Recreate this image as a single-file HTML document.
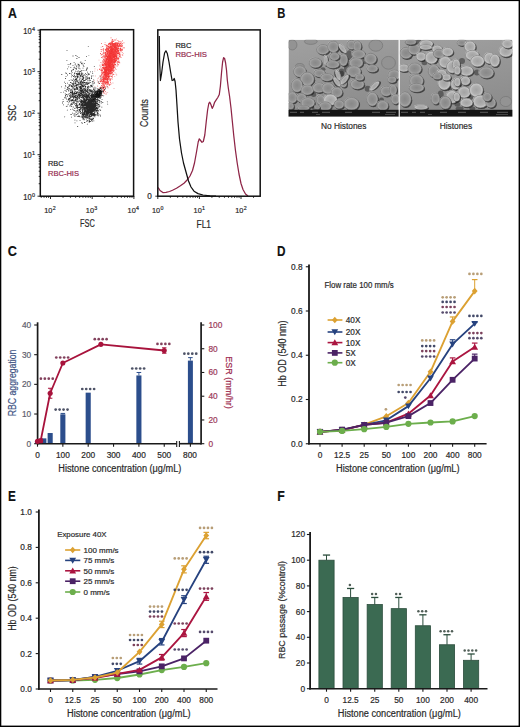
<!DOCTYPE html>
<html><head><meta charset="utf-8"><style>
html,body{margin:0;padding:0;background:#fff;}
svg{display:block;}
svg text{font-family:"Liberation Sans", sans-serif;}
</style></head><body>
<svg width="520" height="727" viewBox="0 0 520 727">
<rect x="0" y="0" width="520" height="727" fill="#fff"/>
<text x="7.9" y="17.7" font-size="14" fill="#111" stroke="#111" stroke-width="0.15" font-weight="bold" textLength="8.9" lengthAdjust="spacingAndGlyphs">A</text>
<text x="277.3" y="17.9" font-size="14" fill="#111" stroke="#111" stroke-width="0.15" font-weight="bold" textLength="8.1" lengthAdjust="spacingAndGlyphs">B</text>
<text x="7.8" y="256.3" font-size="14" fill="#111" stroke="#111" stroke-width="0.15" font-weight="bold" textLength="9.2" lengthAdjust="spacingAndGlyphs">C</text>
<text x="277.1" y="256.3" font-size="14" fill="#111" stroke="#111" stroke-width="0.15" font-weight="bold" textLength="8.5" lengthAdjust="spacingAndGlyphs">D</text>
<text x="8.1" y="501.3" font-size="14" fill="#111" stroke="#111" stroke-width="0.15" font-weight="bold" textLength="7.8" lengthAdjust="spacingAndGlyphs">E</text>
<text x="277.3" y="501.3" font-size="14" fill="#111" stroke="#111" stroke-width="0.15" font-weight="bold" textLength="7.5" lengthAdjust="spacingAndGlyphs">F</text>
<path d="M109.6 63.4h.8v.8h-.8zM107.9 69.8h.8v.8h-.8zM111.4 50.5h.8v.8h-.8zM109.8 62.9h.8v.8h-.8zM108.0 63.9h.8v.8h-.8zM110.1 59.4h.8v.8h-.8zM108.0 60.4h.8v.8h-.8zM108.1 60.7h.8v.8h-.8zM111.8 59.9h.8v.8h-.8zM104.3 76.5h.8v.8h-.8zM107.9 46.7h.8v.8h-.8zM107.2 60.8h.8v.8h-.8zM107.9 64.7h.8v.8h-.8zM111.1 50.3h.8v.8h-.8zM104.5 69.3h.8v.8h-.8zM102.9 61.5h.8v.8h-.8zM120.5 41.1h.8v.8h-.8zM106.9 69.8h.8v.8h-.8zM115.0 61.2h.8v.8h-.8zM111.0 57.9h.8v.8h-.8zM105.2 70.0h.8v.8h-.8zM98.2 77.7h.8v.8h-.8zM110.2 66.5h.8v.8h-.8zM107.9 61.0h.8v.8h-.8zM106.8 53.1h.8v.8h-.8zM98.2 77.5h.8v.8h-.8zM107.3 92.0h.8v.8h-.8zM107.0 53.8h.8v.8h-.8zM97.3 81.6h.8v.8h-.8zM113.6 88.1h.8v.8h-.8zM106.0 77.5h.8v.8h-.8zM115.9 55.6h.8v.8h-.8zM119.1 54.4h.8v.8h-.8zM94.0 81.7h.8v.8h-.8zM112.6 82.8h.8v.8h-.8zM114.0 61.6h.8v.8h-.8zM105.1 69.7h.8v.8h-.8zM111.5 53.2h.8v.8h-.8zM103.4 57.7h.8v.8h-.8zM116.8 52.9h.8v.8h-.8zM102.7 92.9h.8v.8h-.8zM112.9 63.4h.8v.8h-.8zM104.0 78.0h.8v.8h-.8zM115.4 49.7h.8v.8h-.8zM108.7 69.0h.8v.8h-.8zM105.2 67.3h.8v.8h-.8zM109.8 75.8h.8v.8h-.8zM103.8 70.3h.8v.8h-.8zM106.4 47.8h.8v.8h-.8zM111.6 55.5h.8v.8h-.8zM101.5 95.1h.8v.8h-.8zM105.1 71.2h.8v.8h-.8zM103.7 52.6h.8v.8h-.8zM98.5 93.5h.8v.8h-.8zM111.4 59.6h.8v.8h-.8zM105.3 68.9h.8v.8h-.8zM105.2 53.4h.8v.8h-.8zM108.4 55.5h.8v.8h-.8zM110.2 55.6h.8v.8h-.8zM110.3 74.8h.8v.8h-.8zM109.7 70.4h.8v.8h-.8zM108.7 50.6h.8v.8h-.8zM115.2 46.6h.8v.8h-.8zM114.7 64.0h.8v.8h-.8zM99.7 69.3h.8v.8h-.8zM109.4 54.2h.8v.8h-.8zM107.1 51.9h.8v.8h-.8zM111.7 62.4h.8v.8h-.8zM105.9 70.2h.8v.8h-.8zM97.8 90.8h.8v.8h-.8zM108.8 65.6h.8v.8h-.8zM112.2 49.5h.8v.8h-.8zM103.1 87.9h.8v.8h-.8zM104.7 42.3h.8v.8h-.8zM112.5 71.4h.8v.8h-.8zM100.4 67.8h.8v.8h-.8zM109.9 63.3h.8v.8h-.8zM114.2 58.4h.8v.8h-.8zM102.0 54.1h.8v.8h-.8zM109.7 55.4h.8v.8h-.8zM93.2 88.5h.8v.8h-.8zM100.4 66.6h.8v.8h-.8zM114.1 64.9h.8v.8h-.8zM111.2 68.2h.8v.8h-.8zM103.8 70.6h.8v.8h-.8zM106.3 58.9h.8v.8h-.8zM102.6 71.2h.8v.8h-.8zM113.2 67.3h.8v.8h-.8zM104.9 74.8h.8v.8h-.8zM101.8 85.9h.8v.8h-.8zM100.1 86.5h.8v.8h-.8zM118.7 60.4h.8v.8h-.8zM105.2 73.4h.8v.8h-.8zM114.1 57.4h.8v.8h-.8zM110.3 51.8h.8v.8h-.8zM98.7 91.7h.8v.8h-.8zM100.3 62.1h.8v.8h-.8zM108.2 73.9h.8v.8h-.8zM106.9 76.7h.8v.8h-.8zM115.5 64.7h.8v.8h-.8zM109.3 61.6h.8v.8h-.8zM114.9 43.0h.8v.8h-.8zM104.6 71.5h.8v.8h-.8zM100.6 66.0h.8v.8h-.8zM107.4 56.4h.8v.8h-.8zM115.6 73.6h.8v.8h-.8zM117.0 62.9h.8v.8h-.8zM104.1 74.6h.8v.8h-.8zM109.4 59.4h.8v.8h-.8zM114.0 56.1h.8v.8h-.8zM108.2 62.0h.8v.8h-.8zM103.6 79.9h.8v.8h-.8zM113.5 54.2h.8v.8h-.8zM114.1 47.9h.8v.8h-.8zM107.8 54.3h.8v.8h-.8zM113.3 60.4h.8v.8h-.8zM109.4 43.7h.8v.8h-.8zM106.7 55.8h.8v.8h-.8zM106.6 69.2h.8v.8h-.8zM110.3 57.6h.8v.8h-.8zM94.6 68.5h.8v.8h-.8zM110.3 60.5h.8v.8h-.8zM118.3 56.4h.8v.8h-.8zM114.3 46.9h.8v.8h-.8zM108.6 72.9h.8v.8h-.8zM106.5 48.3h.8v.8h-.8zM107.9 60.2h.8v.8h-.8zM113.2 65.1h.8v.8h-.8zM110.2 48.9h.8v.8h-.8zM107.4 74.9h.8v.8h-.8zM111.9 54.4h.8v.8h-.8zM104.8 70.0h.8v.8h-.8zM110.7 58.1h.8v.8h-.8zM108.6 66.2h.8v.8h-.8zM96.9 80.0h.8v.8h-.8zM114.2 66.1h.8v.8h-.8zM110.3 69.9h.8v.8h-.8zM106.3 80.6h.8v.8h-.8zM107.9 65.5h.8v.8h-.8zM107.5 81.1h.8v.8h-.8zM112.7 52.3h.8v.8h-.8zM111.9 78.9h.8v.8h-.8zM120.2 56.5h.8v.8h-.8zM103.1 67.5h.8v.8h-.8zM106.1 54.5h.8v.8h-.8zM104.3 68.8h.8v.8h-.8zM114.9 56.5h.8v.8h-.8zM94.5 86.2h.8v.8h-.8zM114.6 72.0h.8v.8h-.8zM103.0 57.7h.8v.8h-.8zM97.3 78.4h.8v.8h-.8zM111.3 47.9h.8v.8h-.8zM106.6 75.3h.8v.8h-.8zM94.9 75.6h.8v.8h-.8zM117.9 57.0h.8v.8h-.8zM107.0 57.3h.8v.8h-.8zM102.6 67.3h.8v.8h-.8zM102.8 75.8h.8v.8h-.8zM108.2 74.7h.8v.8h-.8zM111.3 47.9h.8v.8h-.8zM104.9 45.4h.8v.8h-.8zM109.4 64.1h.8v.8h-.8zM112.9 53.9h.8v.8h-.8zM110.3 67.0h.8v.8h-.8zM110.0 44.5h.8v.8h-.8zM113.2 61.3h.8v.8h-.8zM106.7 69.7h.8v.8h-.8zM113.7 55.6h.8v.8h-.8zM108.6 59.6h.8v.8h-.8zM114.7 62.0h.8v.8h-.8zM102.9 55.1h.8v.8h-.8zM108.6 63.1h.8v.8h-.8zM105.1 82.0h.8v.8h-.8zM93.8 79.9h.8v.8h-.8zM115.2 59.7h.8v.8h-.8zM105.0 72.2h.8v.8h-.8zM114.3 54.7h.8v.8h-.8zM101.8 83.1h.8v.8h-.8zM100.7 46.8h.8v.8h-.8zM106.0 70.8h.8v.8h-.8zM101.6 82.8h.8v.8h-.8zM117.3 63.6h.8v.8h-.8zM113.7 46.0h.8v.8h-.8zM103.1 84.1h.8v.8h-.8zM107.9 67.9h.8v.8h-.8zM101.5 79.2h.8v.8h-.8zM107.6 48.3h.8v.8h-.8zM108.0 76.2h.8v.8h-.8zM115.3 58.3h.8v.8h-.8zM101.6 86.2h.8v.8h-.8zM118.5 53.2h.8v.8h-.8zM106.3 64.8h.8v.8h-.8zM107.4 61.6h.8v.8h-.8zM110.3 78.6h.8v.8h-.8zM105.6 73.2h.8v.8h-.8zM102.1 86.3h.8v.8h-.8zM103.3 68.1h.8v.8h-.8zM103.9 83.8h.8v.8h-.8zM109.7 56.5h.8v.8h-.8zM105.8 67.4h.8v.8h-.8zM108.9 65.1h.8v.8h-.8zM118.0 62.3h.8v.8h-.8zM114.2 64.4h.8v.8h-.8zM113.6 55.9h.8v.8h-.8zM106.3 69.4h.8v.8h-.8zM100.8 69.5h.8v.8h-.8zM117.7 57.8h.8v.8h-.8zM112.5 48.7h.8v.8h-.8zM115.2 64.1h.8v.8h-.8zM104.1 58.4h.8v.8h-.8zM113.9 58.3h.8v.8h-.8zM107.2 53.2h.8v.8h-.8zM106.1 84.6h.8v.8h-.8zM103.4 81.6h.8v.8h-.8zM110.5 57.6h.8v.8h-.8zM102.9 81.1h.8v.8h-.8zM107.2 49.2h.8v.8h-.8zM117.2 56.8h.8v.8h-.8zM99.7 64.6h.8v.8h-.8zM105.3 67.0h.8v.8h-.8zM109.8 61.9h.8v.8h-.8zM110.8 60.8h.8v.8h-.8zM103.2 82.9h.8v.8h-.8zM104.3 60.5h.8v.8h-.8zM103.5 85.0h.8v.8h-.8zM110.5 79.2h.8v.8h-.8zM111.7 72.1h.8v.8h-.8zM106.6 85.8h.8v.8h-.8zM110.7 53.3h.8v.8h-.8zM110.1 57.5h.8v.8h-.8zM113.0 59.6h.8v.8h-.8zM106.6 79.1h.8v.8h-.8zM106.6 82.4h.8v.8h-.8zM104.6 74.4h.8v.8h-.8zM108.8 60.2h.8v.8h-.8zM109.9 71.5h.8v.8h-.8zM104.6 67.8h.8v.8h-.8zM108.9 76.2h.8v.8h-.8zM114.3 76.0h.8v.8h-.8zM106.9 58.9h.8v.8h-.8zM98.6 88.1h.8v.8h-.8zM110.1 70.2h.8v.8h-.8zM106.3 59.8h.8v.8h-.8zM109.3 54.4h.8v.8h-.8zM113.0 53.8h.8v.8h-.8zM111.6 73.9h.8v.8h-.8zM110.2 53.1h.8v.8h-.8zM115.4 55.4h.8v.8h-.8zM102.1 62.8h.8v.8h-.8zM98.9 94.1h.8v.8h-.8zM104.5 56.3h.8v.8h-.8zM105.9 64.8h.8v.8h-.8zM98.6 59.7h.8v.8h-.8zM105.8 92.6h.8v.8h-.8zM115.9 68.9h.8v.8h-.8zM110.6 61.4h.8v.8h-.8zM116.0 56.4h.8v.8h-.8zM110.9 49.3h.8v.8h-.8zM109.0 58.1h.8v.8h-.8zM107.9 46.7h.8v.8h-.8zM109.6 59.6h.8v.8h-.8zM99.1 75.4h.8v.8h-.8zM101.4 88.5h.8v.8h-.8zM104.1 66.5h.8v.8h-.8zM98.7 82.8h.8v.8h-.8zM122.9 52.9h.8v.8h-.8zM113.0 57.0h.8v.8h-.8zM105.1 72.4h.8v.8h-.8zM107.3 86.3h.8v.8h-.8zM107.3 63.5h.8v.8h-.8zM115.1 50.6h.8v.8h-.8zM114.0 47.2h.8v.8h-.8zM107.6 55.4h.8v.8h-.8zM114.5 63.9h.8v.8h-.8zM104.3 65.5h.8v.8h-.8zM116.1 38.5h.8v.8h-.8zM107.4 61.6h.8v.8h-.8zM111.7 60.7h.8v.8h-.8zM106.7 54.5h.8v.8h-.8zM97.1 85.4h.8v.8h-.8zM113.9 56.0h.8v.8h-.8zM101.0 93.1h.8v.8h-.8zM110.9 51.2h.8v.8h-.8zM111.7 64.1h.8v.8h-.8zM109.0 67.8h.8v.8h-.8zM114.8 66.5h.8v.8h-.8zM103.9 59.5h.8v.8h-.8zM112.5 82.4h.8v.8h-.8zM109.2 56.1h.8v.8h-.8zM112.0 49.8h.8v.8h-.8zM97.2 69.6h.8v.8h-.8zM111.1 70.6h.8v.8h-.8zM104.6 58.1h.8v.8h-.8zM107.5 82.2h.8v.8h-.8zM111.4 51.7h.8v.8h-.8zM115.3 61.6h.8v.8h-.8zM108.3 73.1h.8v.8h-.8zM112.8 64.7h.8v.8h-.8zM116.2 62.5h.8v.8h-.8zM105.7 57.5h.8v.8h-.8zM109.8 45.7h.8v.8h-.8zM111.1 59.7h.8v.8h-.8zM109.7 69.7h.8v.8h-.8zM121.9 52.1h.8v.8h-.8zM113.1 56.1h.8v.8h-.8zM112.7 63.7h.8v.8h-.8zM103.8 71.8h.8v.8h-.8zM104.9 64.1h.8v.8h-.8zM109.8 57.2h.8v.8h-.8zM102.4 53.5h.8v.8h-.8zM101.2 74.5h.8v.8h-.8zM115.6 73.4h.8v.8h-.8zM106.5 75.1h.8v.8h-.8zM112.2 70.8h.8v.8h-.8zM111.0 69.8h.8v.8h-.8zM109.3 66.3h.8v.8h-.8zM111.9 51.4h.8v.8h-.8zM108.6 78.5h.8v.8h-.8zM116.3 74.6h.8v.8h-.8zM101.7 77.5h.8v.8h-.8zM106.8 77.9h.8v.8h-.8zM106.1 66.4h.8v.8h-.8zM117.8 50.0h.8v.8h-.8zM111.7 76.5h.8v.8h-.8zM109.4 66.9h.8v.8h-.8zM105.7 79.4h.8v.8h-.8zM105.9 71.5h.8v.8h-.8zM111.4 62.6h.8v.8h-.8zM106.1 67.0h.8v.8h-.8zM114.4 47.5h.8v.8h-.8zM109.8 65.1h.8v.8h-.8zM108.2 59.5h.8v.8h-.8zM117.8 55.3h.8v.8h-.8zM107.9 67.8h.8v.8h-.8zM100.6 54.4h.8v.8h-.8zM94.4 70.8h.8v.8h-.8zM103.9 55.4h.8v.8h-.8zM101.4 95.8h.8v.8h-.8zM108.6 70.3h.8v.8h-.8zM115.0 64.0h.8v.8h-.8zM114.0 59.4h.8v.8h-.8zM108.6 56.7h.8v.8h-.8zM115.3 56.4h.8v.8h-.8zM104.4 72.0h.8v.8h-.8zM114.6 67.6h.8v.8h-.8zM109.0 53.3h.8v.8h-.8zM97.3 86.0h.8v.8h-.8zM111.2 83.4h.8v.8h-.8zM116.7 53.2h.8v.8h-.8zM99.3 65.4h.8v.8h-.8z" fill="#e04040" stroke="none" stroke-width="1" opacity="0.55"/>
<path d="M107.5 68.8h0.85v0.85h-0.85zM112.3 57.4h0.85v0.85h-0.85zM110.3 56.4h0.85v0.85h-0.85zM104.0 69.7h0.85v0.85h-0.85zM113.8 59.5h0.85v0.85h-0.85zM113.9 48.0h0.85v0.85h-0.85zM110.1 47.8h0.85v0.85h-0.85zM108.4 56.6h0.85v0.85h-0.85zM111.8 58.1h0.85v0.85h-0.85zM113.1 48.1h0.85v0.85h-0.85zM105.8 68.1h0.85v0.85h-0.85zM103.6 80.3h0.85v0.85h-0.85zM111.6 42.7h0.85v0.85h-0.85zM106.8 71.6h0.85v0.85h-0.85zM109.4 68.9h0.85v0.85h-0.85zM117.5 64.0h0.85v0.85h-0.85zM110.2 57.0h0.85v0.85h-0.85zM101.6 49.3h0.85v0.85h-0.85zM109.7 60.5h0.85v0.85h-0.85zM101.2 54.3h0.85v0.85h-0.85zM105.5 68.1h0.85v0.85h-0.85zM106.3 59.2h0.85v0.85h-0.85zM106.4 60.0h0.85v0.85h-0.85zM109.3 49.7h0.85v0.85h-0.85zM113.6 57.4h0.85v0.85h-0.85zM105.1 69.0h0.85v0.85h-0.85zM105.2 67.8h0.85v0.85h-0.85zM102.3 84.2h0.85v0.85h-0.85zM104.9 75.1h0.85v0.85h-0.85zM108.9 57.3h0.85v0.85h-0.85zM110.9 45.9h0.85v0.85h-0.85zM104.2 61.2h0.85v0.85h-0.85zM118.1 53.4h0.85v0.85h-0.85zM109.7 63.7h0.85v0.85h-0.85zM107.1 45.2h0.85v0.85h-0.85zM115.7 44.4h0.85v0.85h-0.85zM111.6 53.3h0.85v0.85h-0.85zM108.7 43.3h0.85v0.85h-0.85zM110.6 72.3h0.85v0.85h-0.85zM106.9 74.4h0.85v0.85h-0.85zM113.8 39.6h0.85v0.85h-0.85zM108.7 55.6h0.85v0.85h-0.85zM111.9 63.1h0.85v0.85h-0.85zM110.1 46.3h0.85v0.85h-0.85zM118.5 52.8h0.85v0.85h-0.85zM106.9 67.0h0.85v0.85h-0.85zM105.3 65.3h0.85v0.85h-0.85zM111.0 47.8h0.85v0.85h-0.85zM110.9 65.6h0.85v0.85h-0.85zM102.1 69.4h0.85v0.85h-0.85zM101.5 86.9h0.85v0.85h-0.85zM108.3 57.7h0.85v0.85h-0.85zM101.0 80.0h0.85v0.85h-0.85zM109.4 63.2h0.85v0.85h-0.85zM107.2 56.7h0.85v0.85h-0.85zM110.3 46.8h0.85v0.85h-0.85zM104.2 76.7h0.85v0.85h-0.85zM102.1 76.5h0.85v0.85h-0.85zM116.8 44.8h0.85v0.85h-0.85zM111.4 58.3h0.85v0.85h-0.85zM109.8 65.3h0.85v0.85h-0.85zM106.0 81.8h0.85v0.85h-0.85zM111.7 46.9h0.85v0.85h-0.85zM107.9 68.2h0.85v0.85h-0.85zM121.8 49.8h0.85v0.85h-0.85zM103.5 77.7h0.85v0.85h-0.85zM112.4 62.0h0.85v0.85h-0.85zM104.3 69.2h0.85v0.85h-0.85zM115.5 45.3h0.85v0.85h-0.85zM107.9 53.4h0.85v0.85h-0.85zM102.6 65.1h0.85v0.85h-0.85zM114.0 57.5h0.85v0.85h-0.85zM110.1 51.9h0.85v0.85h-0.85zM113.9 47.1h0.85v0.85h-0.85zM108.3 62.9h0.85v0.85h-0.85zM108.1 56.7h0.85v0.85h-0.85zM110.1 48.9h0.85v0.85h-0.85zM104.9 73.5h0.85v0.85h-0.85zM111.3 70.0h0.85v0.85h-0.85zM115.4 46.5h0.85v0.85h-0.85zM115.2 58.2h0.85v0.85h-0.85zM106.8 77.9h0.85v0.85h-0.85zM105.9 67.1h0.85v0.85h-0.85zM119.4 48.4h0.85v0.85h-0.85zM107.4 67.6h0.85v0.85h-0.85zM111.0 45.9h0.85v0.85h-0.85zM113.6 55.6h0.85v0.85h-0.85zM110.4 56.9h0.85v0.85h-0.85zM114.1 44.0h0.85v0.85h-0.85zM105.9 77.4h0.85v0.85h-0.85zM115.9 42.8h0.85v0.85h-0.85zM112.6 51.0h0.85v0.85h-0.85zM104.6 68.5h0.85v0.85h-0.85zM111.0 41.5h0.85v0.85h-0.85zM111.5 53.0h0.85v0.85h-0.85zM106.0 79.3h0.85v0.85h-0.85zM109.1 57.0h0.85v0.85h-0.85zM105.1 49.8h0.85v0.85h-0.85zM106.6 75.4h0.85v0.85h-0.85zM106.8 68.3h0.85v0.85h-0.85zM109.5 66.5h0.85v0.85h-0.85zM110.5 53.9h0.85v0.85h-0.85zM114.7 60.9h0.85v0.85h-0.85zM122.0 40.5h0.85v0.85h-0.85zM117.3 42.7h0.85v0.85h-0.85zM109.9 58.3h0.85v0.85h-0.85zM108.2 56.0h0.85v0.85h-0.85zM107.4 56.2h0.85v0.85h-0.85zM103.3 87.9h0.85v0.85h-0.85zM106.1 70.7h0.85v0.85h-0.85zM113.5 57.3h0.85v0.85h-0.85zM104.6 43.9h0.85v0.85h-0.85zM109.6 64.9h0.85v0.85h-0.85zM111.0 47.3h0.85v0.85h-0.85zM109.1 67.5h0.85v0.85h-0.85zM115.3 42.3h0.85v0.85h-0.85zM113.5 57.8h0.85v0.85h-0.85zM110.0 44.3h0.85v0.85h-0.85zM117.3 54.7h0.85v0.85h-0.85zM113.9 44.4h0.85v0.85h-0.85zM104.7 80.7h0.85v0.85h-0.85zM116.9 53.4h0.85v0.85h-0.85zM102.8 80.6h0.85v0.85h-0.85zM106.4 65.2h0.85v0.85h-0.85zM112.3 49.8h0.85v0.85h-0.85zM116.1 47.8h0.85v0.85h-0.85zM112.1 57.1h0.85v0.85h-0.85zM110.2 68.0h0.85v0.85h-0.85zM112.3 43.8h0.85v0.85h-0.85zM107.2 57.7h0.85v0.85h-0.85zM105.3 64.9h0.85v0.85h-0.85zM110.1 70.1h0.85v0.85h-0.85zM112.6 64.3h0.85v0.85h-0.85zM109.6 45.8h0.85v0.85h-0.85zM108.3 49.9h0.85v0.85h-0.85zM101.9 57.4h0.85v0.85h-0.85zM113.7 52.6h0.85v0.85h-0.85zM112.7 54.9h0.85v0.85h-0.85zM113.2 51.1h0.85v0.85h-0.85zM107.2 80.7h0.85v0.85h-0.85zM102.7 82.6h0.85v0.85h-0.85zM106.7 73.5h0.85v0.85h-0.85zM115.4 57.9h0.85v0.85h-0.85zM114.4 51.7h0.85v0.85h-0.85zM103.1 90.8h0.85v0.85h-0.85zM104.7 57.2h0.85v0.85h-0.85zM106.5 48.9h0.85v0.85h-0.85zM112.5 49.0h0.85v0.85h-0.85zM104.2 66.7h0.85v0.85h-0.85zM115.5 51.5h0.85v0.85h-0.85zM118.3 50.0h0.85v0.85h-0.85zM109.1 64.9h0.85v0.85h-0.85zM119.3 54.3h0.85v0.85h-0.85zM100.7 79.8h0.85v0.85h-0.85zM106.6 70.2h0.85v0.85h-0.85zM105.8 74.2h0.85v0.85h-0.85zM113.8 47.3h0.85v0.85h-0.85zM111.6 48.0h0.85v0.85h-0.85zM114.7 46.5h0.85v0.85h-0.85zM102.9 53.3h0.85v0.85h-0.85zM115.0 48.2h0.85v0.85h-0.85zM110.6 64.7h0.85v0.85h-0.85zM106.8 56.8h0.85v0.85h-0.85zM114.3 43.5h0.85v0.85h-0.85zM105.8 72.4h0.85v0.85h-0.85zM108.3 48.5h0.85v0.85h-0.85zM115.7 54.4h0.85v0.85h-0.85zM110.1 78.9h0.85v0.85h-0.85zM110.3 58.9h0.85v0.85h-0.85zM112.0 63.7h0.85v0.85h-0.85zM114.9 55.4h0.85v0.85h-0.85zM113.9 53.5h0.85v0.85h-0.85zM107.1 79.6h0.85v0.85h-0.85zM103.1 61.9h0.85v0.85h-0.85zM113.4 45.2h0.85v0.85h-0.85zM105.7 74.4h0.85v0.85h-0.85zM108.3 73.1h0.85v0.85h-0.85zM112.4 43.1h0.85v0.85h-0.85zM115.1 55.5h0.85v0.85h-0.85zM109.3 55.7h0.85v0.85h-0.85zM108.1 60.9h0.85v0.85h-0.85zM110.6 45.9h0.85v0.85h-0.85zM105.3 77.8h0.85v0.85h-0.85zM109.4 50.5h0.85v0.85h-0.85zM117.0 48.3h0.85v0.85h-0.85zM111.5 71.6h0.85v0.85h-0.85zM108.7 76.7h0.85v0.85h-0.85zM110.0 65.7h0.85v0.85h-0.85zM109.9 47.5h0.85v0.85h-0.85zM108.0 55.7h0.85v0.85h-0.85zM109.2 53.2h0.85v0.85h-0.85zM103.5 83.5h0.85v0.85h-0.85zM112.2 59.0h0.85v0.85h-0.85zM114.4 51.3h0.85v0.85h-0.85zM103.7 74.7h0.85v0.85h-0.85zM112.1 58.7h0.85v0.85h-0.85zM116.1 59.2h0.85v0.85h-0.85zM110.1 63.0h0.85v0.85h-0.85zM108.7 72.7h0.85v0.85h-0.85zM107.6 71.2h0.85v0.85h-0.85zM103.9 72.3h0.85v0.85h-0.85zM114.8 47.2h0.85v0.85h-0.85zM113.7 55.8h0.85v0.85h-0.85zM117.5 40.0h0.85v0.85h-0.85zM121.8 54.4h0.85v0.85h-0.85zM101.1 74.3h0.85v0.85h-0.85zM105.4 71.0h0.85v0.85h-0.85zM103.3 68.0h0.85v0.85h-0.85zM116.5 50.5h0.85v0.85h-0.85zM105.5 72.8h0.85v0.85h-0.85zM111.7 47.8h0.85v0.85h-0.85zM109.3 63.3h0.85v0.85h-0.85zM105.0 76.9h0.85v0.85h-0.85zM120.6 48.5h0.85v0.85h-0.85zM107.1 61.3h0.85v0.85h-0.85zM113.3 45.7h0.85v0.85h-0.85zM105.8 51.6h0.85v0.85h-0.85zM111.1 62.5h0.85v0.85h-0.85zM109.6 62.3h0.85v0.85h-0.85zM115.1 44.8h0.85v0.85h-0.85zM107.6 56.0h0.85v0.85h-0.85zM106.2 75.6h0.85v0.85h-0.85zM105.0 86.6h0.85v0.85h-0.85zM111.3 54.6h0.85v0.85h-0.85zM105.9 49.6h0.85v0.85h-0.85zM102.7 68.4h0.85v0.85h-0.85zM113.3 40.8h0.85v0.85h-0.85zM111.9 49.4h0.85v0.85h-0.85zM107.7 66.0h0.85v0.85h-0.85zM115.6 51.5h0.85v0.85h-0.85zM106.6 63.6h0.85v0.85h-0.85zM107.5 64.0h0.85v0.85h-0.85zM111.9 44.3h0.85v0.85h-0.85zM106.7 65.3h0.85v0.85h-0.85zM111.0 46.5h0.85v0.85h-0.85zM107.3 67.3h0.85v0.85h-0.85zM109.9 73.2h0.85v0.85h-0.85zM103.1 50.3h0.85v0.85h-0.85zM116.0 59.5h0.85v0.85h-0.85zM116.9 44.3h0.85v0.85h-0.85zM110.8 52.7h0.85v0.85h-0.85zM119.5 53.4h0.85v0.85h-0.85zM109.5 56.1h0.85v0.85h-0.85zM117.4 50.2h0.85v0.85h-0.85zM109.4 47.8h0.85v0.85h-0.85zM118.0 45.5h0.85v0.85h-0.85zM103.1 49.0h0.85v0.85h-0.85zM114.0 56.3h0.85v0.85h-0.85zM111.2 49.7h0.85v0.85h-0.85zM110.7 73.1h0.85v0.85h-0.85zM113.7 44.1h0.85v0.85h-0.85zM110.2 66.8h0.85v0.85h-0.85zM107.6 50.6h0.85v0.85h-0.85zM107.5 74.1h0.85v0.85h-0.85zM109.6 72.7h0.85v0.85h-0.85zM110.9 48.7h0.85v0.85h-0.85zM115.3 50.7h0.85v0.85h-0.85zM107.6 67.1h0.85v0.85h-0.85zM101.3 57.1h0.85v0.85h-0.85zM111.7 56.2h0.85v0.85h-0.85zM110.2 61.3h0.85v0.85h-0.85zM120.6 56.9h0.85v0.85h-0.85zM119.6 45.6h0.85v0.85h-0.85zM106.1 66.4h0.85v0.85h-0.85zM112.2 50.8h0.85v0.85h-0.85zM113.9 50.2h0.85v0.85h-0.85zM107.9 66.9h0.85v0.85h-0.85zM105.5 74.0h0.85v0.85h-0.85zM113.5 52.9h0.85v0.85h-0.85zM112.9 43.3h0.85v0.85h-0.85zM104.9 83.7h0.85v0.85h-0.85zM106.6 45.9h0.85v0.85h-0.85zM106.4 72.0h0.85v0.85h-0.85zM104.5 60.7h0.85v0.85h-0.85zM110.6 59.9h0.85v0.85h-0.85zM112.1 52.5h0.85v0.85h-0.85zM108.3 60.8h0.85v0.85h-0.85zM104.3 86.5h0.85v0.85h-0.85zM109.9 69.0h0.85v0.85h-0.85zM108.7 62.3h0.85v0.85h-0.85zM104.9 91.0h0.85v0.85h-0.85zM113.6 52.6h0.85v0.85h-0.85zM110.3 52.6h0.85v0.85h-0.85zM109.2 47.1h0.85v0.85h-0.85zM110.0 61.7h0.85v0.85h-0.85zM107.9 52.4h0.85v0.85h-0.85zM114.0 49.4h0.85v0.85h-0.85zM116.4 50.6h0.85v0.85h-0.85zM118.0 59.5h0.85v0.85h-0.85zM111.7 60.3h0.85v0.85h-0.85zM107.0 62.9h0.85v0.85h-0.85zM110.6 56.4h0.85v0.85h-0.85zM110.1 52.1h0.85v0.85h-0.85zM109.1 63.3h0.85v0.85h-0.85zM110.6 63.8h0.85v0.85h-0.85zM112.3 63.2h0.85v0.85h-0.85zM110.5 61.3h0.85v0.85h-0.85zM108.3 81.0h0.85v0.85h-0.85zM109.3 56.5h0.85v0.85h-0.85zM114.8 55.6h0.85v0.85h-0.85zM111.8 48.4h0.85v0.85h-0.85zM108.6 74.2h0.85v0.85h-0.85zM111.2 50.0h0.85v0.85h-0.85zM115.5 46.6h0.85v0.85h-0.85zM105.0 73.7h0.85v0.85h-0.85zM120.5 48.4h0.85v0.85h-0.85zM113.2 53.2h0.85v0.85h-0.85zM106.4 46.9h0.85v0.85h-0.85zM106.7 69.9h0.85v0.85h-0.85zM108.8 76.6h0.85v0.85h-0.85zM106.8 76.2h0.85v0.85h-0.85zM108.9 79.6h0.85v0.85h-0.85zM107.5 80.5h0.85v0.85h-0.85zM106.3 51.6h0.85v0.85h-0.85zM116.5 48.4h0.85v0.85h-0.85zM109.3 69.4h0.85v0.85h-0.85zM115.0 43.5h0.85v0.85h-0.85zM103.0 64.2h0.85v0.85h-0.85zM107.3 64.5h0.85v0.85h-0.85zM114.8 57.5h0.85v0.85h-0.85zM107.4 72.0h0.85v0.85h-0.85zM106.1 71.2h0.85v0.85h-0.85zM122.1 45.3h0.85v0.85h-0.85zM113.3 56.3h0.85v0.85h-0.85zM111.6 57.7h0.85v0.85h-0.85zM99.8 79.2h0.85v0.85h-0.85zM115.6 52.3h0.85v0.85h-0.85zM112.2 66.4h0.85v0.85h-0.85zM113.4 61.1h0.85v0.85h-0.85zM120.9 43.9h0.85v0.85h-0.85zM115.1 43.9h0.85v0.85h-0.85zM117.8 48.7h0.85v0.85h-0.85zM110.7 53.3h0.85v0.85h-0.85zM104.6 44.1h0.85v0.85h-0.85zM110.5 51.8h0.85v0.85h-0.85zM108.0 76.0h0.85v0.85h-0.85zM111.8 54.5h0.85v0.85h-0.85zM109.1 63.1h0.85v0.85h-0.85zM109.1 54.7h0.85v0.85h-0.85zM108.3 49.6h0.85v0.85h-0.85zM115.5 52.6h0.85v0.85h-0.85zM108.1 67.1h0.85v0.85h-0.85zM108.2 68.9h0.85v0.85h-0.85zM110.2 61.9h0.85v0.85h-0.85zM108.7 66.0h0.85v0.85h-0.85zM110.0 57.3h0.85v0.85h-0.85zM106.2 75.9h0.85v0.85h-0.85zM104.2 70.6h0.85v0.85h-0.85zM109.2 59.5h0.85v0.85h-0.85zM109.4 68.9h0.85v0.85h-0.85zM113.4 62.2h0.85v0.85h-0.85zM112.5 56.6h0.85v0.85h-0.85zM109.5 52.6h0.85v0.85h-0.85zM123.0 47.4h0.85v0.85h-0.85zM100.9 69.5h0.85v0.85h-0.85zM111.0 66.7h0.85v0.85h-0.85zM119.7 48.3h0.85v0.85h-0.85zM104.9 63.2h0.85v0.85h-0.85zM108.9 63.7h0.85v0.85h-0.85zM107.2 69.3h0.85v0.85h-0.85zM108.7 53.7h0.85v0.85h-0.85zM105.2 64.4h0.85v0.85h-0.85zM113.4 54.1h0.85v0.85h-0.85zM107.7 73.5h0.85v0.85h-0.85zM109.6 51.3h0.85v0.85h-0.85zM110.0 49.2h0.85v0.85h-0.85zM106.0 73.1h0.85v0.85h-0.85zM109.6 64.3h0.85v0.85h-0.85zM106.9 72.4h0.85v0.85h-0.85zM104.7 75.8h0.85v0.85h-0.85zM106.1 45.4h0.85v0.85h-0.85zM112.2 59.9h0.85v0.85h-0.85zM106.3 45.6h0.85v0.85h-0.85zM110.5 63.5h0.85v0.85h-0.85zM117.4 45.3h0.85v0.85h-0.85zM113.6 56.6h0.85v0.85h-0.85zM114.0 50.2h0.85v0.85h-0.85zM112.0 59.9h0.85v0.85h-0.85zM114.6 56.5h0.85v0.85h-0.85zM118.1 48.4h0.85v0.85h-0.85zM107.3 51.5h0.85v0.85h-0.85zM108.0 71.1h0.85v0.85h-0.85zM108.2 68.0h0.85v0.85h-0.85zM108.4 67.6h0.85v0.85h-0.85zM114.3 66.9h0.85v0.85h-0.85zM102.8 78.6h0.85v0.85h-0.85zM106.9 59.5h0.85v0.85h-0.85zM109.6 59.4h0.85v0.85h-0.85zM118.8 45.0h0.85v0.85h-0.85zM108.9 59.5h0.85v0.85h-0.85zM110.5 63.3h0.85v0.85h-0.85zM118.1 61.2h0.85v0.85h-0.85zM117.7 51.4h0.85v0.85h-0.85zM113.5 54.2h0.85v0.85h-0.85zM111.4 50.0h0.85v0.85h-0.85zM111.1 66.6h0.85v0.85h-0.85zM108.0 77.1h0.85v0.85h-0.85zM105.5 78.1h0.85v0.85h-0.85zM111.9 67.7h0.85v0.85h-0.85zM100.5 87.3h0.85v0.85h-0.85zM113.0 62.1h0.85v0.85h-0.85zM110.2 61.8h0.85v0.85h-0.85zM114.0 52.9h0.85v0.85h-0.85zM107.4 68.3h0.85v0.85h-0.85zM110.0 53.2h0.85v0.85h-0.85zM113.5 46.2h0.85v0.85h-0.85zM105.3 65.3h0.85v0.85h-0.85zM109.9 64.4h0.85v0.85h-0.85zM122.7 47.4h0.85v0.85h-0.85zM109.3 55.8h0.85v0.85h-0.85zM104.9 80.7h0.85v0.85h-0.85zM115.9 45.1h0.85v0.85h-0.85zM109.5 52.1h0.85v0.85h-0.85zM103.1 71.5h0.85v0.85h-0.85zM103.5 88.5h0.85v0.85h-0.85zM102.8 92.0h0.85v0.85h-0.85zM120.5 46.3h0.85v0.85h-0.85zM106.0 70.9h0.85v0.85h-0.85zM102.9 72.0h0.85v0.85h-0.85zM109.0 56.8h0.85v0.85h-0.85zM110.0 63.7h0.85v0.85h-0.85zM117.9 49.9h0.85v0.85h-0.85zM110.2 56.4h0.85v0.85h-0.85zM111.2 49.6h0.85v0.85h-0.85zM110.6 69.8h0.85v0.85h-0.85zM105.4 60.9h0.85v0.85h-0.85zM114.3 49.6h0.85v0.85h-0.85zM106.8 79.1h0.85v0.85h-0.85zM105.9 77.8h0.85v0.85h-0.85zM115.3 47.3h0.85v0.85h-0.85zM102.9 81.3h0.85v0.85h-0.85zM108.5 65.0h0.85v0.85h-0.85zM109.6 55.6h0.85v0.85h-0.85zM113.6 69.5h0.85v0.85h-0.85zM111.1 53.3h0.85v0.85h-0.85zM108.0 64.4h0.85v0.85h-0.85zM104.5 62.1h0.85v0.85h-0.85zM112.3 47.8h0.85v0.85h-0.85zM113.0 55.1h0.85v0.85h-0.85zM112.8 51.5h0.85v0.85h-0.85zM103.5 67.8h0.85v0.85h-0.85zM115.8 48.4h0.85v0.85h-0.85zM107.0 65.4h0.85v0.85h-0.85zM102.6 88.0h0.85v0.85h-0.85zM110.0 59.5h0.85v0.85h-0.85zM107.9 72.6h0.85v0.85h-0.85zM114.5 61.4h0.85v0.85h-0.85zM114.3 45.1h0.85v0.85h-0.85zM110.0 59.2h0.85v0.85h-0.85zM116.2 52.6h0.85v0.85h-0.85zM106.4 75.1h0.85v0.85h-0.85zM117.5 42.2h0.85v0.85h-0.85zM109.2 59.9h0.85v0.85h-0.85zM112.2 55.8h0.85v0.85h-0.85zM114.9 55.4h0.85v0.85h-0.85zM117.2 50.9h0.85v0.85h-0.85zM106.6 49.4h0.85v0.85h-0.85zM117.9 64.5h0.85v0.85h-0.85zM107.3 64.1h0.85v0.85h-0.85zM113.0 67.4h0.85v0.85h-0.85zM101.1 85.2h0.85v0.85h-0.85zM116.6 47.0h0.85v0.85h-0.85zM108.8 51.0h0.85v0.85h-0.85zM114.6 56.2h0.85v0.85h-0.85zM112.0 67.8h0.85v0.85h-0.85zM110.7 61.1h0.85v0.85h-0.85zM107.4 69.3h0.85v0.85h-0.85zM105.7 63.7h0.85v0.85h-0.85zM117.1 47.7h0.85v0.85h-0.85zM103.5 75.6h0.85v0.85h-0.85zM115.7 47.0h0.85v0.85h-0.85zM116.4 49.4h0.85v0.85h-0.85zM109.1 42.8h0.85v0.85h-0.85zM103.3 78.8h0.85v0.85h-0.85zM114.3 52.8h0.85v0.85h-0.85zM111.2 59.0h0.85v0.85h-0.85zM111.4 48.3h0.85v0.85h-0.85zM112.0 63.7h0.85v0.85h-0.85zM110.2 69.5h0.85v0.85h-0.85zM114.6 59.8h0.85v0.85h-0.85zM111.0 72.3h0.85v0.85h-0.85zM105.7 60.2h0.85v0.85h-0.85zM102.7 76.8h0.85v0.85h-0.85zM115.4 59.3h0.85v0.85h-0.85zM114.7 50.0h0.85v0.85h-0.85zM112.6 59.7h0.85v0.85h-0.85zM120.8 45.0h0.85v0.85h-0.85zM112.6 45.0h0.85v0.85h-0.85zM112.7 47.5h0.85v0.85h-0.85zM107.7 53.6h0.85v0.85h-0.85zM113.9 49.4h0.85v0.85h-0.85zM109.5 66.9h0.85v0.85h-0.85zM121.9 48.8h0.85v0.85h-0.85zM112.0 65.2h0.85v0.85h-0.85zM103.4 76.5h0.85v0.85h-0.85zM105.4 76.4h0.85v0.85h-0.85zM111.6 49.3h0.85v0.85h-0.85zM110.7 47.1h0.85v0.85h-0.85zM113.1 64.8h0.85v0.85h-0.85zM113.9 52.6h0.85v0.85h-0.85zM104.0 81.9h0.85v0.85h-0.85zM100.1 81.5h0.85v0.85h-0.85zM113.5 66.2h0.85v0.85h-0.85zM105.8 73.7h0.85v0.85h-0.85zM107.9 44.1h0.85v0.85h-0.85zM104.2 68.2h0.85v0.85h-0.85zM109.1 64.1h0.85v0.85h-0.85zM106.4 50.2h0.85v0.85h-0.85zM118.6 61.4h0.85v0.85h-0.85zM111.0 47.4h0.85v0.85h-0.85zM108.5 57.1h0.85v0.85h-0.85zM107.1 45.7h0.85v0.85h-0.85zM110.3 52.8h0.85v0.85h-0.85zM117.1 44.0h0.85v0.85h-0.85zM111.7 59.9h0.85v0.85h-0.85zM105.8 60.3h0.85v0.85h-0.85zM107.5 58.4h0.85v0.85h-0.85zM118.9 45.8h0.85v0.85h-0.85zM104.9 79.2h0.85v0.85h-0.85zM107.4 62.4h0.85v0.85h-0.85zM107.0 67.9h0.85v0.85h-0.85zM113.5 66.6h0.85v0.85h-0.85zM114.3 43.6h0.85v0.85h-0.85zM106.2 69.8h0.85v0.85h-0.85zM113.6 49.3h0.85v0.85h-0.85zM105.0 73.3h0.85v0.85h-0.85zM115.9 56.8h0.85v0.85h-0.85zM114.0 60.7h0.85v0.85h-0.85zM116.4 49.1h0.85v0.85h-0.85zM108.6 57.1h0.85v0.85h-0.85zM110.1 64.6h0.85v0.85h-0.85zM110.7 54.7h0.85v0.85h-0.85zM102.0 60.7h0.85v0.85h-0.85zM106.6 67.0h0.85v0.85h-0.85zM119.3 62.4h0.85v0.85h-0.85zM111.3 52.8h0.85v0.85h-0.85zM115.1 50.0h0.85v0.85h-0.85zM112.8 58.9h0.85v0.85h-0.85zM106.2 69.6h0.85v0.85h-0.85zM102.3 64.0h0.85v0.85h-0.85zM106.4 83.4h0.85v0.85h-0.85zM114.4 63.0h0.85v0.85h-0.85zM113.1 55.3h0.85v0.85h-0.85zM106.5 69.0h0.85v0.85h-0.85zM119.7 54.6h0.85v0.85h-0.85zM114.7 54.4h0.85v0.85h-0.85zM106.9 57.2h0.85v0.85h-0.85zM110.5 55.9h0.85v0.85h-0.85zM110.1 52.8h0.85v0.85h-0.85zM111.1 55.1h0.85v0.85h-0.85zM108.9 67.2h0.85v0.85h-0.85zM101.7 64.3h0.85v0.85h-0.85zM108.7 62.8h0.85v0.85h-0.85zM104.8 72.9h0.85v0.85h-0.85zM111.6 67.9h0.85v0.85h-0.85zM113.8 45.4h0.85v0.85h-0.85zM100.5 75.1h0.85v0.85h-0.85zM108.9 53.1h0.85v0.85h-0.85zM113.2 68.0h0.85v0.85h-0.85zM102.8 66.8h0.85v0.85h-0.85zM109.8 61.8h0.85v0.85h-0.85zM106.4 72.1h0.85v0.85h-0.85zM115.2 51.0h0.85v0.85h-0.85zM117.5 51.6h0.85v0.85h-0.85zM114.5 58.9h0.85v0.85h-0.85zM115.2 50.5h0.85v0.85h-0.85zM109.2 72.1h0.85v0.85h-0.85zM109.4 62.6h0.85v0.85h-0.85zM102.9 51.8h0.85v0.85h-0.85zM108.1 65.2h0.85v0.85h-0.85zM120.1 48.1h0.85v0.85h-0.85zM108.2 73.3h0.85v0.85h-0.85zM111.9 40.9h0.85v0.85h-0.85zM116.8 60.8h0.85v0.85h-0.85zM110.0 53.1h0.85v0.85h-0.85zM106.5 70.1h0.85v0.85h-0.85zM111.0 64.5h0.85v0.85h-0.85zM105.1 64.3h0.85v0.85h-0.85zM120.9 50.5h0.85v0.85h-0.85zM115.6 50.8h0.85v0.85h-0.85zM101.9 70.3h0.85v0.85h-0.85zM108.1 64.7h0.85v0.85h-0.85zM108.7 58.3h0.85v0.85h-0.85zM110.0 68.3h0.85v0.85h-0.85zM115.5 46.6h0.85v0.85h-0.85zM108.4 65.5h0.85v0.85h-0.85zM106.4 70.7h0.85v0.85h-0.85zM106.7 69.4h0.85v0.85h-0.85zM106.8 68.7h0.85v0.85h-0.85zM112.6 54.6h0.85v0.85h-0.85zM108.9 50.3h0.85v0.85h-0.85zM115.6 46.2h0.85v0.85h-0.85zM102.0 69.9h0.85v0.85h-0.85zM107.8 63.2h0.85v0.85h-0.85zM105.3 71.3h0.85v0.85h-0.85zM109.8 62.3h0.85v0.85h-0.85zM117.6 50.2h0.85v0.85h-0.85zM107.0 68.5h0.85v0.85h-0.85zM115.6 53.8h0.85v0.85h-0.85zM110.6 78.0h0.85v0.85h-0.85zM111.9 55.2h0.85v0.85h-0.85zM109.1 54.4h0.85v0.85h-0.85zM109.8 62.8h0.85v0.85h-0.85zM112.8 51.4h0.85v0.85h-0.85zM108.9 59.5h0.85v0.85h-0.85zM111.6 51.0h0.85v0.85h-0.85zM102.9 80.2h0.85v0.85h-0.85zM105.1 66.7h0.85v0.85h-0.85zM102.4 86.7h0.85v0.85h-0.85zM110.0 43.7h0.85v0.85h-0.85zM110.3 51.1h0.85v0.85h-0.85zM109.2 51.0h0.85v0.85h-0.85zM106.6 70.5h0.85v0.85h-0.85zM109.9 62.5h0.85v0.85h-0.85zM116.8 48.8h0.85v0.85h-0.85zM111.1 67.2h0.85v0.85h-0.85zM109.8 51.7h0.85v0.85h-0.85zM104.9 52.8h0.85v0.85h-0.85zM115.8 42.5h0.85v0.85h-0.85zM113.0 44.6h0.85v0.85h-0.85zM109.1 56.1h0.85v0.85h-0.85zM111.8 59.3h0.85v0.85h-0.85zM113.5 56.0h0.85v0.85h-0.85zM109.9 65.0h0.85v0.85h-0.85zM104.3 73.5h0.85v0.85h-0.85zM102.5 71.7h0.85v0.85h-0.85zM116.4 42.8h0.85v0.85h-0.85zM114.1 47.7h0.85v0.85h-0.85zM109.8 61.1h0.85v0.85h-0.85zM105.7 64.0h0.85v0.85h-0.85zM117.0 57.8h0.85v0.85h-0.85zM108.2 78.8h0.85v0.85h-0.85zM113.4 51.8h0.85v0.85h-0.85zM106.6 58.1h0.85v0.85h-0.85zM110.9 46.6h0.85v0.85h-0.85zM107.7 66.4h0.85v0.85h-0.85zM103.0 65.0h0.85v0.85h-0.85zM113.2 51.2h0.85v0.85h-0.85zM106.0 77.5h0.85v0.85h-0.85zM113.4 64.3h0.85v0.85h-0.85zM115.9 58.1h0.85v0.85h-0.85zM113.8 55.5h0.85v0.85h-0.85zM107.1 79.7h0.85v0.85h-0.85zM108.0 67.4h0.85v0.85h-0.85zM110.7 57.5h0.85v0.85h-0.85zM107.5 73.8h0.85v0.85h-0.85zM108.7 84.0h0.85v0.85h-0.85zM107.0 55.7h0.85v0.85h-0.85zM107.6 64.6h0.85v0.85h-0.85zM109.1 61.8h0.85v0.85h-0.85zM105.6 56.0h0.85v0.85h-0.85zM108.3 61.9h0.85v0.85h-0.85zM109.5 43.8h0.85v0.85h-0.85zM102.9 47.9h0.85v0.85h-0.85zM104.7 67.2h0.85v0.85h-0.85zM106.3 61.7h0.85v0.85h-0.85zM116.5 52.1h0.85v0.85h-0.85zM105.1 58.5h0.85v0.85h-0.85zM103.8 82.4h0.85v0.85h-0.85zM111.2 43.2h0.85v0.85h-0.85zM115.5 53.6h0.85v0.85h-0.85zM113.3 61.9h0.85v0.85h-0.85zM105.3 67.8h0.85v0.85h-0.85zM114.9 54.0h0.85v0.85h-0.85zM108.3 71.6h0.85v0.85h-0.85zM104.9 81.5h0.85v0.85h-0.85zM112.2 61.8h0.85v0.85h-0.85zM109.6 62.8h0.85v0.85h-0.85zM106.2 70.8h0.85v0.85h-0.85zM116.1 51.6h0.85v0.85h-0.85zM115.5 55.8h0.85v0.85h-0.85zM113.5 61.5h0.85v0.85h-0.85zM106.1 50.8h0.85v0.85h-0.85zM101.6 85.5h0.85v0.85h-0.85zM106.5 71.8h0.85v0.85h-0.85zM103.9 85.6h0.85v0.85h-0.85zM111.3 54.2h0.85v0.85h-0.85zM111.3 44.4h0.85v0.85h-0.85zM109.0 52.3h0.85v0.85h-0.85zM106.7 54.0h0.85v0.85h-0.85zM114.8 64.0h0.85v0.85h-0.85zM106.4 51.5h0.85v0.85h-0.85zM111.1 54.2h0.85v0.85h-0.85zM116.9 49.1h0.85v0.85h-0.85zM111.6 64.9h0.85v0.85h-0.85zM100.8 75.7h0.85v0.85h-0.85zM105.3 70.6h0.85v0.85h-0.85zM112.5 52.2h0.85v0.85h-0.85zM108.4 77.6h0.85v0.85h-0.85zM114.8 45.5h0.85v0.85h-0.85zM106.1 65.6h0.85v0.85h-0.85zM106.7 76.7h0.85v0.85h-0.85zM110.8 57.5h0.85v0.85h-0.85zM105.1 78.2h0.85v0.85h-0.85zM106.5 63.5h0.85v0.85h-0.85zM113.3 55.3h0.85v0.85h-0.85zM109.0 73.1h0.85v0.85h-0.85zM115.1 56.1h0.85v0.85h-0.85zM119.7 48.7h0.85v0.85h-0.85zM107.4 49.4h0.85v0.85h-0.85zM110.7 67.1h0.85v0.85h-0.85zM103.8 84.9h0.85v0.85h-0.85zM111.2 49.2h0.85v0.85h-0.85zM109.1 64.9h0.85v0.85h-0.85zM109.4 53.9h0.85v0.85h-0.85zM106.0 59.9h0.85v0.85h-0.85zM114.1 62.8h0.85v0.85h-0.85zM109.7 57.3h0.85v0.85h-0.85zM107.9 69.1h0.85v0.85h-0.85zM107.9 48.7h0.85v0.85h-0.85zM112.8 49.8h0.85v0.85h-0.85zM107.9 55.5h0.85v0.85h-0.85zM113.3 47.9h0.85v0.85h-0.85zM106.3 66.8h0.85v0.85h-0.85zM105.3 61.5h0.85v0.85h-0.85zM100.8 50.9h0.85v0.85h-0.85zM109.6 68.7h0.85v0.85h-0.85zM110.3 52.8h0.85v0.85h-0.85zM117.3 49.2h0.85v0.85h-0.85zM111.4 59.1h0.85v0.85h-0.85zM107.9 68.8h0.85v0.85h-0.85zM110.7 57.3h0.85v0.85h-0.85zM119.3 41.4h0.85v0.85h-0.85zM113.7 70.4h0.85v0.85h-0.85zM120.0 43.1h0.85v0.85h-0.85zM110.8 49.0h0.85v0.85h-0.85zM100.2 81.2h0.85v0.85h-0.85zM112.7 53.7h0.85v0.85h-0.85zM119.8 54.4h0.85v0.85h-0.85zM111.0 51.8h0.85v0.85h-0.85zM119.7 50.1h0.85v0.85h-0.85zM106.7 66.6h0.85v0.85h-0.85zM109.9 62.7h0.85v0.85h-0.85zM117.4 42.4h0.85v0.85h-0.85zM108.9 54.6h0.85v0.85h-0.85zM111.4 49.5h0.85v0.85h-0.85zM108.2 69.6h0.85v0.85h-0.85zM105.6 75.2h0.85v0.85h-0.85zM106.5 68.2h0.85v0.85h-0.85zM115.7 52.7h0.85v0.85h-0.85zM108.4 59.0h0.85v0.85h-0.85zM114.3 47.4h0.85v0.85h-0.85zM112.5 66.2h0.85v0.85h-0.85zM110.1 46.9h0.85v0.85h-0.85zM102.3 80.8h0.85v0.85h-0.85zM104.9 69.0h0.85v0.85h-0.85zM115.6 49.1h0.85v0.85h-0.85zM104.5 74.7h0.85v0.85h-0.85zM108.1 76.1h0.85v0.85h-0.85zM116.2 56.3h0.85v0.85h-0.85zM106.9 52.4h0.85v0.85h-0.85zM107.7 61.0h0.85v0.85h-0.85zM113.7 54.2h0.85v0.85h-0.85zM104.5 72.4h0.85v0.85h-0.85zM106.8 62.7h0.85v0.85h-0.85zM102.0 76.7h0.85v0.85h-0.85zM106.6 65.6h0.85v0.85h-0.85zM105.3 78.6h0.85v0.85h-0.85zM113.4 69.6h0.85v0.85h-0.85zM114.2 57.3h0.85v0.85h-0.85zM106.5 72.9h0.85v0.85h-0.85zM111.9 56.4h0.85v0.85h-0.85zM107.2 66.4h0.85v0.85h-0.85zM112.6 41.0h0.85v0.85h-0.85zM119.8 49.2h0.85v0.85h-0.85zM103.9 68.0h0.85v0.85h-0.85zM107.3 77.9h0.85v0.85h-0.85zM111.0 60.8h0.85v0.85h-0.85zM108.2 45.9h0.85v0.85h-0.85zM114.0 60.9h0.85v0.85h-0.85zM103.4 90.2h0.85v0.85h-0.85zM108.1 76.5h0.85v0.85h-0.85zM113.3 52.2h0.85v0.85h-0.85zM109.9 54.6h0.85v0.85h-0.85zM117.2 61.8h0.85v0.85h-0.85zM107.6 64.4h0.85v0.85h-0.85zM106.3 70.6h0.85v0.85h-0.85zM118.0 47.4h0.85v0.85h-0.85zM101.4 72.8h0.85v0.85h-0.85zM103.5 67.0h0.85v0.85h-0.85zM108.8 62.6h0.85v0.85h-0.85zM110.1 49.1h0.85v0.85h-0.85zM112.8 45.2h0.85v0.85h-0.85zM102.4 56.0h0.85v0.85h-0.85zM107.1 72.2h0.85v0.85h-0.85zM100.6 49.0h0.85v0.85h-0.85zM112.5 50.8h0.85v0.85h-0.85zM108.3 73.7h0.85v0.85h-0.85zM111.5 60.9h0.85v0.85h-0.85zM115.0 49.8h0.85v0.85h-0.85zM107.4 73.1h0.85v0.85h-0.85zM103.7 80.2h0.85v0.85h-0.85zM116.0 44.3h0.85v0.85h-0.85zM111.0 48.5h0.85v0.85h-0.85zM110.4 68.1h0.85v0.85h-0.85zM108.6 59.0h0.85v0.85h-0.85zM110.2 59.1h0.85v0.85h-0.85zM108.1 58.5h0.85v0.85h-0.85zM106.1 55.6h0.85v0.85h-0.85zM118.5 43.1h0.85v0.85h-0.85zM114.5 60.9h0.85v0.85h-0.85zM108.1 66.5h0.85v0.85h-0.85zM111.5 54.5h0.85v0.85h-0.85zM113.9 58.1h0.85v0.85h-0.85zM109.0 66.1h0.85v0.85h-0.85zM105.4 53.9h0.85v0.85h-0.85zM115.9 59.2h0.85v0.85h-0.85zM106.8 83.8h0.85v0.85h-0.85zM110.9 49.6h0.85v0.85h-0.85zM111.9 51.7h0.85v0.85h-0.85zM107.8 46.2h0.85v0.85h-0.85zM104.5 70.1h0.85v0.85h-0.85zM113.9 51.9h0.85v0.85h-0.85zM112.8 55.9h0.85v0.85h-0.85zM111.4 63.9h0.85v0.85h-0.85zM110.1 69.0h0.85v0.85h-0.85zM111.0 58.5h0.85v0.85h-0.85zM105.0 73.8h0.85v0.85h-0.85zM114.2 54.2h0.85v0.85h-0.85zM114.4 43.9h0.85v0.85h-0.85zM104.0 92.7h0.85v0.85h-0.85zM108.5 46.5h0.85v0.85h-0.85zM104.7 79.2h0.85v0.85h-0.85zM108.1 55.4h0.85v0.85h-0.85zM110.6 57.3h0.85v0.85h-0.85zM115.1 50.6h0.85v0.85h-0.85zM108.2 58.6h0.85v0.85h-0.85zM110.4 53.2h0.85v0.85h-0.85zM106.9 57.1h0.85v0.85h-0.85zM110.9 58.2h0.85v0.85h-0.85zM110.2 62.0h0.85v0.85h-0.85zM114.2 46.6h0.85v0.85h-0.85zM105.4 78.7h0.85v0.85h-0.85zM104.7 73.7h0.85v0.85h-0.85zM113.7 49.1h0.85v0.85h-0.85zM107.9 57.9h0.85v0.85h-0.85zM104.4 71.9h0.85v0.85h-0.85zM111.8 60.4h0.85v0.85h-0.85zM114.0 59.9h0.85v0.85h-0.85zM114.6 52.2h0.85v0.85h-0.85zM102.6 78.9h0.85v0.85h-0.85zM112.4 48.6h0.85v0.85h-0.85zM115.1 60.3h0.85v0.85h-0.85zM104.2 57.0h0.85v0.85h-0.85zM116.9 59.0h0.85v0.85h-0.85zM103.5 74.0h0.85v0.85h-0.85zM114.3 58.9h0.85v0.85h-0.85zM109.0 52.3h0.85v0.85h-0.85zM108.7 50.1h0.85v0.85h-0.85zM111.9 46.6h0.85v0.85h-0.85zM114.7 54.7h0.85v0.85h-0.85zM105.7 59.0h0.85v0.85h-0.85zM108.4 64.3h0.85v0.85h-0.85zM108.6 47.3h0.85v0.85h-0.85zM115.7 48.7h0.85v0.85h-0.85zM111.3 52.5h0.85v0.85h-0.85zM112.5 45.4h0.85v0.85h-0.85zM110.7 63.7h0.85v0.85h-0.85zM112.1 50.2h0.85v0.85h-0.85zM107.7 57.3h0.85v0.85h-0.85zM105.1 71.0h0.85v0.85h-0.85zM111.0 60.2h0.85v0.85h-0.85zM114.0 61.9h0.85v0.85h-0.85zM115.9 47.0h0.85v0.85h-0.85zM106.4 77.3h0.85v0.85h-0.85zM110.6 62.5h0.85v0.85h-0.85zM110.4 63.7h0.85v0.85h-0.85zM112.4 61.4h0.85v0.85h-0.85zM111.3 62.2h0.85v0.85h-0.85zM107.5 62.5h0.85v0.85h-0.85zM110.8 56.9h0.85v0.85h-0.85zM105.8 75.7h0.85v0.85h-0.85zM109.2 66.0h0.85v0.85h-0.85zM114.5 55.6h0.85v0.85h-0.85zM104.8 76.2h0.85v0.85h-0.85zM113.2 48.1h0.85v0.85h-0.85zM110.9 59.9h0.85v0.85h-0.85zM104.3 60.2h0.85v0.85h-0.85zM101.6 80.7h0.85v0.85h-0.85zM118.5 51.5h0.85v0.85h-0.85zM109.0 67.3h0.85v0.85h-0.85zM107.0 48.0h0.85v0.85h-0.85zM106.1 67.4h0.85v0.85h-0.85zM107.1 73.7h0.85v0.85h-0.85zM114.1 52.1h0.85v0.85h-0.85zM109.2 58.8h0.85v0.85h-0.85zM107.6 70.2h0.85v0.85h-0.85zM112.1 51.6h0.85v0.85h-0.85zM115.8 46.7h0.85v0.85h-0.85zM116.1 49.5h0.85v0.85h-0.85zM109.6 70.2h0.85v0.85h-0.85zM110.7 59.1h0.85v0.85h-0.85zM103.1 66.4h0.85v0.85h-0.85zM102.9 56.5h0.85v0.85h-0.85zM117.7 53.1h0.85v0.85h-0.85zM114.8 43.2h0.85v0.85h-0.85zM111.5 62.8h0.85v0.85h-0.85zM107.7 69.1h0.85v0.85h-0.85zM104.8 70.6h0.85v0.85h-0.85zM106.5 54.2h0.85v0.85h-0.85zM104.9 63.4h0.85v0.85h-0.85zM99.0 68.8h0.85v0.85h-0.85zM101.9 65.2h0.85v0.85h-0.85zM110.4 67.7h0.85v0.85h-0.85zM109.5 76.0h0.85v0.85h-0.85zM106.9 56.2h0.85v0.85h-0.85zM114.2 54.6h0.85v0.85h-0.85zM107.9 62.1h0.85v0.85h-0.85zM104.3 69.0h0.85v0.85h-0.85zM111.4 60.9h0.85v0.85h-0.85zM106.4 60.7h0.85v0.85h-0.85zM115.4 56.2h0.85v0.85h-0.85zM111.7 64.7h0.85v0.85h-0.85zM113.6 44.3h0.85v0.85h-0.85zM114.0 49.1h0.85v0.85h-0.85zM105.6 58.1h0.85v0.85h-0.85zM114.2 52.8h0.85v0.85h-0.85zM105.3 55.1h0.85v0.85h-0.85zM114.7 60.3h0.85v0.85h-0.85zM112.5 48.5h0.85v0.85h-0.85zM113.4 69.6h0.85v0.85h-0.85zM111.8 51.9h0.85v0.85h-0.85zM110.4 64.8h0.85v0.85h-0.85zM114.2 55.1h0.85v0.85h-0.85zM111.6 51.9h0.85v0.85h-0.85zM108.5 74.1h0.85v0.85h-0.85zM115.2 48.4h0.85v0.85h-0.85zM111.3 54.5h0.85v0.85h-0.85zM108.1 57.2h0.85v0.85h-0.85zM109.5 70.0h0.85v0.85h-0.85zM110.1 50.3h0.85v0.85h-0.85zM111.3 66.5h0.85v0.85h-0.85zM109.2 66.5h0.85v0.85h-0.85zM106.8 64.3h0.85v0.85h-0.85zM111.6 52.8h0.85v0.85h-0.85zM109.2 64.7h0.85v0.85h-0.85zM111.4 44.6h0.85v0.85h-0.85zM110.4 71.2h0.85v0.85h-0.85zM107.5 61.9h0.85v0.85h-0.85zM102.0 67.3h0.85v0.85h-0.85zM109.6 51.6h0.85v0.85h-0.85zM108.6 60.5h0.85v0.85h-0.85zM107.1 67.3h0.85v0.85h-0.85zM108.3 67.3h0.85v0.85h-0.85zM120.3 45.3h0.85v0.85h-0.85zM112.5 54.1h0.85v0.85h-0.85zM115.6 50.6h0.85v0.85h-0.85zM112.6 55.8h0.85v0.85h-0.85zM120.9 42.7h0.85v0.85h-0.85zM113.0 44.7h0.85v0.85h-0.85zM106.3 55.2h0.85v0.85h-0.85zM115.0 44.9h0.85v0.85h-0.85zM108.1 70.4h0.85v0.85h-0.85zM108.0 49.5h0.85v0.85h-0.85zM115.1 55.3h0.85v0.85h-0.85zM105.1 87.7h0.85v0.85h-0.85zM107.5 55.0h0.85v0.85h-0.85zM100.1 76.4h0.85v0.85h-0.85zM107.5 60.0h0.85v0.85h-0.85zM107.6 60.7h0.85v0.85h-0.85zM105.8 53.4h0.85v0.85h-0.85zM106.1 67.1h0.85v0.85h-0.85zM106.3 82.4h0.85v0.85h-0.85zM100.0 53.1h0.85v0.85h-0.85zM107.3 83.2h0.85v0.85h-0.85zM111.3 56.2h0.85v0.85h-0.85zM102.3 46.1h0.85v0.85h-0.85zM114.9 48.7h0.85v0.85h-0.85zM108.1 55.2h0.85v0.85h-0.85zM114.8 52.5h0.85v0.85h-0.85zM111.8 43.7h0.85v0.85h-0.85zM114.4 47.1h0.85v0.85h-0.85zM110.1 58.7h0.85v0.85h-0.85zM110.2 70.3h0.85v0.85h-0.85zM111.5 49.7h0.85v0.85h-0.85zM109.4 43.0h0.85v0.85h-0.85zM108.1 82.2h0.85v0.85h-0.85zM109.8 67.5h0.85v0.85h-0.85zM113.1 66.3h0.85v0.85h-0.85zM111.5 69.7h0.85v0.85h-0.85zM106.0 60.2h0.85v0.85h-0.85zM105.0 72.5h0.85v0.85h-0.85zM112.1 50.3h0.85v0.85h-0.85zM118.5 45.7h0.85v0.85h-0.85zM101.3 69.9h0.85v0.85h-0.85zM108.6 63.8h0.85v0.85h-0.85zM115.5 48.7h0.85v0.85h-0.85zM110.7 59.3h0.85v0.85h-0.85zM115.7 53.1h0.85v0.85h-0.85zM124.2 47.5h0.85v0.85h-0.85zM103.9 73.4h0.85v0.85h-0.85zM117.7 48.4h0.85v0.85h-0.85zM112.0 48.8h0.85v0.85h-0.85zM114.9 61.7h0.85v0.85h-0.85zM101.4 68.4h0.85v0.85h-0.85zM102.5 82.5h0.85v0.85h-0.85zM115.4 43.7h0.85v0.85h-0.85zM111.7 67.0h0.85v0.85h-0.85zM111.6 48.3h0.85v0.85h-0.85zM111.0 66.7h0.85v0.85h-0.85zM108.6 69.2h0.85v0.85h-0.85zM103.6 79.4h0.85v0.85h-0.85zM113.5 54.2h0.85v0.85h-0.85zM108.8 57.0h0.85v0.85h-0.85zM115.4 44.0h0.85v0.85h-0.85zM110.8 57.2h0.85v0.85h-0.85zM118.3 41.3h0.85v0.85h-0.85zM112.7 48.3h0.85v0.85h-0.85zM112.8 45.4h0.85v0.85h-0.85zM114.0 49.5h0.85v0.85h-0.85zM106.5 57.0h0.85v0.85h-0.85zM109.2 47.2h0.85v0.85h-0.85zM109.2 56.1h0.85v0.85h-0.85zM112.4 70.0h0.85v0.85h-0.85zM105.0 74.3h0.85v0.85h-0.85zM107.1 68.1h0.85v0.85h-0.85zM104.0 68.5h0.85v0.85h-0.85zM111.3 68.5h0.85v0.85h-0.85zM107.1 62.3h0.85v0.85h-0.85zM110.3 56.2h0.85v0.85h-0.85zM105.1 83.1h0.85v0.85h-0.85zM113.6 44.6h0.85v0.85h-0.85zM115.0 64.4h0.85v0.85h-0.85zM105.3 60.9h0.85v0.85h-0.85zM111.1 48.3h0.85v0.85h-0.85zM115.5 46.6h0.85v0.85h-0.85zM114.8 45.9h0.85v0.85h-0.85zM112.9 45.9h0.85v0.85h-0.85zM112.5 69.1h0.85v0.85h-0.85zM105.6 71.4h0.85v0.85h-0.85zM110.8 58.1h0.85v0.85h-0.85zM109.3 49.7h0.85v0.85h-0.85zM106.6 74.1h0.85v0.85h-0.85zM106.6 72.7h0.85v0.85h-0.85zM105.4 69.4h0.85v0.85h-0.85zM106.5 57.9h0.85v0.85h-0.85zM101.0 71.4h0.85v0.85h-0.85zM116.2 46.6h0.85v0.85h-0.85zM110.6 56.1h0.85v0.85h-0.85zM105.9 81.6h0.85v0.85h-0.85zM113.8 46.5h0.85v0.85h-0.85zM104.4 73.4h0.85v0.85h-0.85zM108.4 54.2h0.85v0.85h-0.85zM114.0 51.9h0.85v0.85h-0.85zM111.3 57.0h0.85v0.85h-0.85zM102.6 78.2h0.85v0.85h-0.85zM110.9 62.3h0.85v0.85h-0.85zM108.2 70.9h0.85v0.85h-0.85zM112.5 46.4h0.85v0.85h-0.85zM109.1 56.5h0.85v0.85h-0.85zM108.1 61.4h0.85v0.85h-0.85zM111.6 62.1h0.85v0.85h-0.85zM111.4 60.8h0.85v0.85h-0.85zM110.8 56.5h0.85v0.85h-0.85zM114.0 53.4h0.85v0.85h-0.85zM108.7 65.9h0.85v0.85h-0.85zM102.9 64.4h0.85v0.85h-0.85zM108.8 58.5h0.85v0.85h-0.85zM110.9 64.1h0.85v0.85h-0.85zM112.3 66.3h0.85v0.85h-0.85zM105.4 66.3h0.85v0.85h-0.85zM104.8 78.9h0.85v0.85h-0.85zM110.5 43.5h0.85v0.85h-0.85zM109.4 64.9h0.85v0.85h-0.85zM109.0 62.0h0.85v0.85h-0.85zM119.4 48.6h0.85v0.85h-0.85zM108.8 67.5h0.85v0.85h-0.85zM109.3 71.3h0.85v0.85h-0.85zM117.0 50.1h0.85v0.85h-0.85zM110.0 73.6h0.85v0.85h-0.85zM110.7 59.5h0.85v0.85h-0.85zM112.1 42.6h0.85v0.85h-0.85zM105.3 75.7h0.85v0.85h-0.85zM112.5 52.6h0.85v0.85h-0.85zM107.1 69.0h0.85v0.85h-0.85zM111.1 76.2h0.85v0.85h-0.85zM113.5 42.9h0.85v0.85h-0.85zM109.2 69.5h0.85v0.85h-0.85zM107.3 78.5h0.85v0.85h-0.85zM108.3 52.4h0.85v0.85h-0.85zM112.0 49.4h0.85v0.85h-0.85zM108.7 76.5h0.85v0.85h-0.85zM109.3 66.1h0.85v0.85h-0.85zM109.5 60.7h0.85v0.85h-0.85zM111.3 64.5h0.85v0.85h-0.85zM107.9 60.2h0.85v0.85h-0.85zM104.5 53.0h0.85v0.85h-0.85zM101.2 90.5h0.85v0.85h-0.85zM107.1 62.1h0.85v0.85h-0.85zM111.7 45.7h0.85v0.85h-0.85zM113.7 54.2h0.85v0.85h-0.85zM117.2 48.2h0.85v0.85h-0.85zM109.7 55.5h0.85v0.85h-0.85zM109.2 71.7h0.85v0.85h-0.85zM114.1 56.3h0.85v0.85h-0.85zM114.8 53.8h0.85v0.85h-0.85zM109.4 56.0h0.85v0.85h-0.85zM118.3 47.7h0.85v0.85h-0.85zM108.2 83.0h0.85v0.85h-0.85zM106.0 75.2h0.85v0.85h-0.85zM111.8 62.7h0.85v0.85h-0.85zM109.1 68.5h0.85v0.85h-0.85zM115.8 46.7h0.85v0.85h-0.85zM106.5 74.8h0.85v0.85h-0.85zM114.7 47.9h0.85v0.85h-0.85zM114.8 59.4h0.85v0.85h-0.85zM112.6 65.6h0.85v0.85h-0.85zM109.2 62.7h0.85v0.85h-0.85zM104.8 48.8h0.85v0.85h-0.85zM113.7 55.4h0.85v0.85h-0.85zM115.4 60.1h0.85v0.85h-0.85zM115.1 50.7h0.85v0.85h-0.85zM115.3 57.8h0.85v0.85h-0.85zM105.2 82.5h0.85v0.85h-0.85zM120.9 45.9h0.85v0.85h-0.85zM107.7 72.0h0.85v0.85h-0.85zM107.6 73.7h0.85v0.85h-0.85zM102.5 60.5h0.85v0.85h-0.85zM109.6 57.7h0.85v0.85h-0.85zM107.4 57.1h0.85v0.85h-0.85zM103.3 84.8h0.85v0.85h-0.85zM112.9 57.7h0.85v0.85h-0.85zM105.6 68.8h0.85v0.85h-0.85zM107.2 82.1h0.85v0.85h-0.85zM114.0 64.3h0.85v0.85h-0.85zM118.5 45.2h0.85v0.85h-0.85zM116.9 45.6h0.85v0.85h-0.85zM113.8 55.2h0.85v0.85h-0.85zM114.4 61.8h0.85v0.85h-0.85zM106.2 61.7h0.85v0.85h-0.85zM108.4 69.1h0.85v0.85h-0.85zM103.7 69.3h0.85v0.85h-0.85zM111.8 40.6h0.85v0.85h-0.85zM111.8 43.6h0.85v0.85h-0.85zM112.5 56.6h0.85v0.85h-0.85zM109.0 52.4h0.85v0.85h-0.85zM112.6 53.4h0.85v0.85h-0.85zM104.1 73.4h0.85v0.85h-0.85zM111.9 42.1h0.85v0.85h-0.85zM105.9 56.0h0.85v0.85h-0.85zM107.9 74.5h0.85v0.85h-0.85zM118.5 62.2h0.85v0.85h-0.85zM112.5 50.1h0.85v0.85h-0.85zM110.8 69.1h0.85v0.85h-0.85zM108.1 65.5h0.85v0.85h-0.85zM107.3 59.0h0.85v0.85h-0.85zM116.4 46.6h0.85v0.85h-0.85zM111.7 73.3h0.85v0.85h-0.85zM109.7 56.9h0.85v0.85h-0.85zM104.7 73.9h0.85v0.85h-0.85zM111.7 50.8h0.85v0.85h-0.85zM107.3 51.3h0.85v0.85h-0.85zM103.6 68.5h0.85v0.85h-0.85zM110.2 67.6h0.85v0.85h-0.85zM107.0 78.5h0.85v0.85h-0.85zM117.1 48.5h0.85v0.85h-0.85zM110.7 44.8h0.85v0.85h-0.85zM106.3 68.8h0.85v0.85h-0.85zM109.7 72.8h0.85v0.85h-0.85zM113.2 48.3h0.85v0.85h-0.85zM104.7 75.3h0.85v0.85h-0.85zM117.1 48.1h0.85v0.85h-0.85zM106.6 74.9h0.85v0.85h-0.85zM110.6 37.5h0.85v0.85h-0.85zM118.3 57.8h0.85v0.85h-0.85zM108.7 71.0h0.85v0.85h-0.85zM112.7 64.2h0.85v0.85h-0.85zM107.4 53.5h0.85v0.85h-0.85zM103.4 76.9h0.85v0.85h-0.85zM113.7 56.5h0.85v0.85h-0.85zM115.6 51.3h0.85v0.85h-0.85zM108.5 59.1h0.85v0.85h-0.85zM112.7 54.0h0.85v0.85h-0.85zM114.2 53.2h0.85v0.85h-0.85zM120.8 45.6h0.85v0.85h-0.85zM108.2 76.0h0.85v0.85h-0.85zM111.1 65.4h0.85v0.85h-0.85zM103.2 59.1h0.85v0.85h-0.85zM104.0 87.2h0.85v0.85h-0.85zM111.0 54.0h0.85v0.85h-0.85zM112.7 56.6h0.85v0.85h-0.85zM109.3 57.7h0.85v0.85h-0.85zM120.5 49.7h0.85v0.85h-0.85zM115.6 53.0h0.85v0.85h-0.85zM107.9 74.9h0.85v0.85h-0.85zM110.6 66.5h0.85v0.85h-0.85zM104.6 78.4h0.85v0.85h-0.85zM110.2 61.4h0.85v0.85h-0.85zM111.3 56.1h0.85v0.85h-0.85zM105.0 65.0h0.85v0.85h-0.85zM110.6 50.0h0.85v0.85h-0.85zM113.3 57.7h0.85v0.85h-0.85zM108.2 66.8h0.85v0.85h-0.85zM116.4 52.5h0.85v0.85h-0.85zM108.4 45.6h0.85v0.85h-0.85zM106.7 67.0h0.85v0.85h-0.85zM104.3 71.2h0.85v0.85h-0.85zM104.5 73.1h0.85v0.85h-0.85zM108.3 61.1h0.85v0.85h-0.85zM110.3 69.9h0.85v0.85h-0.85zM110.1 55.2h0.85v0.85h-0.85zM114.5 55.1h0.85v0.85h-0.85zM118.6 52.3h0.85v0.85h-0.85zM105.3 76.3h0.85v0.85h-0.85zM113.1 52.0h0.85v0.85h-0.85zM106.4 63.4h0.85v0.85h-0.85zM102.9 65.2h0.85v0.85h-0.85zM117.0 43.3h0.85v0.85h-0.85zM104.6 51.8h0.85v0.85h-0.85zM117.9 43.4h0.85v0.85h-0.85zM117.9 51.7h0.85v0.85h-0.85zM110.5 47.7h0.85v0.85h-0.85zM108.0 68.1h0.85v0.85h-0.85zM109.6 55.9h0.85v0.85h-0.85zM108.0 67.1h0.85v0.85h-0.85zM113.9 52.8h0.85v0.85h-0.85zM111.8 55.7h0.85v0.85h-0.85zM112.9 54.5h0.85v0.85h-0.85zM104.7 63.4h0.85v0.85h-0.85zM105.3 70.3h0.85v0.85h-0.85zM104.6 60.6h0.85v0.85h-0.85zM104.6 74.5h0.85v0.85h-0.85zM113.7 43.4h0.85v0.85h-0.85zM117.2 44.5h0.85v0.85h-0.85zM115.1 50.7h0.85v0.85h-0.85zM104.6 55.9h0.85v0.85h-0.85zM111.6 65.2h0.85v0.85h-0.85zM113.3 49.8h0.85v0.85h-0.85zM110.2 56.5h0.85v0.85h-0.85zM105.9 56.0h0.85v0.85h-0.85zM106.6 74.5h0.85v0.85h-0.85zM111.7 66.4h0.85v0.85h-0.85zM108.0 57.6h0.85v0.85h-0.85zM107.6 47.8h0.85v0.85h-0.85zM109.8 43.4h0.85v0.85h-0.85zM112.9 48.7h0.85v0.85h-0.85zM108.5 59.6h0.85v0.85h-0.85zM109.6 65.8h0.85v0.85h-0.85zM105.0 75.8h0.85v0.85h-0.85zM110.6 52.1h0.85v0.85h-0.85zM116.9 48.5h0.85v0.85h-0.85zM104.3 60.1h0.85v0.85h-0.85zM111.9 70.2h0.85v0.85h-0.85zM104.4 63.2h0.85v0.85h-0.85zM113.9 54.8h0.85v0.85h-0.85zM117.5 51.0h0.85v0.85h-0.85zM106.7 81.4h0.85v0.85h-0.85zM106.9 75.4h0.85v0.85h-0.85zM114.0 50.8h0.85v0.85h-0.85zM108.3 59.3h0.85v0.85h-0.85zM110.6 63.2h0.85v0.85h-0.85zM120.8 45.8h0.85v0.85h-0.85zM116.6 48.6h0.85v0.85h-0.85zM115.3 50.1h0.85v0.85h-0.85zM106.8 52.6h0.85v0.85h-0.85zM116.1 60.3h0.85v0.85h-0.85zM107.9 50.4h0.85v0.85h-0.85zM112.2 53.5h0.85v0.85h-0.85zM105.2 76.3h0.85v0.85h-0.85zM116.1 56.2h0.85v0.85h-0.85zM103.8 71.5h0.85v0.85h-0.85zM111.4 75.8h0.85v0.85h-0.85zM111.6 61.9h0.85v0.85h-0.85zM108.2 69.9h0.85v0.85h-0.85zM110.1 47.3h0.85v0.85h-0.85zM108.2 60.0h0.85v0.85h-0.85zM114.0 55.1h0.85v0.85h-0.85zM108.9 51.7h0.85v0.85h-0.85zM106.7 73.7h0.85v0.85h-0.85zM113.9 55.7h0.85v0.85h-0.85zM112.8 51.8h0.85v0.85h-0.85zM106.1 68.4h0.85v0.85h-0.85zM108.4 61.8h0.85v0.85h-0.85zM110.5 63.1h0.85v0.85h-0.85zM113.6 53.7h0.85v0.85h-0.85zM107.7 62.5h0.85v0.85h-0.85zM108.6 45.5h0.85v0.85h-0.85zM115.2 68.4h0.85v0.85h-0.85zM115.7 47.7h0.85v0.85h-0.85zM104.7 73.8h0.85v0.85h-0.85zM113.3 63.0h0.85v0.85h-0.85zM105.3 58.7h0.85v0.85h-0.85zM105.6 71.8h0.85v0.85h-0.85zM106.5 72.4h0.85v0.85h-0.85zM113.2 52.5h0.85v0.85h-0.85zM118.0 50.8h0.85v0.85h-0.85zM108.5 71.6h0.85v0.85h-0.85zM111.9 63.5h0.85v0.85h-0.85zM110.7 50.6h0.85v0.85h-0.85zM108.9 65.7h0.85v0.85h-0.85zM110.6 60.5h0.85v0.85h-0.85zM104.7 72.9h0.85v0.85h-0.85zM108.9 62.3h0.85v0.85h-0.85zM107.5 53.4h0.85v0.85h-0.85zM113.3 47.8h0.85v0.85h-0.85zM109.1 69.7h0.85v0.85h-0.85zM116.4 51.2h0.85v0.85h-0.85zM106.6 64.5h0.85v0.85h-0.85zM112.2 39.0h0.85v0.85h-0.85zM106.7 58.8h0.85v0.85h-0.85zM113.6 58.0h0.85v0.85h-0.85zM101.6 72.3h0.85v0.85h-0.85zM114.2 55.8h0.85v0.85h-0.85zM111.5 61.7h0.85v0.85h-0.85zM101.6 85.1h0.85v0.85h-0.85zM104.5 77.9h0.85v0.85h-0.85zM114.2 52.8h0.85v0.85h-0.85zM111.5 43.0h0.85v0.85h-0.85zM115.0 48.0h0.85v0.85h-0.85zM103.6 78.4h0.85v0.85h-0.85zM105.0 83.4h0.85v0.85h-0.85zM113.2 65.3h0.85v0.85h-0.85zM116.3 46.3h0.85v0.85h-0.85zM112.7 73.8h0.85v0.85h-0.85zM103.9 64.8h0.85v0.85h-0.85zM113.8 59.3h0.85v0.85h-0.85zM104.8 52.2h0.85v0.85h-0.85zM106.3 62.6h0.85v0.85h-0.85zM110.8 54.8h0.85v0.85h-0.85zM112.0 65.5h0.85v0.85h-0.85zM109.7 58.6h0.85v0.85h-0.85zM113.9 60.9h0.85v0.85h-0.85zM111.9 62.7h0.85v0.85h-0.85zM104.2 79.0h0.85v0.85h-0.85zM106.1 59.5h0.85v0.85h-0.85zM109.2 69.3h0.85v0.85h-0.85zM110.1 71.0h0.85v0.85h-0.85zM108.1 74.0h0.85v0.85h-0.85zM108.5 64.1h0.85v0.85h-0.85zM107.4 56.2h0.85v0.85h-0.85zM113.7 52.3h0.85v0.85h-0.85zM109.2 65.1h0.85v0.85h-0.85zM102.8 75.4h0.85v0.85h-0.85zM117.8 45.9h0.85v0.85h-0.85zM111.8 59.3h0.85v0.85h-0.85zM111.7 49.6h0.85v0.85h-0.85zM113.4 47.6h0.85v0.85h-0.85zM109.1 71.7h0.85v0.85h-0.85zM112.2 75.5h0.85v0.85h-0.85zM112.2 48.0h0.85v0.85h-0.85zM111.5 55.6h0.85v0.85h-0.85zM109.5 65.2h0.85v0.85h-0.85zM107.7 52.5h0.85v0.85h-0.85zM105.1 79.4h0.85v0.85h-0.85zM115.9 58.0h0.85v0.85h-0.85zM117.3 49.2h0.85v0.85h-0.85zM109.8 60.3h0.85v0.85h-0.85zM111.7 66.0h0.85v0.85h-0.85zM111.9 53.1h0.85v0.85h-0.85zM111.0 50.9h0.85v0.85h-0.85zM107.2 68.0h0.85v0.85h-0.85zM116.6 56.6h0.85v0.85h-0.85zM104.9 72.3h0.85v0.85h-0.85zM108.8 50.3h0.85v0.85h-0.85zM102.9 91.0h0.85v0.85h-0.85zM105.2 71.3h0.85v0.85h-0.85zM111.6 53.7h0.85v0.85h-0.85zM109.0 58.0h0.85v0.85h-0.85zM108.4 51.5h0.85v0.85h-0.85zM115.0 48.6h0.85v0.85h-0.85zM111.9 47.0h0.85v0.85h-0.85zM111.8 66.2h0.85v0.85h-0.85zM110.6 52.1h0.85v0.85h-0.85zM109.6 51.4h0.85v0.85h-0.85zM102.3 72.7h0.85v0.85h-0.85zM116.4 51.0h0.85v0.85h-0.85zM109.1 66.9h0.85v0.85h-0.85zM105.5 70.4h0.85v0.85h-0.85zM118.3 47.4h0.85v0.85h-0.85zM111.4 46.6h0.85v0.85h-0.85zM108.0 76.7h0.85v0.85h-0.85zM106.8 73.7h0.85v0.85h-0.85zM105.5 82.2h0.85v0.85h-0.85zM108.0 56.0h0.85v0.85h-0.85zM108.4 70.9h0.85v0.85h-0.85zM112.9 57.7h0.85v0.85h-0.85zM110.6 66.5h0.85v0.85h-0.85zM109.8 58.2h0.85v0.85h-0.85zM102.7 78.5h0.85v0.85h-0.85zM109.0 57.6h0.85v0.85h-0.85zM112.5 61.9h0.85v0.85h-0.85zM112.0 64.5h0.85v0.85h-0.85zM101.5 81.1h0.85v0.85h-0.85zM111.2 53.3h0.85v0.85h-0.85zM113.7 50.6h0.85v0.85h-0.85zM113.9 53.7h0.85v0.85h-0.85zM114.7 44.1h0.85v0.85h-0.85zM110.7 71.0h0.85v0.85h-0.85zM99.2 68.7h0.85v0.85h-0.85zM109.6 51.6h0.85v0.85h-0.85zM107.3 58.3h0.85v0.85h-0.85zM117.0 52.6h0.85v0.85h-0.85zM109.8 83.8h0.85v0.85h-0.85zM107.9 46.0h0.85v0.85h-0.85zM99.6 80.8h0.85v0.85h-0.85zM109.9 42.3h0.85v0.85h-0.85zM107.1 62.6h0.85v0.85h-0.85zM106.1 44.8h0.85v0.85h-0.85zM109.0 67.2h0.85v0.85h-0.85zM107.2 78.5h0.85v0.85h-0.85zM104.3 74.3h0.85v0.85h-0.85zM103.5 59.0h0.85v0.85h-0.85zM115.0 45.0h0.85v0.85h-0.85zM110.1 45.7h0.85v0.85h-0.85zM109.6 58.8h0.85v0.85h-0.85zM108.5 60.7h0.85v0.85h-0.85zM110.7 56.2h0.85v0.85h-0.85zM115.1 47.4h0.85v0.85h-0.85zM110.4 54.0h0.85v0.85h-0.85zM119.2 55.8h0.85v0.85h-0.85zM106.1 68.6h0.85v0.85h-0.85zM112.4 48.9h0.85v0.85h-0.85zM105.9 58.4h0.85v0.85h-0.85zM111.8 57.9h0.85v0.85h-0.85zM120.9 49.2h0.85v0.85h-0.85zM102.9 86.5h0.85v0.85h-0.85zM110.9 49.7h0.85v0.85h-0.85zM109.4 64.6h0.85v0.85h-0.85zM109.4 55.0h0.85v0.85h-0.85zM108.0 60.9h0.85v0.85h-0.85zM109.9 67.7h0.85v0.85h-0.85zM112.8 51.4h0.85v0.85h-0.85zM122.3 54.7h0.85v0.85h-0.85zM107.7 84.5h0.85v0.85h-0.85zM107.0 58.4h0.85v0.85h-0.85zM112.2 57.0h0.85v0.85h-0.85zM110.1 43.2h0.85v0.85h-0.85zM107.0 49.5h0.85v0.85h-0.85zM113.5 46.4h0.85v0.85h-0.85zM115.1 54.3h0.85v0.85h-0.85zM112.9 59.3h0.85v0.85h-0.85zM109.7 62.4h0.85v0.85h-0.85zM114.7 44.4h0.85v0.85h-0.85zM107.9 62.7h0.85v0.85h-0.85zM106.1 64.5h0.85v0.85h-0.85zM111.5 59.8h0.85v0.85h-0.85zM112.3 60.8h0.85v0.85h-0.85zM112.4 55.9h0.85v0.85h-0.85zM119.4 43.8h0.85v0.85h-0.85zM108.0 65.7h0.85v0.85h-0.85zM109.5 48.2h0.85v0.85h-0.85zM103.6 77.4h0.85v0.85h-0.85zM108.2 53.8h0.85v0.85h-0.85zM111.9 50.6h0.85v0.85h-0.85zM120.5 41.7h0.85v0.85h-0.85zM103.4 73.8h0.85v0.85h-0.85zM105.4 60.3h0.85v0.85h-0.85zM113.4 58.9h0.85v0.85h-0.85zM109.0 67.0h0.85v0.85h-0.85zM104.3 63.8h0.85v0.85h-0.85zM111.5 55.3h0.85v0.85h-0.85zM108.0 43.6h0.85v0.85h-0.85zM115.7 48.1h0.85v0.85h-0.85zM107.3 56.4h0.85v0.85h-0.85zM104.5 62.7h0.85v0.85h-0.85zM112.5 51.5h0.85v0.85h-0.85zM110.8 53.9h0.85v0.85h-0.85zM105.6 53.3h0.85v0.85h-0.85zM108.0 64.2h0.85v0.85h-0.85zM103.7 79.0h0.85v0.85h-0.85zM108.7 52.1h0.85v0.85h-0.85zM115.7 56.1h0.85v0.85h-0.85zM103.4 78.5h0.85v0.85h-0.85zM108.0 59.3h0.85v0.85h-0.85zM112.7 61.6h0.85v0.85h-0.85zM113.0 70.8h0.85v0.85h-0.85zM111.8 63.9h0.85v0.85h-0.85zM101.4 76.9h0.85v0.85h-0.85zM120.2 47.7h0.85v0.85h-0.85zM110.0 61.8h0.85v0.85h-0.85zM102.4 79.4h0.85v0.85h-0.85zM105.9 58.6h0.85v0.85h-0.85zM114.5 47.3h0.85v0.85h-0.85zM103.0 78.1h0.85v0.85h-0.85zM109.4 56.6h0.85v0.85h-0.85zM104.6 59.4h0.85v0.85h-0.85zM108.8 63.1h0.85v0.85h-0.85zM111.6 52.8h0.85v0.85h-0.85zM114.4 46.9h0.85v0.85h-0.85zM105.2 62.2h0.85v0.85h-0.85zM111.9 77.5h0.85v0.85h-0.85zM112.2 68.6h0.85v0.85h-0.85zM112.7 44.2h0.85v0.85h-0.85zM119.7 49.5h0.85v0.85h-0.85zM117.6 49.0h0.85v0.85h-0.85zM104.2 89.6h0.85v0.85h-0.85zM105.2 52.0h0.85v0.85h-0.85zM114.9 45.5h0.85v0.85h-0.85zM107.0 65.2h0.85v0.85h-0.85zM122.1 43.3h0.85v0.85h-0.85zM108.9 65.4h0.85v0.85h-0.85zM108.6 74.7h0.85v0.85h-0.85zM110.6 68.7h0.85v0.85h-0.85zM115.1 51.1h0.85v0.85h-0.85zM104.6 52.2h0.85v0.85h-0.85zM107.7 52.3h0.85v0.85h-0.85zM105.5 79.5h0.85v0.85h-0.85zM118.3 51.9h0.85v0.85h-0.85zM107.2 67.4h0.85v0.85h-0.85zM108.5 74.1h0.85v0.85h-0.85zM113.1 57.5h0.85v0.85h-0.85zM109.0 53.0h0.85v0.85h-0.85zM104.9 71.3h0.85v0.85h-0.85zM115.1 43.2h0.85v0.85h-0.85zM113.3 67.5h0.85v0.85h-0.85zM109.7 67.0h0.85v0.85h-0.85zM101.5 78.8h0.85v0.85h-0.85zM106.1 81.9h0.85v0.85h-0.85zM106.6 57.0h0.85v0.85h-0.85zM108.3 60.9h0.85v0.85h-0.85zM108.4 64.3h0.85v0.85h-0.85zM108.2 46.4h0.85v0.85h-0.85zM107.8 48.3h0.85v0.85h-0.85zM107.3 66.2h0.85v0.85h-0.85zM112.5 50.1h0.85v0.85h-0.85zM107.4 59.7h0.85v0.85h-0.85zM108.2 62.8h0.85v0.85h-0.85zM108.3 67.7h0.85v0.85h-0.85zM109.9 50.1h0.85v0.85h-0.85zM112.0 72.0h0.85v0.85h-0.85zM117.3 50.6h0.85v0.85h-0.85zM107.3 62.6h0.85v0.85h-0.85zM107.6 73.0h0.85v0.85h-0.85zM113.3 45.5h0.85v0.85h-0.85zM108.9 66.6h0.85v0.85h-0.85zM111.2 62.2h0.85v0.85h-0.85zM109.2 50.8h0.85v0.85h-0.85zM111.9 56.8h0.85v0.85h-0.85zM119.3 43.8h0.85v0.85h-0.85zM104.9 61.2h0.85v0.85h-0.85zM111.9 58.8h0.85v0.85h-0.85zM110.6 61.6h0.85v0.85h-0.85zM110.5 49.4h0.85v0.85h-0.85zM115.0 57.9h0.85v0.85h-0.85zM107.3 58.4h0.85v0.85h-0.85zM110.7 70.4h0.85v0.85h-0.85zM111.5 54.1h0.85v0.85h-0.85zM107.9 63.6h0.85v0.85h-0.85zM105.3 63.5h0.85v0.85h-0.85zM110.9 59.2h0.85v0.85h-0.85zM113.1 48.0h0.85v0.85h-0.85zM114.9 45.0h0.85v0.85h-0.85zM100.5 80.6h0.85v0.85h-0.85zM107.0 57.5h0.85v0.85h-0.85zM108.6 56.6h0.85v0.85h-0.85zM107.8 58.5h0.85v0.85h-0.85zM119.6 44.5h0.85v0.85h-0.85zM105.0 77.8h0.85v0.85h-0.85zM106.3 61.0h0.85v0.85h-0.85zM111.2 62.3h0.85v0.85h-0.85zM111.4 68.9h0.85v0.85h-0.85zM105.9 59.3h0.85v0.85h-0.85zM101.9 87.7h0.85v0.85h-0.85zM115.6 46.6h0.85v0.85h-0.85zM106.2 59.8h0.85v0.85h-0.85zM110.6 61.1h0.85v0.85h-0.85zM111.4 45.9h0.85v0.85h-0.85zM105.1 67.6h0.85v0.85h-0.85zM106.3 76.6h0.85v0.85h-0.85zM104.9 64.0h0.85v0.85h-0.85zM111.9 56.9h0.85v0.85h-0.85zM111.6 54.3h0.85v0.85h-0.85zM105.5 72.8h0.85v0.85h-0.85zM116.4 56.7h0.85v0.85h-0.85zM103.9 63.5h0.85v0.85h-0.85zM110.3 57.6h0.85v0.85h-0.85zM112.3 55.9h0.85v0.85h-0.85zM113.5 58.1h0.85v0.85h-0.85zM114.2 54.6h0.85v0.85h-0.85zM99.7 87.6h0.85v0.85h-0.85zM112.9 60.2h0.85v0.85h-0.85zM109.3 61.2h0.85v0.85h-0.85zM113.4 55.1h0.85v0.85h-0.85zM119.8 55.7h0.85v0.85h-0.85zM110.7 59.9h0.85v0.85h-0.85zM115.6 41.9h0.85v0.85h-0.85zM107.0 50.6h0.85v0.85h-0.85zM111.0 52.1h0.85v0.85h-0.85zM106.3 77.3h0.85v0.85h-0.85zM109.1 57.6h0.85v0.85h-0.85zM109.9 71.7h0.85v0.85h-0.85zM110.4 66.1h0.85v0.85h-0.85zM110.5 58.7h0.85v0.85h-0.85zM109.9 42.8h0.85v0.85h-0.85zM108.5 62.9h0.85v0.85h-0.85zM116.2 55.7h0.85v0.85h-0.85zM107.1 76.4h0.85v0.85h-0.85zM113.4 45.6h0.85v0.85h-0.85zM106.1 63.3h0.85v0.85h-0.85zM107.0 49.5h0.85v0.85h-0.85zM113.0 44.6h0.85v0.85h-0.85zM112.6 51.3h0.85v0.85h-0.85zM115.6 43.4h0.85v0.85h-0.85zM115.3 39.6h0.85v0.85h-0.85zM105.4 61.9h0.85v0.85h-0.85zM112.4 51.9h0.85v0.85h-0.85zM106.8 53.2h0.85v0.85h-0.85zM107.1 62.8h0.85v0.85h-0.85zM109.1 58.7h0.85v0.85h-0.85zM113.6 51.1h0.85v0.85h-0.85zM107.0 68.5h0.85v0.85h-0.85zM111.2 55.6h0.85v0.85h-0.85zM107.7 72.2h0.85v0.85h-0.85zM106.3 74.4h0.85v0.85h-0.85zM102.1 67.3h0.85v0.85h-0.85zM108.6 51.8h0.85v0.85h-0.85zM114.6 51.5h0.85v0.85h-0.85zM113.1 55.8h0.85v0.85h-0.85zM108.6 62.1h0.85v0.85h-0.85zM108.8 71.3h0.85v0.85h-0.85zM107.6 73.5h0.85v0.85h-0.85zM112.2 58.0h0.85v0.85h-0.85zM104.5 83.7h0.85v0.85h-0.85zM115.9 51.5h0.85v0.85h-0.85zM106.3 56.1h0.85v0.85h-0.85zM109.4 70.9h0.85v0.85h-0.85zM102.5 73.5h0.85v0.85h-0.85zM110.6 57.5h0.85v0.85h-0.85zM109.8 64.3h0.85v0.85h-0.85zM108.5 52.6h0.85v0.85h-0.85zM113.6 64.7h0.85v0.85h-0.85zM103.2 72.3h0.85v0.85h-0.85zM105.9 55.1h0.85v0.85h-0.85zM117.7 50.5h0.85v0.85h-0.85zM107.4 73.5h0.85v0.85h-0.85zM111.9 56.5h0.85v0.85h-0.85zM113.3 54.7h0.85v0.85h-0.85zM114.0 44.0h0.85v0.85h-0.85zM111.1 60.0h0.85v0.85h-0.85zM114.9 48.6h0.85v0.85h-0.85zM111.1 42.5h0.85v0.85h-0.85zM111.8 54.3h0.85v0.85h-0.85zM104.6 78.9h0.85v0.85h-0.85zM110.9 64.3h0.85v0.85h-0.85zM114.0 52.7h0.85v0.85h-0.85zM109.5 76.2h0.85v0.85h-0.85zM105.0 76.1h0.85v0.85h-0.85zM119.2 56.4h0.85v0.85h-0.85zM109.1 70.1h0.85v0.85h-0.85zM106.8 80.6h0.85v0.85h-0.85zM116.2 54.9h0.85v0.85h-0.85zM110.2 62.1h0.85v0.85h-0.85zM105.7 72.4h0.85v0.85h-0.85zM105.5 79.2h0.85v0.85h-0.85zM111.0 49.0h0.85v0.85h-0.85zM111.9 59.9h0.85v0.85h-0.85zM106.3 72.0h0.85v0.85h-0.85zM112.4 65.6h0.85v0.85h-0.85zM107.3 72.9h0.85v0.85h-0.85zM113.2 51.8h0.85v0.85h-0.85zM112.0 51.8h0.85v0.85h-0.85zM114.1 55.2h0.85v0.85h-0.85zM115.0 54.8h0.85v0.85h-0.85zM118.9 53.8h0.85v0.85h-0.85zM110.0 56.7h0.85v0.85h-0.85zM110.8 52.9h0.85v0.85h-0.85zM110.9 57.0h0.85v0.85h-0.85zM105.2 49.3h0.85v0.85h-0.85zM107.9 63.4h0.85v0.85h-0.85zM110.1 51.7h0.85v0.85h-0.85zM107.6 87.4h0.85v0.85h-0.85zM109.7 48.5h0.85v0.85h-0.85zM112.2 55.1h0.85v0.85h-0.85zM109.1 73.1h0.85v0.85h-0.85zM101.1 43.2h0.85v0.85h-0.85zM103.8 86.0h0.85v0.85h-0.85zM111.8 48.9h0.85v0.85h-0.85zM107.6 72.8h0.85v0.85h-0.85zM111.5 41.8h0.85v0.85h-0.85zM104.0 78.8h0.85v0.85h-0.85zM121.6 45.9h0.85v0.85h-0.85zM108.1 56.2h0.85v0.85h-0.85zM111.9 58.6h0.85v0.85h-0.85zM107.9 76.4h0.85v0.85h-0.85zM107.2 71.6h0.85v0.85h-0.85zM111.4 53.7h0.85v0.85h-0.85zM108.5 47.0h0.85v0.85h-0.85zM109.9 69.0h0.85v0.85h-0.85zM110.5 61.8h0.85v0.85h-0.85zM104.0 62.9h0.85v0.85h-0.85zM108.3 69.0h0.85v0.85h-0.85zM109.1 64.0h0.85v0.85h-0.85zM110.2 54.3h0.85v0.85h-0.85zM112.8 67.0h0.85v0.85h-0.85zM111.4 46.2h0.85v0.85h-0.85zM103.6 72.2h0.85v0.85h-0.85zM119.4 43.5h0.85v0.85h-0.85zM112.7 66.8h0.85v0.85h-0.85zM106.7 63.5h0.85v0.85h-0.85zM116.2 57.4h0.85v0.85h-0.85zM111.8 61.8h0.85v0.85h-0.85zM103.2 89.5h0.85v0.85h-0.85zM111.6 53.8h0.85v0.85h-0.85zM108.7 74.1h0.85v0.85h-0.85zM115.2 61.1h0.85v0.85h-0.85zM113.3 49.0h0.85v0.85h-0.85zM108.2 62.9h0.85v0.85h-0.85zM111.1 49.9h0.85v0.85h-0.85zM107.9 72.8h0.85v0.85h-0.85zM109.8 57.4h0.85v0.85h-0.85zM111.9 60.2h0.85v0.85h-0.85zM109.6 61.2h0.85v0.85h-0.85zM109.5 61.0h0.85v0.85h-0.85zM111.5 42.8h0.85v0.85h-0.85zM102.5 79.3h0.85v0.85h-0.85zM112.7 52.8h0.85v0.85h-0.85zM108.8 78.3h0.85v0.85h-0.85zM113.3 49.8h0.85v0.85h-0.85zM104.3 81.2h0.85v0.85h-0.85zM116.5 47.1h0.85v0.85h-0.85zM110.4 70.1h0.85v0.85h-0.85zM114.1 50.6h0.85v0.85h-0.85zM107.0 75.9h0.85v0.85h-0.85zM112.1 52.4h0.85v0.85h-0.85zM109.5 63.8h0.85v0.85h-0.85zM108.3 74.8h0.85v0.85h-0.85zM108.7 61.0h0.85v0.85h-0.85zM105.6 69.3h0.85v0.85h-0.85zM107.4 51.0h0.85v0.85h-0.85zM110.0 47.8h0.85v0.85h-0.85zM107.6 57.2h0.85v0.85h-0.85zM116.8 58.6h0.85v0.85h-0.85zM109.4 52.5h0.85v0.85h-0.85zM109.3 51.4h0.85v0.85h-0.85zM107.9 53.6h0.85v0.85h-0.85zM111.1 67.8h0.85v0.85h-0.85zM111.3 49.1h0.85v0.85h-0.85zM107.5 64.4h0.85v0.85h-0.85zM113.6 56.7h0.85v0.85h-0.85zM109.6 53.4h0.85v0.85h-0.85zM111.3 60.4h0.85v0.85h-0.85zM116.7 65.6h0.85v0.85h-0.85zM108.9 56.3h0.85v0.85h-0.85zM109.2 84.8h0.85v0.85h-0.85zM109.6 59.5h0.85v0.85h-0.85zM120.2 49.9h0.85v0.85h-0.85zM109.6 67.8h0.85v0.85h-0.85zM108.1 69.1h0.85v0.85h-0.85zM113.3 56.6h0.85v0.85h-0.85zM101.8 74.5h0.85v0.85h-0.85zM105.4 73.9h0.85v0.85h-0.85zM105.3 56.6h0.85v0.85h-0.85zM118.9 52.3h0.85v0.85h-0.85zM106.3 75.0h0.85v0.85h-0.85zM113.7 61.1h0.85v0.85h-0.85zM101.6 62.4h0.85v0.85h-0.85zM109.6 60.0h0.85v0.85h-0.85zM109.2 64.5h0.85v0.85h-0.85zM114.1 52.2h0.85v0.85h-0.85zM117.9 50.2h0.85v0.85h-0.85zM114.1 50.7h0.85v0.85h-0.85zM102.9 79.3h0.85v0.85h-0.85zM111.9 47.2h0.85v0.85h-0.85zM106.0 55.3h0.85v0.85h-0.85zM112.9 48.9h0.85v0.85h-0.85zM104.9 54.1h0.85v0.85h-0.85zM111.5 50.6h0.85v0.85h-0.85zM110.6 57.2h0.85v0.85h-0.85zM106.7 71.9h0.85v0.85h-0.85zM109.9 58.0h0.85v0.85h-0.85zM106.6 58.9h0.85v0.85h-0.85zM110.8 60.5h0.85v0.85h-0.85zM114.1 45.3h0.85v0.85h-0.85zM111.7 64.8h0.85v0.85h-0.85zM108.9 50.2h0.85v0.85h-0.85zM108.4 58.0h0.85v0.85h-0.85zM108.4 63.9h0.85v0.85h-0.85zM106.7 66.9h0.85v0.85h-0.85zM108.0 67.2h0.85v0.85h-0.85zM104.5 71.4h0.85v0.85h-0.85zM110.6 62.9h0.85v0.85h-0.85zM103.5 63.3h0.85v0.85h-0.85zM109.5 59.6h0.85v0.85h-0.85zM106.1 74.5h0.85v0.85h-0.85zM113.9 60.9h0.85v0.85h-0.85zM106.4 65.1h0.85v0.85h-0.85zM108.8 61.9h0.85v0.85h-0.85zM109.9 67.7h0.85v0.85h-0.85zM110.4 64.8h0.85v0.85h-0.85zM109.2 59.3h0.85v0.85h-0.85zM111.7 39.6h0.85v0.85h-0.85zM114.2 42.7h0.85v0.85h-0.85zM109.9 49.8h0.85v0.85h-0.85zM102.5 78.4h0.85v0.85h-0.85zM104.6 72.6h0.85v0.85h-0.85zM107.5 75.9h0.85v0.85h-0.85zM117.9 48.2h0.85v0.85h-0.85zM107.8 51.0h0.85v0.85h-0.85zM112.4 68.2h0.85v0.85h-0.85zM105.7 49.3h0.85v0.85h-0.85zM109.9 55.1h0.85v0.85h-0.85zM118.5 46.2h0.85v0.85h-0.85zM115.1 48.8h0.85v0.85h-0.85zM103.2 60.6h0.85v0.85h-0.85zM106.2 77.3h0.85v0.85h-0.85zM114.6 60.1h0.85v0.85h-0.85zM111.3 60.5h0.85v0.85h-0.85zM98.5 83.0h0.85v0.85h-0.85zM112.6 44.6h0.85v0.85h-0.85zM110.0 80.0h0.85v0.85h-0.85zM110.8 57.7h0.85v0.85h-0.85zM103.8 80.7h0.85v0.85h-0.85zM110.7 51.3h0.85v0.85h-0.85zM108.8 55.5h0.85v0.85h-0.85zM113.7 47.7h0.85v0.85h-0.85zM115.1 54.5h0.85v0.85h-0.85zM108.9 74.9h0.85v0.85h-0.85zM106.3 63.5h0.85v0.85h-0.85zM109.7 64.1h0.85v0.85h-0.85zM109.5 60.4h0.85v0.85h-0.85zM112.3 64.4h0.85v0.85h-0.85zM117.9 57.9h0.85v0.85h-0.85zM108.2 67.8h0.85v0.85h-0.85zM115.0 50.8h0.85v0.85h-0.85zM114.1 46.2h0.85v0.85h-0.85zM117.0 43.8h0.85v0.85h-0.85zM100.5 70.2h0.85v0.85h-0.85zM106.8 75.7h0.85v0.85h-0.85zM107.7 62.9h0.85v0.85h-0.85zM106.3 74.6h0.85v0.85h-0.85zM109.2 70.8h0.85v0.85h-0.85zM114.3 46.3h0.85v0.85h-0.85zM110.1 47.9h0.85v0.85h-0.85zM110.0 63.8h0.85v0.85h-0.85zM111.0 54.5h0.85v0.85h-0.85zM114.2 44.4h0.85v0.85h-0.85zM105.5 79.0h0.85v0.85h-0.85zM108.0 59.9h0.85v0.85h-0.85zM111.5 61.4h0.85v0.85h-0.85zM107.5 63.9h0.85v0.85h-0.85zM111.3 60.3h0.85v0.85h-0.85zM114.0 49.7h0.85v0.85h-0.85zM112.3 50.6h0.85v0.85h-0.85zM106.2 48.2h0.85v0.85h-0.85zM111.7 47.9h0.85v0.85h-0.85zM103.9 77.4h0.85v0.85h-0.85zM106.8 64.8h0.85v0.85h-0.85zM110.5 52.4h0.85v0.85h-0.85zM110.3 50.7h0.85v0.85h-0.85zM110.8 43.7h0.85v0.85h-0.85zM108.6 54.3h0.85v0.85h-0.85zM109.0 62.7h0.85v0.85h-0.85zM107.2 79.1h0.85v0.85h-0.85zM110.1 81.8h0.85v0.85h-0.85zM111.3 56.2h0.85v0.85h-0.85zM111.7 44.8h0.85v0.85h-0.85zM108.5 60.3h0.85v0.85h-0.85zM113.4 73.9h0.85v0.85h-0.85zM101.8 82.4h0.85v0.85h-0.85zM110.5 61.8h0.85v0.85h-0.85zM108.5 48.7h0.85v0.85h-0.85zM111.1 58.5h0.85v0.85h-0.85zM112.2 54.3h0.85v0.85h-0.85zM108.4 54.7h0.85v0.85h-0.85zM113.4 55.0h0.85v0.85h-0.85zM120.4 51.5h0.85v0.85h-0.85zM110.7 61.1h0.85v0.85h-0.85zM104.5 62.8h0.85v0.85h-0.85zM118.3 58.5h0.85v0.85h-0.85zM110.1 57.1h0.85v0.85h-0.85zM113.6 43.4h0.85v0.85h-0.85zM111.0 69.0h0.85v0.85h-0.85zM110.5 61.2h0.85v0.85h-0.85zM106.7 66.0h0.85v0.85h-0.85zM106.7 62.9h0.85v0.85h-0.85zM106.1 82.3h0.85v0.85h-0.85zM117.5 46.4h0.85v0.85h-0.85zM113.2 53.4h0.85v0.85h-0.85zM101.5 83.2h0.85v0.85h-0.85zM110.7 49.6h0.85v0.85h-0.85zM114.4 50.2h0.85v0.85h-0.85zM113.1 43.7h0.85v0.85h-0.85zM110.2 46.2h0.85v0.85h-0.85zM117.3 50.6h0.85v0.85h-0.85zM108.2 58.5h0.85v0.85h-0.85zM106.3 47.7h0.85v0.85h-0.85zM106.8 47.4h0.85v0.85h-0.85zM118.7 44.3h0.85v0.85h-0.85zM114.6 52.9h0.85v0.85h-0.85zM103.5 68.1h0.85v0.85h-0.85zM123.5 42.4h0.85v0.85h-0.85zM116.3 54.0h0.85v0.85h-0.85zM105.5 63.1h0.85v0.85h-0.85zM104.8 74.5h0.85v0.85h-0.85zM105.6 93.7h0.85v0.85h-0.85zM105.3 60.5h0.85v0.85h-0.85zM103.1 76.4h0.85v0.85h-0.85zM110.7 53.3h0.85v0.85h-0.85zM104.2 61.3h0.85v0.85h-0.85zM113.5 50.0h0.85v0.85h-0.85zM103.6 69.0h0.85v0.85h-0.85zM108.9 55.8h0.85v0.85h-0.85zM110.3 51.6h0.85v0.85h-0.85zM103.7 55.6h0.85v0.85h-0.85zM109.8 58.1h0.85v0.85h-0.85zM107.8 63.6h0.85v0.85h-0.85zM103.9 63.5h0.85v0.85h-0.85zM104.7 54.6h0.85v0.85h-0.85zM114.1 50.7h0.85v0.85h-0.85zM115.3 52.9h0.85v0.85h-0.85z" fill="#f21c1c" stroke="none" stroke-width="1" opacity="0.85"/>
<path d="M88.5 109.7h0.85v0.85h-0.85zM88.6 105.0h0.85v0.85h-0.85zM85.8 106.4h0.85v0.85h-0.85zM93.9 107.6h0.85v0.85h-0.85zM93.6 106.7h0.85v0.85h-0.85zM91.1 107.1h0.85v0.85h-0.85zM82.8 113.3h0.85v0.85h-0.85zM91.5 108.7h0.85v0.85h-0.85zM82.7 98.6h0.85v0.85h-0.85zM85.9 104.9h0.85v0.85h-0.85zM90.7 105.9h0.85v0.85h-0.85zM91.6 102.2h0.85v0.85h-0.85zM90.7 108.4h0.85v0.85h-0.85zM86.9 117.0h0.85v0.85h-0.85zM91.7 112.7h0.85v0.85h-0.85zM87.0 103.0h0.85v0.85h-0.85zM88.1 106.3h0.85v0.85h-0.85zM92.0 107.2h0.85v0.85h-0.85zM87.7 101.6h0.85v0.85h-0.85zM87.4 114.0h0.85v0.85h-0.85zM86.3 108.8h0.85v0.85h-0.85zM91.2 97.5h0.85v0.85h-0.85zM89.7 113.9h0.85v0.85h-0.85zM81.4 107.0h0.85v0.85h-0.85zM89.1 102.0h0.85v0.85h-0.85zM91.5 105.6h0.85v0.85h-0.85zM83.6 112.9h0.85v0.85h-0.85zM92.2 111.1h0.85v0.85h-0.85zM95.3 106.9h0.85v0.85h-0.85zM90.0 99.0h0.85v0.85h-0.85zM92.0 102.3h0.85v0.85h-0.85zM87.7 99.8h0.85v0.85h-0.85zM85.6 104.6h0.85v0.85h-0.85zM94.7 93.5h0.85v0.85h-0.85zM83.7 109.6h0.85v0.85h-0.85zM95.3 108.1h0.85v0.85h-0.85zM81.9 94.4h0.85v0.85h-0.85zM90.9 101.9h0.85v0.85h-0.85zM85.0 113.4h0.85v0.85h-0.85zM93.9 106.1h0.85v0.85h-0.85zM90.5 108.7h0.85v0.85h-0.85zM95.9 108.2h0.85v0.85h-0.85zM91.6 109.0h0.85v0.85h-0.85zM83.2 115.6h0.85v0.85h-0.85zM93.3 108.4h0.85v0.85h-0.85zM81.6 105.2h0.85v0.85h-0.85zM92.9 95.2h0.85v0.85h-0.85zM88.8 112.5h0.85v0.85h-0.85zM84.3 117.2h0.85v0.85h-0.85zM91.7 105.0h0.85v0.85h-0.85zM90.8 109.8h0.85v0.85h-0.85zM90.0 112.9h0.85v0.85h-0.85zM86.9 104.9h0.85v0.85h-0.85zM93.7 105.4h0.85v0.85h-0.85zM86.0 112.9h0.85v0.85h-0.85zM95.4 102.3h0.85v0.85h-0.85zM84.0 107.3h0.85v0.85h-0.85zM88.9 105.0h0.85v0.85h-0.85zM95.1 99.0h0.85v0.85h-0.85zM94.5 97.8h0.85v0.85h-0.85zM86.4 111.0h0.85v0.85h-0.85zM94.0 110.1h0.85v0.85h-0.85zM90.9 106.9h0.85v0.85h-0.85zM90.1 109.6h0.85v0.85h-0.85zM88.8 108.3h0.85v0.85h-0.85zM91.8 105.8h0.85v0.85h-0.85zM92.6 108.8h0.85v0.85h-0.85zM97.5 106.0h0.85v0.85h-0.85zM87.8 104.9h0.85v0.85h-0.85zM89.4 111.8h0.85v0.85h-0.85zM88.2 109.1h0.85v0.85h-0.85zM96.8 89.8h0.85v0.85h-0.85zM85.0 109.2h0.85v0.85h-0.85zM91.1 107.4h0.85v0.85h-0.85zM87.8 110.7h0.85v0.85h-0.85zM90.6 103.2h0.85v0.85h-0.85zM99.2 105.7h0.85v0.85h-0.85zM87.3 106.6h0.85v0.85h-0.85zM88.6 106.4h0.85v0.85h-0.85zM78.6 106.9h0.85v0.85h-0.85zM93.5 98.7h0.85v0.85h-0.85zM89.2 112.0h0.85v0.85h-0.85zM92.9 114.0h0.85v0.85h-0.85zM82.7 106.5h0.85v0.85h-0.85zM88.1 110.4h0.85v0.85h-0.85zM93.9 90.0h0.85v0.85h-0.85zM93.9 97.0h0.85v0.85h-0.85zM92.2 97.2h0.85v0.85h-0.85zM90.2 113.1h0.85v0.85h-0.85zM88.9 107.8h0.85v0.85h-0.85zM92.7 106.4h0.85v0.85h-0.85zM89.1 115.3h0.85v0.85h-0.85zM93.7 103.6h0.85v0.85h-0.85zM100.5 96.8h0.85v0.85h-0.85zM93.2 103.9h0.85v0.85h-0.85zM90.0 110.4h0.85v0.85h-0.85zM90.4 109.9h0.85v0.85h-0.85zM83.4 99.7h0.85v0.85h-0.85zM92.0 100.3h0.85v0.85h-0.85zM85.4 99.3h0.85v0.85h-0.85zM94.6 109.3h0.85v0.85h-0.85zM95.4 99.5h0.85v0.85h-0.85zM89.5 100.0h0.85v0.85h-0.85zM92.6 114.6h0.85v0.85h-0.85zM85.9 116.4h0.85v0.85h-0.85zM93.5 104.3h0.85v0.85h-0.85zM81.6 116.8h0.85v0.85h-0.85zM89.1 103.2h0.85v0.85h-0.85zM91.1 108.4h0.85v0.85h-0.85zM95.5 99.0h0.85v0.85h-0.85zM94.0 113.6h0.85v0.85h-0.85zM95.3 103.8h0.85v0.85h-0.85zM86.5 113.2h0.85v0.85h-0.85zM90.0 107.1h0.85v0.85h-0.85zM95.2 103.4h0.85v0.85h-0.85zM80.3 107.0h0.85v0.85h-0.85zM82.1 113.3h0.85v0.85h-0.85zM90.8 102.7h0.85v0.85h-0.85zM89.5 111.2h0.85v0.85h-0.85zM89.8 113.9h0.85v0.85h-0.85zM89.3 112.5h0.85v0.85h-0.85zM95.5 113.9h0.85v0.85h-0.85zM86.8 112.3h0.85v0.85h-0.85zM82.0 102.5h0.85v0.85h-0.85zM81.6 114.9h0.85v0.85h-0.85zM84.6 107.9h0.85v0.85h-0.85zM88.7 106.6h0.85v0.85h-0.85zM87.1 108.5h0.85v0.85h-0.85zM96.7 104.7h0.85v0.85h-0.85zM91.6 111.6h0.85v0.85h-0.85zM88.7 99.6h0.85v0.85h-0.85zM87.3 113.2h0.85v0.85h-0.85zM82.9 105.0h0.85v0.85h-0.85zM93.5 109.8h0.85v0.85h-0.85zM89.5 111.1h0.85v0.85h-0.85zM90.2 99.6h0.85v0.85h-0.85zM83.2 104.7h0.85v0.85h-0.85zM93.2 102.2h0.85v0.85h-0.85zM85.9 103.2h0.85v0.85h-0.85zM83.4 107.6h0.85v0.85h-0.85zM84.8 109.9h0.85v0.85h-0.85zM80.1 111.1h0.85v0.85h-0.85zM86.9 96.2h0.85v0.85h-0.85zM92.4 104.1h0.85v0.85h-0.85zM80.6 104.1h0.85v0.85h-0.85zM90.7 103.6h0.85v0.85h-0.85zM92.6 109.8h0.85v0.85h-0.85zM92.2 107.6h0.85v0.85h-0.85zM94.8 108.7h0.85v0.85h-0.85zM91.3 94.1h0.85v0.85h-0.85zM93.1 112.9h0.85v0.85h-0.85zM88.3 104.2h0.85v0.85h-0.85zM97.3 94.3h0.85v0.85h-0.85zM91.4 119.7h0.85v0.85h-0.85zM85.8 111.5h0.85v0.85h-0.85zM97.0 103.6h0.85v0.85h-0.85zM91.7 111.0h0.85v0.85h-0.85zM85.9 107.0h0.85v0.85h-0.85zM90.7 110.9h0.85v0.85h-0.85zM89.4 105.4h0.85v0.85h-0.85zM85.4 105.6h0.85v0.85h-0.85zM93.1 106.0h0.85v0.85h-0.85zM86.1 102.7h0.85v0.85h-0.85zM100.2 109.9h0.85v0.85h-0.85zM92.0 91.0h0.85v0.85h-0.85zM92.0 108.5h0.85v0.85h-0.85zM96.2 107.0h0.85v0.85h-0.85zM89.2 109.5h0.85v0.85h-0.85zM81.7 114.6h0.85v0.85h-0.85zM90.8 102.1h0.85v0.85h-0.85zM94.8 115.2h0.85v0.85h-0.85zM83.9 104.3h0.85v0.85h-0.85zM90.7 107.2h0.85v0.85h-0.85zM87.9 101.4h0.85v0.85h-0.85zM98.0 109.9h0.85v0.85h-0.85zM84.7 100.2h0.85v0.85h-0.85zM96.3 110.1h0.85v0.85h-0.85zM96.8 109.0h0.85v0.85h-0.85zM86.0 109.0h0.85v0.85h-0.85zM80.9 104.8h0.85v0.85h-0.85zM89.3 109.5h0.85v0.85h-0.85zM86.6 106.6h0.85v0.85h-0.85zM91.3 108.1h0.85v0.85h-0.85zM92.1 106.9h0.85v0.85h-0.85zM88.2 111.4h0.85v0.85h-0.85zM89.7 101.7h0.85v0.85h-0.85zM87.0 107.2h0.85v0.85h-0.85zM89.1 107.5h0.85v0.85h-0.85zM89.5 107.5h0.85v0.85h-0.85zM89.0 99.5h0.85v0.85h-0.85zM91.2 112.0h0.85v0.85h-0.85zM91.2 104.9h0.85v0.85h-0.85zM91.3 100.5h0.85v0.85h-0.85zM81.9 109.0h0.85v0.85h-0.85zM85.8 111.8h0.85v0.85h-0.85zM85.2 92.8h0.85v0.85h-0.85zM85.3 116.7h0.85v0.85h-0.85zM88.0 99.2h0.85v0.85h-0.85zM86.4 110.3h0.85v0.85h-0.85zM91.5 106.9h0.85v0.85h-0.85zM95.4 108.8h0.85v0.85h-0.85zM89.4 109.9h0.85v0.85h-0.85zM96.1 110.1h0.85v0.85h-0.85zM93.6 99.2h0.85v0.85h-0.85zM88.9 110.8h0.85v0.85h-0.85zM88.3 112.9h0.85v0.85h-0.85zM91.9 111.0h0.85v0.85h-0.85zM88.7 121.2h0.85v0.85h-0.85zM94.5 103.8h0.85v0.85h-0.85zM89.9 121.1h0.85v0.85h-0.85zM88.1 111.9h0.85v0.85h-0.85zM93.4 105.4h0.85v0.85h-0.85zM84.8 108.9h0.85v0.85h-0.85zM90.9 112.5h0.85v0.85h-0.85zM92.6 105.7h0.85v0.85h-0.85zM92.9 108.6h0.85v0.85h-0.85zM90.3 106.6h0.85v0.85h-0.85zM88.5 110.7h0.85v0.85h-0.85zM85.3 104.2h0.85v0.85h-0.85zM89.5 98.2h0.85v0.85h-0.85zM87.8 95.6h0.85v0.85h-0.85zM86.8 110.5h0.85v0.85h-0.85zM91.8 105.5h0.85v0.85h-0.85zM88.6 98.7h0.85v0.85h-0.85zM96.8 107.3h0.85v0.85h-0.85zM93.9 100.2h0.85v0.85h-0.85zM88.8 96.4h0.85v0.85h-0.85zM92.6 110.9h0.85v0.85h-0.85zM81.9 108.4h0.85v0.85h-0.85zM92.0 95.8h0.85v0.85h-0.85zM82.2 102.6h0.85v0.85h-0.85zM87.0 99.3h0.85v0.85h-0.85zM89.6 107.9h0.85v0.85h-0.85zM92.0 109.8h0.85v0.85h-0.85zM95.5 111.4h0.85v0.85h-0.85zM84.3 105.1h0.85v0.85h-0.85zM85.3 101.6h0.85v0.85h-0.85zM89.2 106.6h0.85v0.85h-0.85zM91.5 96.9h0.85v0.85h-0.85zM84.5 107.8h0.85v0.85h-0.85zM88.7 105.0h0.85v0.85h-0.85zM89.2 102.3h0.85v0.85h-0.85zM92.3 107.7h0.85v0.85h-0.85zM89.1 102.8h0.85v0.85h-0.85zM88.8 91.2h0.85v0.85h-0.85zM85.6 107.9h0.85v0.85h-0.85zM83.5 109.4h0.85v0.85h-0.85zM90.1 98.5h0.85v0.85h-0.85zM88.5 105.0h0.85v0.85h-0.85zM91.3 109.4h0.85v0.85h-0.85zM89.4 101.7h0.85v0.85h-0.85zM88.9 106.3h0.85v0.85h-0.85zM92.4 107.3h0.85v0.85h-0.85zM86.6 99.6h0.85v0.85h-0.85zM88.0 102.7h0.85v0.85h-0.85zM85.1 107.1h0.85v0.85h-0.85zM87.5 107.7h0.85v0.85h-0.85zM91.6 103.5h0.85v0.85h-0.85zM98.8 102.0h0.85v0.85h-0.85zM93.9 105.9h0.85v0.85h-0.85zM94.0 91.7h0.85v0.85h-0.85zM86.5 108.8h0.85v0.85h-0.85zM91.9 119.1h0.85v0.85h-0.85zM90.8 113.4h0.85v0.85h-0.85zM92.6 111.0h0.85v0.85h-0.85zM91.5 105.0h0.85v0.85h-0.85zM91.5 99.8h0.85v0.85h-0.85zM94.2 99.3h0.85v0.85h-0.85zM90.5 118.3h0.85v0.85h-0.85zM88.6 106.9h0.85v0.85h-0.85zM94.2 105.3h0.85v0.85h-0.85zM86.3 108.9h0.85v0.85h-0.85zM91.8 109.9h0.85v0.85h-0.85zM86.4 117.4h0.85v0.85h-0.85zM96.2 104.7h0.85v0.85h-0.85zM90.6 103.8h0.85v0.85h-0.85zM95.2 100.9h0.85v0.85h-0.85zM92.2 103.0h0.85v0.85h-0.85zM86.7 111.4h0.85v0.85h-0.85zM94.8 104.9h0.85v0.85h-0.85zM86.8 111.9h0.85v0.85h-0.85zM89.3 108.3h0.85v0.85h-0.85zM95.6 111.2h0.85v0.85h-0.85zM87.4 120.1h0.85v0.85h-0.85zM89.5 111.0h0.85v0.85h-0.85zM86.9 107.0h0.85v0.85h-0.85zM82.5 118.7h0.85v0.85h-0.85zM95.0 98.0h0.85v0.85h-0.85zM83.5 99.0h0.85v0.85h-0.85zM94.2 102.5h0.85v0.85h-0.85zM89.3 104.8h0.85v0.85h-0.85zM89.0 100.5h0.85v0.85h-0.85zM89.6 98.3h0.85v0.85h-0.85zM89.2 108.3h0.85v0.85h-0.85zM91.4 104.6h0.85v0.85h-0.85zM85.9 108.5h0.85v0.85h-0.85zM87.6 116.0h0.85v0.85h-0.85zM92.6 105.0h0.85v0.85h-0.85zM87.6 103.1h0.85v0.85h-0.85zM85.8 105.6h0.85v0.85h-0.85zM90.7 109.1h0.85v0.85h-0.85zM91.8 117.8h0.85v0.85h-0.85zM86.7 107.4h0.85v0.85h-0.85zM100.7 92.6h0.85v0.85h-0.85zM87.4 108.1h0.85v0.85h-0.85zM90.1 108.6h0.85v0.85h-0.85zM88.5 108.9h0.85v0.85h-0.85zM89.7 110.8h0.85v0.85h-0.85zM81.9 103.7h0.85v0.85h-0.85zM89.5 100.6h0.85v0.85h-0.85zM85.3 111.3h0.85v0.85h-0.85zM86.9 110.9h0.85v0.85h-0.85zM92.5 107.4h0.85v0.85h-0.85zM91.5 105.3h0.85v0.85h-0.85zM83.9 108.0h0.85v0.85h-0.85zM91.3 103.0h0.85v0.85h-0.85zM89.1 110.9h0.85v0.85h-0.85zM86.0 111.2h0.85v0.85h-0.85zM97.0 101.2h0.85v0.85h-0.85zM90.1 105.5h0.85v0.85h-0.85zM95.7 106.5h0.85v0.85h-0.85zM93.1 101.5h0.85v0.85h-0.85zM89.4 106.5h0.85v0.85h-0.85zM82.4 116.7h0.85v0.85h-0.85zM93.1 95.5h0.85v0.85h-0.85zM92.5 104.9h0.85v0.85h-0.85zM91.3 108.1h0.85v0.85h-0.85zM83.5 107.0h0.85v0.85h-0.85zM95.5 101.5h0.85v0.85h-0.85zM85.4 100.0h0.85v0.85h-0.85zM84.6 109.8h0.85v0.85h-0.85zM96.3 107.0h0.85v0.85h-0.85zM90.5 118.9h0.85v0.85h-0.85zM87.4 103.3h0.85v0.85h-0.85zM91.6 109.0h0.85v0.85h-0.85zM85.4 101.0h0.85v0.85h-0.85zM90.7 107.6h0.85v0.85h-0.85zM84.3 106.9h0.85v0.85h-0.85zM87.3 109.7h0.85v0.85h-0.85zM89.0 106.1h0.85v0.85h-0.85zM88.1 112.9h0.85v0.85h-0.85zM95.1 102.8h0.85v0.85h-0.85zM92.9 101.2h0.85v0.85h-0.85zM89.8 110.7h0.85v0.85h-0.85zM95.6 102.6h0.85v0.85h-0.85zM89.2 107.7h0.85v0.85h-0.85zM83.5 108.3h0.85v0.85h-0.85zM86.8 109.4h0.85v0.85h-0.85zM85.0 96.6h0.85v0.85h-0.85zM89.7 107.9h0.85v0.85h-0.85zM87.3 112.2h0.85v0.85h-0.85zM88.4 103.4h0.85v0.85h-0.85zM91.4 97.0h0.85v0.85h-0.85zM86.8 107.2h0.85v0.85h-0.85zM92.9 104.6h0.85v0.85h-0.85zM90.7 102.4h0.85v0.85h-0.85zM90.7 115.6h0.85v0.85h-0.85zM86.8 120.7h0.85v0.85h-0.85zM86.9 107.3h0.85v0.85h-0.85zM90.2 112.1h0.85v0.85h-0.85zM84.6 96.0h0.85v0.85h-0.85zM91.9 110.3h0.85v0.85h-0.85zM92.0 120.7h0.85v0.85h-0.85zM90.3 107.7h0.85v0.85h-0.85zM93.2 107.5h0.85v0.85h-0.85zM96.2 97.5h0.85v0.85h-0.85zM88.0 87.4h0.85v0.85h-0.85zM92.7 103.4h0.85v0.85h-0.85zM93.2 117.7h0.85v0.85h-0.85zM89.5 105.1h0.85v0.85h-0.85zM87.5 102.3h0.85v0.85h-0.85zM87.0 110.9h0.85v0.85h-0.85zM89.6 106.8h0.85v0.85h-0.85zM88.8 111.9h0.85v0.85h-0.85zM91.5 105.1h0.85v0.85h-0.85zM92.2 104.9h0.85v0.85h-0.85zM84.9 116.1h0.85v0.85h-0.85zM91.4 100.5h0.85v0.85h-0.85zM93.8 107.2h0.85v0.85h-0.85zM83.2 117.5h0.85v0.85h-0.85zM90.8 111.2h0.85v0.85h-0.85zM90.3 105.4h0.85v0.85h-0.85zM83.3 113.8h0.85v0.85h-0.85zM89.6 104.8h0.85v0.85h-0.85zM90.9 106.5h0.85v0.85h-0.85zM92.2 103.6h0.85v0.85h-0.85zM89.4 94.4h0.85v0.85h-0.85zM87.8 110.8h0.85v0.85h-0.85zM94.8 102.9h0.85v0.85h-0.85zM89.0 115.6h0.85v0.85h-0.85zM88.2 111.0h0.85v0.85h-0.85zM96.2 104.8h0.85v0.85h-0.85zM94.4 101.0h0.85v0.85h-0.85zM90.3 105.8h0.85v0.85h-0.85zM90.0 112.8h0.85v0.85h-0.85zM99.1 99.9h0.85v0.85h-0.85zM87.2 110.0h0.85v0.85h-0.85zM85.3 110.5h0.85v0.85h-0.85zM91.8 104.3h0.85v0.85h-0.85zM91.6 97.1h0.85v0.85h-0.85zM92.5 96.8h0.85v0.85h-0.85zM86.7 104.1h0.85v0.85h-0.85zM87.9 111.8h0.85v0.85h-0.85zM89.8 104.1h0.85v0.85h-0.85zM91.7 114.9h0.85v0.85h-0.85zM89.5 108.6h0.85v0.85h-0.85zM94.5 106.6h0.85v0.85h-0.85zM84.4 122.1h0.85v0.85h-0.85zM98.3 92.7h0.85v0.85h-0.85zM89.3 108.9h0.85v0.85h-0.85zM93.4 109.2h0.85v0.85h-0.85zM88.4 100.8h0.85v0.85h-0.85zM89.9 112.3h0.85v0.85h-0.85zM85.1 101.9h0.85v0.85h-0.85zM89.4 95.5h0.85v0.85h-0.85zM88.5 104.3h0.85v0.85h-0.85zM91.3 102.0h0.85v0.85h-0.85zM86.0 105.3h0.85v0.85h-0.85zM89.3 102.8h0.85v0.85h-0.85zM89.5 110.7h0.85v0.85h-0.85zM94.2 114.8h0.85v0.85h-0.85zM86.4 105.0h0.85v0.85h-0.85zM79.6 120.2h0.85v0.85h-0.85zM86.6 107.2h0.85v0.85h-0.85zM91.6 98.2h0.85v0.85h-0.85zM91.4 105.8h0.85v0.85h-0.85zM82.2 110.3h0.85v0.85h-0.85zM94.3 94.5h0.85v0.85h-0.85zM92.7 106.8h0.85v0.85h-0.85zM91.4 108.5h0.85v0.85h-0.85zM94.7 103.7h0.85v0.85h-0.85zM93.0 103.2h0.85v0.85h-0.85zM92.4 101.0h0.85v0.85h-0.85zM89.1 116.5h0.85v0.85h-0.85zM91.3 105.1h0.85v0.85h-0.85zM84.9 103.3h0.85v0.85h-0.85zM90.3 111.6h0.85v0.85h-0.85zM91.2 109.0h0.85v0.85h-0.85zM89.3 114.2h0.85v0.85h-0.85zM87.9 103.8h0.85v0.85h-0.85zM93.1 105.8h0.85v0.85h-0.85zM88.4 103.5h0.85v0.85h-0.85zM88.5 110.3h0.85v0.85h-0.85zM90.9 99.2h0.85v0.85h-0.85zM91.2 107.0h0.85v0.85h-0.85zM85.5 112.1h0.85v0.85h-0.85zM88.4 104.9h0.85v0.85h-0.85zM92.7 113.1h0.85v0.85h-0.85zM86.7 109.8h0.85v0.85h-0.85zM86.0 120.7h0.85v0.85h-0.85zM87.5 113.9h0.85v0.85h-0.85zM86.9 111.9h0.85v0.85h-0.85zM98.4 89.5h0.85v0.85h-0.85zM87.8 109.8h0.85v0.85h-0.85zM89.1 102.8h0.85v0.85h-0.85zM98.1 104.5h0.85v0.85h-0.85zM82.9 113.3h0.85v0.85h-0.85zM82.6 115.0h0.85v0.85h-0.85zM87.2 108.0h0.85v0.85h-0.85zM94.5 105.7h0.85v0.85h-0.85zM83.9 98.5h0.85v0.85h-0.85zM94.2 109.3h0.85v0.85h-0.85zM86.2 112.3h0.85v0.85h-0.85zM91.5 109.6h0.85v0.85h-0.85zM80.5 107.4h0.85v0.85h-0.85zM93.1 109.6h0.85v0.85h-0.85zM93.0 91.5h0.85v0.85h-0.85zM90.2 109.1h0.85v0.85h-0.85zM99.7 98.1h0.85v0.85h-0.85zM88.2 107.1h0.85v0.85h-0.85zM93.0 103.0h0.85v0.85h-0.85zM94.1 100.7h0.85v0.85h-0.85zM90.6 103.2h0.85v0.85h-0.85zM90.1 102.4h0.85v0.85h-0.85zM83.1 114.6h0.85v0.85h-0.85zM90.7 103.0h0.85v0.85h-0.85zM90.3 111.9h0.85v0.85h-0.85zM85.6 107.0h0.85v0.85h-0.85zM91.7 108.9h0.85v0.85h-0.85zM88.2 94.9h0.85v0.85h-0.85zM94.5 106.9h0.85v0.85h-0.85zM89.6 104.9h0.85v0.85h-0.85zM90.6 103.8h0.85v0.85h-0.85zM85.4 103.5h0.85v0.85h-0.85zM87.1 103.7h0.85v0.85h-0.85zM84.9 111.5h0.85v0.85h-0.85zM84.3 111.8h0.85v0.85h-0.85zM85.4 109.7h0.85v0.85h-0.85zM95.0 106.1h0.85v0.85h-0.85zM86.6 107.6h0.85v0.85h-0.85zM90.1 96.5h0.85v0.85h-0.85zM87.1 108.1h0.85v0.85h-0.85zM87.6 107.5h0.85v0.85h-0.85zM92.4 110.0h0.85v0.85h-0.85zM93.1 108.8h0.85v0.85h-0.85zM88.3 106.7h0.85v0.85h-0.85zM88.4 105.0h0.85v0.85h-0.85zM88.8 96.9h0.85v0.85h-0.85zM88.2 106.7h0.85v0.85h-0.85zM85.6 107.5h0.85v0.85h-0.85zM91.6 105.0h0.85v0.85h-0.85zM97.8 89.3h0.85v0.85h-0.85zM88.7 96.4h0.85v0.85h-0.85zM93.4 120.4h0.85v0.85h-0.85zM79.5 110.1h0.85v0.85h-0.85zM91.6 104.2h0.85v0.85h-0.85zM91.7 93.1h0.85v0.85h-0.85zM92.9 107.6h0.85v0.85h-0.85zM89.6 103.1h0.85v0.85h-0.85zM92.1 103.0h0.85v0.85h-0.85zM90.4 103.3h0.85v0.85h-0.85zM80.5 108.9h0.85v0.85h-0.85zM90.3 110.6h0.85v0.85h-0.85zM86.0 107.3h0.85v0.85h-0.85zM92.0 106.6h0.85v0.85h-0.85zM94.5 116.4h0.85v0.85h-0.85zM85.9 96.6h0.85v0.85h-0.85zM92.9 114.2h0.85v0.85h-0.85zM93.2 110.1h0.85v0.85h-0.85zM87.0 103.2h0.85v0.85h-0.85zM93.1 100.3h0.85v0.85h-0.85zM82.2 102.9h0.85v0.85h-0.85zM99.5 114.5h0.85v0.85h-0.85zM86.8 103.2h0.85v0.85h-0.85zM90.4 102.0h0.85v0.85h-0.85zM94.7 104.5h0.85v0.85h-0.85zM85.2 115.2h0.85v0.85h-0.85zM87.2 108.4h0.85v0.85h-0.85zM89.4 104.7h0.85v0.85h-0.85zM90.8 102.2h0.85v0.85h-0.85zM82.1 96.1h0.85v0.85h-0.85zM84.4 103.7h0.85v0.85h-0.85zM89.4 106.8h0.85v0.85h-0.85zM91.7 106.5h0.85v0.85h-0.85zM86.3 103.4h0.85v0.85h-0.85zM81.0 108.0h0.85v0.85h-0.85zM91.4 108.9h0.85v0.85h-0.85zM89.0 105.7h0.85v0.85h-0.85zM93.2 105.5h0.85v0.85h-0.85zM92.5 109.0h0.85v0.85h-0.85zM90.4 113.7h0.85v0.85h-0.85zM87.2 105.1h0.85v0.85h-0.85zM86.3 102.9h0.85v0.85h-0.85zM95.7 114.7h0.85v0.85h-0.85zM89.6 109.7h0.85v0.85h-0.85zM94.2 109.7h0.85v0.85h-0.85zM94.3 97.9h0.85v0.85h-0.85zM86.9 109.8h0.85v0.85h-0.85zM95.2 105.4h0.85v0.85h-0.85zM86.1 105.5h0.85v0.85h-0.85zM86.9 102.4h0.85v0.85h-0.85zM95.5 101.2h0.85v0.85h-0.85zM89.6 118.8h0.85v0.85h-0.85zM94.2 107.0h0.85v0.85h-0.85zM87.1 109.5h0.85v0.85h-0.85zM96.0 108.2h0.85v0.85h-0.85zM94.5 105.6h0.85v0.85h-0.85zM91.6 104.8h0.85v0.85h-0.85zM91.2 113.4h0.85v0.85h-0.85zM83.8 107.8h0.85v0.85h-0.85zM90.5 103.0h0.85v0.85h-0.85zM88.3 111.3h0.85v0.85h-0.85zM97.5 107.8h0.85v0.85h-0.85zM90.8 97.3h0.85v0.85h-0.85zM97.2 104.7h0.85v0.85h-0.85zM89.4 100.2h0.85v0.85h-0.85zM89.3 100.3h0.85v0.85h-0.85zM89.8 109.1h0.85v0.85h-0.85zM89.6 108.1h0.85v0.85h-0.85zM86.1 115.6h0.85v0.85h-0.85zM86.9 96.9h0.85v0.85h-0.85zM88.7 102.4h0.85v0.85h-0.85zM85.5 105.7h0.85v0.85h-0.85zM90.7 99.4h0.85v0.85h-0.85zM88.9 114.8h0.85v0.85h-0.85zM92.2 104.8h0.85v0.85h-0.85zM90.0 105.7h0.85v0.85h-0.85zM89.3 110.7h0.85v0.85h-0.85zM89.1 92.9h0.85v0.85h-0.85zM89.4 101.5h0.85v0.85h-0.85zM92.1 102.3h0.85v0.85h-0.85zM90.1 118.7h0.85v0.85h-0.85zM85.3 101.3h0.85v0.85h-0.85zM83.9 94.5h0.85v0.85h-0.85zM82.0 110.8h0.85v0.85h-0.85zM86.9 96.6h0.85v0.85h-0.85zM83.6 111.7h0.85v0.85h-0.85zM86.4 105.3h0.85v0.85h-0.85zM90.8 113.8h0.85v0.85h-0.85zM97.3 110.1h0.85v0.85h-0.85zM90.1 107.4h0.85v0.85h-0.85zM96.7 112.5h0.85v0.85h-0.85zM88.3 109.5h0.85v0.85h-0.85zM90.6 106.5h0.85v0.85h-0.85zM87.5 99.5h0.85v0.85h-0.85zM87.4 98.3h0.85v0.85h-0.85zM94.4 108.1h0.85v0.85h-0.85zM84.7 115.8h0.85v0.85h-0.85zM93.1 94.6h0.85v0.85h-0.85zM96.9 109.0h0.85v0.85h-0.85zM97.8 97.1h0.85v0.85h-0.85zM91.6 108.3h0.85v0.85h-0.85zM90.3 107.2h0.85v0.85h-0.85zM93.7 96.8h0.85v0.85h-0.85zM84.5 100.0h0.85v0.85h-0.85zM87.3 103.7h0.85v0.85h-0.85zM91.0 107.6h0.85v0.85h-0.85zM89.6 102.6h0.85v0.85h-0.85zM87.7 112.4h0.85v0.85h-0.85zM92.6 106.2h0.85v0.85h-0.85zM88.2 115.7h0.85v0.85h-0.85zM87.1 110.9h0.85v0.85h-0.85zM94.1 103.7h0.85v0.85h-0.85zM92.8 99.2h0.85v0.85h-0.85zM93.6 106.5h0.85v0.85h-0.85zM83.2 112.1h0.85v0.85h-0.85zM85.9 114.8h0.85v0.85h-0.85zM86.8 106.4h0.85v0.85h-0.85zM90.6 104.3h0.85v0.85h-0.85zM90.5 103.1h0.85v0.85h-0.85zM92.2 105.8h0.85v0.85h-0.85zM90.3 90.6h0.85v0.85h-0.85zM94.1 105.3h0.85v0.85h-0.85zM82.4 109.1h0.85v0.85h-0.85zM91.4 112.0h0.85v0.85h-0.85zM85.2 116.5h0.85v0.85h-0.85zM88.9 120.3h0.85v0.85h-0.85zM88.9 110.5h0.85v0.85h-0.85zM88.0 100.6h0.85v0.85h-0.85zM93.9 110.4h0.85v0.85h-0.85zM95.7 109.6h0.85v0.85h-0.85zM87.2 97.7h0.85v0.85h-0.85zM86.9 103.4h0.85v0.85h-0.85zM86.2 110.8h0.85v0.85h-0.85zM90.8 104.6h0.85v0.85h-0.85zM90.2 105.5h0.85v0.85h-0.85zM90.4 110.5h0.85v0.85h-0.85zM93.3 101.5h0.85v0.85h-0.85zM83.5 116.4h0.85v0.85h-0.85zM90.0 112.7h0.85v0.85h-0.85zM82.9 106.5h0.85v0.85h-0.85zM89.6 98.3h0.85v0.85h-0.85zM87.4 111.2h0.85v0.85h-0.85zM93.8 114.3h0.85v0.85h-0.85zM86.0 99.5h0.85v0.85h-0.85zM91.6 111.2h0.85v0.85h-0.85zM90.3 98.9h0.85v0.85h-0.85zM92.6 110.1h0.85v0.85h-0.85zM91.7 103.1h0.85v0.85h-0.85zM90.7 110.6h0.85v0.85h-0.85zM87.3 96.7h0.85v0.85h-0.85zM90.8 108.9h0.85v0.85h-0.85zM89.6 111.5h0.85v0.85h-0.85zM87.2 106.7h0.85v0.85h-0.85zM88.3 110.1h0.85v0.85h-0.85zM95.9 103.2h0.85v0.85h-0.85zM97.7 112.8h0.85v0.85h-0.85zM92.7 108.9h0.85v0.85h-0.85zM96.6 103.4h0.85v0.85h-0.85zM89.1 100.6h0.85v0.85h-0.85zM91.4 113.6h0.85v0.85h-0.85zM91.6 108.3h0.85v0.85h-0.85zM88.7 107.7h0.85v0.85h-0.85zM83.8 114.1h0.85v0.85h-0.85zM87.9 100.7h0.85v0.85h-0.85zM86.5 102.7h0.85v0.85h-0.85zM92.9 111.5h0.85v0.85h-0.85zM84.1 113.3h0.85v0.85h-0.85zM93.1 102.2h0.85v0.85h-0.85zM83.6 104.0h0.85v0.85h-0.85zM87.0 109.2h0.85v0.85h-0.85zM88.1 95.4h0.85v0.85h-0.85zM90.4 97.5h0.85v0.85h-0.85zM93.1 98.6h0.85v0.85h-0.85zM86.7 102.4h0.85v0.85h-0.85zM87.3 114.5h0.85v0.85h-0.85zM92.9 108.9h0.85v0.85h-0.85zM90.8 97.3h0.85v0.85h-0.85zM87.4 104.0h0.85v0.85h-0.85zM85.6 110.5h0.85v0.85h-0.85zM86.5 103.3h0.85v0.85h-0.85zM85.3 96.0h0.85v0.85h-0.85zM91.9 113.4h0.85v0.85h-0.85zM90.2 100.7h0.85v0.85h-0.85zM78.7 110.6h0.85v0.85h-0.85zM94.4 106.8h0.85v0.85h-0.85zM93.2 113.8h0.85v0.85h-0.85zM94.0 102.7h0.85v0.85h-0.85zM93.7 109.7h0.85v0.85h-0.85zM83.4 106.0h0.85v0.85h-0.85zM83.8 107.5h0.85v0.85h-0.85zM91.8 99.8h0.85v0.85h-0.85zM81.3 116.3h0.85v0.85h-0.85zM91.0 114.4h0.85v0.85h-0.85zM84.2 114.1h0.85v0.85h-0.85zM97.8 115.5h0.85v0.85h-0.85zM88.7 108.3h0.85v0.85h-0.85zM88.9 112.4h0.85v0.85h-0.85zM93.7 105.8h0.85v0.85h-0.85zM84.1 112.3h0.85v0.85h-0.85zM87.6 110.6h0.85v0.85h-0.85zM90.6 115.4h0.85v0.85h-0.85zM94.1 102.6h0.85v0.85h-0.85zM90.9 116.1h0.85v0.85h-0.85zM87.4 109.6h0.85v0.85h-0.85zM94.3 112.3h0.85v0.85h-0.85zM91.6 98.4h0.85v0.85h-0.85zM84.5 109.4h0.85v0.85h-0.85zM91.0 120.5h0.85v0.85h-0.85zM86.1 114.0h0.85v0.85h-0.85zM92.6 96.1h0.85v0.85h-0.85zM86.2 108.4h0.85v0.85h-0.85zM87.5 106.2h0.85v0.85h-0.85zM91.4 101.4h0.85v0.85h-0.85zM91.4 102.3h0.85v0.85h-0.85zM87.3 110.2h0.85v0.85h-0.85zM87.2 108.8h0.85v0.85h-0.85zM95.9 104.8h0.85v0.85h-0.85zM88.9 110.8h0.85v0.85h-0.85zM88.0 113.1h0.85v0.85h-0.85zM84.4 111.5h0.85v0.85h-0.85zM87.5 102.6h0.85v0.85h-0.85zM96.6 99.6h0.85v0.85h-0.85zM96.5 108.2h0.85v0.85h-0.85zM95.3 99.3h0.85v0.85h-0.85zM94.3 113.4h0.85v0.85h-0.85zM89.0 105.9h0.85v0.85h-0.85zM99.3 104.7h0.85v0.85h-0.85zM87.8 103.4h0.85v0.85h-0.85zM91.3 107.9h0.85v0.85h-0.85zM90.2 116.1h0.85v0.85h-0.85zM88.2 109.6h0.85v0.85h-0.85zM95.3 99.1h0.85v0.85h-0.85zM93.7 115.7h0.85v0.85h-0.85zM84.1 101.8h0.85v0.85h-0.85zM85.3 97.2h0.85v0.85h-0.85zM91.3 95.4h0.85v0.85h-0.85zM91.5 114.2h0.85v0.85h-0.85zM83.0 106.6h0.85v0.85h-0.85zM81.8 113.2h0.85v0.85h-0.85zM86.6 105.8h0.85v0.85h-0.85zM89.7 109.5h0.85v0.85h-0.85zM88.1 107.0h0.85v0.85h-0.85zM87.3 107.8h0.85v0.85h-0.85zM84.8 108.2h0.85v0.85h-0.85zM81.8 106.0h0.85v0.85h-0.85zM97.2 104.7h0.85v0.85h-0.85zM84.5 109.4h0.85v0.85h-0.85zM85.6 98.2h0.85v0.85h-0.85zM86.6 111.5h0.85v0.85h-0.85zM91.0 105.5h0.85v0.85h-0.85zM85.8 101.4h0.85v0.85h-0.85zM94.9 106.3h0.85v0.85h-0.85zM85.7 95.6h0.85v0.85h-0.85zM84.0 122.2h0.85v0.85h-0.85zM84.9 107.4h0.85v0.85h-0.85zM90.3 105.4h0.85v0.85h-0.85zM88.4 99.0h0.85v0.85h-0.85zM85.3 117.3h0.85v0.85h-0.85zM86.5 112.2h0.85v0.85h-0.85zM82.7 106.9h0.85v0.85h-0.85zM90.5 112.1h0.85v0.85h-0.85zM85.0 111.2h0.85v0.85h-0.85zM91.0 101.9h0.85v0.85h-0.85zM91.4 100.8h0.85v0.85h-0.85zM86.3 107.3h0.85v0.85h-0.85zM78.6 109.0h0.85v0.85h-0.85zM85.5 99.3h0.85v0.85h-0.85zM87.8 111.3h0.85v0.85h-0.85zM87.9 114.2h0.85v0.85h-0.85zM84.9 100.4h0.85v0.85h-0.85zM95.7 107.0h0.85v0.85h-0.85zM93.3 100.7h0.85v0.85h-0.85zM92.7 107.0h0.85v0.85h-0.85zM92.1 105.9h0.85v0.85h-0.85zM94.3 101.4h0.85v0.85h-0.85zM85.6 99.2h0.85v0.85h-0.85zM94.1 101.0h0.85v0.85h-0.85zM85.3 102.4h0.85v0.85h-0.85zM87.7 99.8h0.85v0.85h-0.85zM88.3 103.3h0.85v0.85h-0.85zM87.3 101.7h0.85v0.85h-0.85zM89.6 103.8h0.85v0.85h-0.85zM90.0 107.8h0.85v0.85h-0.85zM90.9 93.7h0.85v0.85h-0.85zM87.4 102.6h0.85v0.85h-0.85zM92.6 96.6h0.85v0.85h-0.85zM86.6 105.7h0.85v0.85h-0.85zM88.2 112.5h0.85v0.85h-0.85zM87.7 112.5h0.85v0.85h-0.85zM83.6 97.9h0.85v0.85h-0.85zM94.4 107.6h0.85v0.85h-0.85zM91.5 106.6h0.85v0.85h-0.85zM91.4 99.0h0.85v0.85h-0.85zM93.3 102.4h0.85v0.85h-0.85zM93.4 105.9h0.85v0.85h-0.85zM81.6 101.5h0.85v0.85h-0.85zM94.0 104.4h0.85v0.85h-0.85zM87.9 108.3h0.85v0.85h-0.85zM87.8 103.9h0.85v0.85h-0.85zM89.9 107.2h0.85v0.85h-0.85zM95.6 105.0h0.85v0.85h-0.85zM97.0 114.6h0.85v0.85h-0.85zM96.4 110.5h0.85v0.85h-0.85zM90.0 107.1h0.85v0.85h-0.85zM88.9 102.5h0.85v0.85h-0.85zM89.2 102.9h0.85v0.85h-0.85zM96.1 107.6h0.85v0.85h-0.85zM87.7 96.1h0.85v0.85h-0.85zM89.3 104.2h0.85v0.85h-0.85zM85.2 101.3h0.85v0.85h-0.85zM80.5 112.3h0.85v0.85h-0.85zM89.2 121.2h0.85v0.85h-0.85zM89.4 105.7h0.85v0.85h-0.85zM95.3 105.6h0.85v0.85h-0.85zM90.2 104.2h0.85v0.85h-0.85zM87.1 115.7h0.85v0.85h-0.85zM93.5 115.1h0.85v0.85h-0.85zM88.1 107.1h0.85v0.85h-0.85zM86.0 113.0h0.85v0.85h-0.85zM83.9 111.3h0.85v0.85h-0.85zM93.9 113.2h0.85v0.85h-0.85zM85.7 113.8h0.85v0.85h-0.85zM86.6 103.0h0.85v0.85h-0.85zM84.2 114.6h0.85v0.85h-0.85zM96.1 101.2h0.85v0.85h-0.85zM86.5 105.5h0.85v0.85h-0.85zM99.5 109.3h0.85v0.85h-0.85zM87.3 96.9h0.85v0.85h-0.85zM86.8 114.0h0.85v0.85h-0.85zM97.0 102.8h0.85v0.85h-0.85zM86.7 104.4h0.85v0.85h-0.85zM82.0 113.8h0.85v0.85h-0.85zM85.2 113.8h0.85v0.85h-0.85zM82.7 101.3h0.85v0.85h-0.85zM90.7 101.8h0.85v0.85h-0.85zM92.6 105.6h0.85v0.85h-0.85zM84.8 111.4h0.85v0.85h-0.85zM92.9 94.7h0.85v0.85h-0.85zM96.8 107.2h0.85v0.85h-0.85zM92.5 95.0h0.85v0.85h-0.85zM86.6 105.4h0.85v0.85h-0.85zM93.8 97.0h0.85v0.85h-0.85zM86.0 96.0h0.85v0.85h-0.85zM88.5 108.7h0.85v0.85h-0.85zM82.8 105.1h0.85v0.85h-0.85zM91.5 114.9h0.85v0.85h-0.85zM92.2 104.0h0.85v0.85h-0.85zM84.8 102.5h0.85v0.85h-0.85zM86.8 108.1h0.85v0.85h-0.85zM89.3 116.0h0.85v0.85h-0.85zM90.6 100.1h0.85v0.85h-0.85zM95.7 110.1h0.85v0.85h-0.85zM89.9 102.3h0.85v0.85h-0.85zM82.0 102.9h0.85v0.85h-0.85zM93.1 100.9h0.85v0.85h-0.85zM84.2 109.1h0.85v0.85h-0.85zM90.5 109.7h0.85v0.85h-0.85zM92.1 113.7h0.85v0.85h-0.85zM86.1 113.0h0.85v0.85h-0.85zM85.6 111.6h0.85v0.85h-0.85zM90.2 107.7h0.85v0.85h-0.85zM93.4 105.3h0.85v0.85h-0.85zM93.9 110.2h0.85v0.85h-0.85zM90.0 103.1h0.85v0.85h-0.85zM86.5 104.4h0.85v0.85h-0.85zM88.7 106.6h0.85v0.85h-0.85zM101.4 106.7h0.85v0.85h-0.85zM92.6 100.7h0.85v0.85h-0.85zM86.7 105.5h0.85v0.85h-0.85zM90.3 100.4h0.85v0.85h-0.85zM95.9 101.4h0.85v0.85h-0.85zM93.8 92.0h0.85v0.85h-0.85zM89.5 108.1h0.85v0.85h-0.85zM90.3 109.7h0.85v0.85h-0.85zM90.6 107.1h0.85v0.85h-0.85zM81.9 104.6h0.85v0.85h-0.85zM80.1 112.8h0.85v0.85h-0.85zM90.7 105.0h0.85v0.85h-0.85zM86.2 104.1h0.85v0.85h-0.85zM96.9 114.2h0.85v0.85h-0.85zM89.3 113.9h0.85v0.85h-0.85zM83.1 97.3h0.85v0.85h-0.85zM87.6 102.1h0.85v0.85h-0.85zM87.3 108.2h0.85v0.85h-0.85zM101.6 99.2h0.85v0.85h-0.85zM89.7 108.0h0.85v0.85h-0.85zM89.4 111.8h0.85v0.85h-0.85zM96.6 97.4h0.85v0.85h-0.85zM90.1 104.8h0.85v0.85h-0.85zM90.9 97.4h0.85v0.85h-0.85zM82.5 95.4h0.85v0.85h-0.85zM91.6 107.0h0.85v0.85h-0.85zM89.8 93.0h0.85v0.85h-0.85zM88.0 102.6h0.85v0.85h-0.85zM83.8 102.9h0.85v0.85h-0.85zM92.3 108.8h0.85v0.85h-0.85zM89.4 109.4h0.85v0.85h-0.85zM87.1 107.6h0.85v0.85h-0.85zM89.7 109.6h0.85v0.85h-0.85zM89.2 105.8h0.85v0.85h-0.85zM89.0 103.0h0.85v0.85h-0.85zM98.4 106.8h0.85v0.85h-0.85zM91.2 119.0h0.85v0.85h-0.85zM95.1 96.0h0.85v0.85h-0.85zM92.3 110.5h0.85v0.85h-0.85zM97.0 111.8h0.85v0.85h-0.85zM92.6 98.9h0.85v0.85h-0.85zM86.0 109.0h0.85v0.85h-0.85zM91.5 100.1h0.85v0.85h-0.85zM88.0 104.7h0.85v0.85h-0.85zM89.7 108.3h0.85v0.85h-0.85zM88.4 99.8h0.85v0.85h-0.85zM94.5 114.1h0.85v0.85h-0.85zM89.1 112.4h0.85v0.85h-0.85zM91.3 109.7h0.85v0.85h-0.85zM91.4 101.6h0.85v0.85h-0.85zM91.8 111.6h0.85v0.85h-0.85zM85.9 118.7h0.85v0.85h-0.85zM97.9 114.4h0.85v0.85h-0.85zM97.5 108.4h0.85v0.85h-0.85zM88.1 103.5h0.85v0.85h-0.85zM86.2 108.1h0.85v0.85h-0.85zM89.4 110.3h0.85v0.85h-0.85zM81.4 122.0h0.85v0.85h-0.85zM98.6 103.7h0.85v0.85h-0.85zM92.2 108.4h0.85v0.85h-0.85zM90.6 105.0h0.85v0.85h-0.85zM89.0 102.0h0.85v0.85h-0.85zM90.2 106.2h0.85v0.85h-0.85zM90.8 101.3h0.85v0.85h-0.85zM89.7 106.7h0.85v0.85h-0.85zM91.9 99.8h0.85v0.85h-0.85zM91.2 111.6h0.85v0.85h-0.85zM91.9 103.7h0.85v0.85h-0.85zM87.5 105.7h0.85v0.85h-0.85zM92.4 114.5h0.85v0.85h-0.85zM88.9 103.0h0.85v0.85h-0.85zM91.0 107.2h0.85v0.85h-0.85zM85.9 103.4h0.85v0.85h-0.85zM89.1 110.4h0.85v0.85h-0.85zM84.7 102.1h0.85v0.85h-0.85zM91.5 99.0h0.85v0.85h-0.85zM89.9 108.4h0.85v0.85h-0.85zM89.1 100.8h0.85v0.85h-0.85zM89.3 104.7h0.85v0.85h-0.85zM90.8 101.3h0.85v0.85h-0.85zM93.9 95.7h0.85v0.85h-0.85zM88.8 106.7h0.85v0.85h-0.85zM93.3 101.9h0.85v0.85h-0.85zM91.7 102.6h0.85v0.85h-0.85zM92.5 115.5h0.85v0.85h-0.85zM87.9 109.5h0.85v0.85h-0.85zM85.8 113.1h0.85v0.85h-0.85zM94.3 105.3h0.85v0.85h-0.85zM85.0 110.1h0.85v0.85h-0.85zM94.1 111.4h0.85v0.85h-0.85zM92.8 95.2h0.85v0.85h-0.85zM86.8 115.4h0.85v0.85h-0.85zM84.6 114.4h0.85v0.85h-0.85zM97.0 108.6h0.85v0.85h-0.85zM94.0 103.3h0.85v0.85h-0.85zM84.6 107.3h0.85v0.85h-0.85zM88.7 106.5h0.85v0.85h-0.85zM92.3 104.9h0.85v0.85h-0.85zM90.3 108.7h0.85v0.85h-0.85zM89.5 117.0h0.85v0.85h-0.85zM91.3 106.5h0.85v0.85h-0.85zM88.7 103.2h0.85v0.85h-0.85zM94.9 105.8h0.85v0.85h-0.85zM85.2 104.6h0.85v0.85h-0.85zM89.0 104.1h0.85v0.85h-0.85zM93.8 98.6h0.85v0.85h-0.85zM91.5 106.7h0.85v0.85h-0.85zM84.8 108.1h0.85v0.85h-0.85zM89.1 109.5h0.85v0.85h-0.85zM87.7 108.7h0.85v0.85h-0.85zM82.8 102.3h0.85v0.85h-0.85zM92.6 111.5h0.85v0.85h-0.85zM89.4 103.1h0.85v0.85h-0.85zM93.8 93.4h0.85v0.85h-0.85zM86.3 111.2h0.85v0.85h-0.85zM92.1 99.9h0.85v0.85h-0.85zM82.0 116.9h0.85v0.85h-0.85zM90.1 101.2h0.85v0.85h-0.85zM89.7 111.6h0.85v0.85h-0.85zM79.1 115.8h0.85v0.85h-0.85zM92.5 93.8h0.85v0.85h-0.85zM92.6 95.5h0.85v0.85h-0.85zM94.1 107.4h0.85v0.85h-0.85zM98.5 100.4h0.85v0.85h-0.85zM89.5 112.4h0.85v0.85h-0.85zM86.9 103.2h0.85v0.85h-0.85zM88.0 106.5h0.85v0.85h-0.85zM85.2 110.5h0.85v0.85h-0.85zM91.7 106.3h0.85v0.85h-0.85zM96.3 102.7h0.85v0.85h-0.85zM94.7 101.9h0.85v0.85h-0.85zM92.5 94.6h0.85v0.85h-0.85zM90.3 105.3h0.85v0.85h-0.85zM87.5 103.6h0.85v0.85h-0.85zM88.1 102.8h0.85v0.85h-0.85zM80.7 105.7h0.85v0.85h-0.85zM87.3 104.2h0.85v0.85h-0.85zM85.3 107.0h0.85v0.85h-0.85zM92.6 104.2h0.85v0.85h-0.85zM87.5 114.8h0.85v0.85h-0.85zM93.4 110.6h0.85v0.85h-0.85zM94.1 103.3h0.85v0.85h-0.85zM89.0 113.0h0.85v0.85h-0.85zM87.3 106.5h0.85v0.85h-0.85zM91.0 108.2h0.85v0.85h-0.85zM88.4 112.4h0.85v0.85h-0.85zM88.8 110.8h0.85v0.85h-0.85zM93.8 109.0h0.85v0.85h-0.85zM92.4 99.1h0.85v0.85h-0.85zM84.3 104.5h0.85v0.85h-0.85zM91.4 114.5h0.85v0.85h-0.85zM84.6 109.7h0.85v0.85h-0.85zM86.1 103.3h0.85v0.85h-0.85zM88.4 110.8h0.85v0.85h-0.85zM90.4 113.0h0.85v0.85h-0.85zM85.6 112.7h0.85v0.85h-0.85zM93.2 105.8h0.85v0.85h-0.85zM91.4 102.7h0.85v0.85h-0.85zM85.1 105.5h0.85v0.85h-0.85zM86.9 123.7h0.85v0.85h-0.85zM87.6 116.4h0.85v0.85h-0.85zM90.3 108.0h0.85v0.85h-0.85zM92.5 101.2h0.85v0.85h-0.85zM93.2 107.6h0.85v0.85h-0.85zM83.4 111.7h0.85v0.85h-0.85zM91.7 108.4h0.85v0.85h-0.85zM95.8 102.3h0.85v0.85h-0.85zM91.5 110.2h0.85v0.85h-0.85zM85.9 114.4h0.85v0.85h-0.85zM83.7 100.8h0.85v0.85h-0.85zM91.6 99.7h0.85v0.85h-0.85zM89.0 97.3h0.85v0.85h-0.85zM89.8 100.0h0.85v0.85h-0.85zM90.9 97.4h0.85v0.85h-0.85zM91.3 104.5h0.85v0.85h-0.85zM89.8 106.0h0.85v0.85h-0.85zM90.0 98.8h0.85v0.85h-0.85zM79.2 109.7h0.85v0.85h-0.85zM85.8 105.0h0.85v0.85h-0.85zM91.2 94.7h0.85v0.85h-0.85zM86.4 103.9h0.85v0.85h-0.85zM85.3 109.6h0.85v0.85h-0.85zM88.9 102.0h0.85v0.85h-0.85zM85.6 112.2h0.85v0.85h-0.85zM86.9 110.6h0.85v0.85h-0.85zM91.3 95.2h0.85v0.85h-0.85zM85.2 107.8h0.85v0.85h-0.85zM90.9 110.5h0.85v0.85h-0.85zM92.7 111.4h0.85v0.85h-0.85zM88.0 105.7h0.85v0.85h-0.85zM92.6 103.2h0.85v0.85h-0.85zM93.7 96.2h0.85v0.85h-0.85zM92.1 104.8h0.85v0.85h-0.85zM81.6 114.3h0.85v0.85h-0.85zM90.7 106.3h0.85v0.85h-0.85zM85.2 105.1h0.85v0.85h-0.85zM95.5 100.0h0.85v0.85h-0.85zM75.6 105.7h0.85v0.85h-0.85zM84.7 107.1h0.85v0.85h-0.85zM87.9 101.8h0.85v0.85h-0.85zM86.1 113.4h0.85v0.85h-0.85zM83.7 119.3h0.85v0.85h-0.85zM87.3 100.9h0.85v0.85h-0.85zM92.6 108.8h0.85v0.85h-0.85zM85.3 112.0h0.85v0.85h-0.85zM82.1 103.4h0.85v0.85h-0.85zM94.0 103.7h0.85v0.85h-0.85zM84.3 110.9h0.85v0.85h-0.85zM93.2 105.3h0.85v0.85h-0.85zM82.3 106.6h0.85v0.85h-0.85zM91.2 110.4h0.85v0.85h-0.85zM96.9 102.9h0.85v0.85h-0.85zM87.6 106.8h0.85v0.85h-0.85zM94.3 99.7h0.85v0.85h-0.85zM94.7 89.4h0.85v0.85h-0.85zM92.7 101.7h0.85v0.85h-0.85zM91.3 109.9h0.85v0.85h-0.85zM84.8 107.4h0.85v0.85h-0.85zM90.5 109.6h0.85v0.85h-0.85zM85.8 101.9h0.85v0.85h-0.85zM81.8 123.2h0.85v0.85h-0.85zM88.7 105.5h0.85v0.85h-0.85zM83.5 113.5h0.85v0.85h-0.85zM87.4 115.3h0.85v0.85h-0.85zM92.9 105.6h0.85v0.85h-0.85zM92.4 99.3h0.85v0.85h-0.85zM88.2 103.6h0.85v0.85h-0.85zM84.4 108.1h0.85v0.85h-0.85zM88.9 114.8h0.85v0.85h-0.85zM76.1 106.6h0.85v0.85h-0.85zM85.8 104.9h0.85v0.85h-0.85zM91.2 108.3h0.85v0.85h-0.85zM89.6 103.8h0.85v0.85h-0.85zM88.2 102.5h0.8v0.8h-0.8zM70.7 95.8h0.8v0.8h-0.8zM74.2 87.8h0.8v0.8h-0.8zM85.6 99.6h0.8v0.8h-0.8zM85.4 91.2h0.8v0.8h-0.8zM83.0 90.7h0.8v0.8h-0.8zM87.4 105.4h0.8v0.8h-0.8zM97.7 111.2h0.8v0.8h-0.8zM78.5 94.5h0.8v0.8h-0.8zM77.5 101.3h0.8v0.8h-0.8zM99.4 106.3h0.8v0.8h-0.8zM68.0 86.7h0.8v0.8h-0.8zM74.8 103.0h0.8v0.8h-0.8zM84.5 101.7h0.8v0.8h-0.8zM97.9 92.4h0.8v0.8h-0.8zM78.1 116.3h0.8v0.8h-0.8zM87.1 92.2h0.8v0.8h-0.8zM69.3 84.4h0.8v0.8h-0.8zM66.2 98.5h0.8v0.8h-0.8zM84.8 107.9h0.8v0.8h-0.8zM83.5 92.7h0.8v0.8h-0.8zM78.9 115.8h0.8v0.8h-0.8zM71.3 99.8h0.8v0.8h-0.8zM84.7 104.6h0.8v0.8h-0.8zM81.5 103.3h0.8v0.8h-0.8zM90.6 98.0h0.8v0.8h-0.8zM81.1 97.1h0.8v0.8h-0.8zM77.3 96.7h0.8v0.8h-0.8zM82.2 100.8h0.8v0.8h-0.8zM94.5 111.4h0.8v0.8h-0.8zM81.2 104.2h0.8v0.8h-0.8zM86.7 106.0h0.8v0.8h-0.8zM84.7 101.4h0.8v0.8h-0.8zM81.0 91.7h0.8v0.8h-0.8zM91.0 111.1h0.8v0.8h-0.8zM89.5 103.2h0.8v0.8h-0.8zM86.5 95.1h0.8v0.8h-0.8zM71.1 104.2h0.8v0.8h-0.8zM86.0 94.1h0.8v0.8h-0.8zM77.3 110.1h0.8v0.8h-0.8zM71.0 114.0h0.8v0.8h-0.8zM89.3 120.6h0.8v0.8h-0.8zM79.1 98.5h0.8v0.8h-0.8zM80.7 100.2h0.8v0.8h-0.8zM82.9 92.2h0.8v0.8h-0.8zM92.6 92.4h0.8v0.8h-0.8zM80.7 103.8h0.8v0.8h-0.8zM80.5 94.9h0.8v0.8h-0.8zM87.2 95.9h0.8v0.8h-0.8zM75.2 97.5h0.8v0.8h-0.8zM82.9 114.2h0.8v0.8h-0.8zM76.3 107.2h0.8v0.8h-0.8zM78.6 95.4h0.8v0.8h-0.8zM82.0 101.3h0.8v0.8h-0.8zM91.0 115.1h0.8v0.8h-0.8zM79.7 110.7h0.8v0.8h-0.8zM92.0 106.8h0.8v0.8h-0.8zM78.8 106.8h0.8v0.8h-0.8zM83.7 102.1h0.8v0.8h-0.8zM82.5 104.8h0.8v0.8h-0.8zM92.9 109.7h0.8v0.8h-0.8zM83.0 107.9h0.8v0.8h-0.8zM95.4 91.2h0.8v0.8h-0.8zM95.5 87.7h0.8v0.8h-0.8zM88.6 104.6h0.8v0.8h-0.8zM95.6 102.2h0.8v0.8h-0.8zM80.9 91.6h0.8v0.8h-0.8zM75.1 105.3h0.8v0.8h-0.8zM82.7 92.4h0.8v0.8h-0.8zM88.5 92.4h0.8v0.8h-0.8zM81.2 94.7h0.8v0.8h-0.8zM96.9 112.9h0.8v0.8h-0.8zM83.3 84.8h0.8v0.8h-0.8zM86.6 99.8h0.8v0.8h-0.8zM87.1 104.2h0.8v0.8h-0.8zM82.1 107.2h0.8v0.8h-0.8zM90.8 101.3h0.8v0.8h-0.8zM81.5 94.5h0.8v0.8h-0.8zM89.7 89.4h0.8v0.8h-0.8zM83.3 92.2h0.8v0.8h-0.8zM74.0 103.8h0.8v0.8h-0.8zM84.3 99.3h0.8v0.8h-0.8zM91.1 86.0h0.8v0.8h-0.8zM84.0 101.6h0.8v0.8h-0.8zM90.7 89.6h0.8v0.8h-0.8zM89.9 101.3h0.8v0.8h-0.8zM94.7 109.8h0.8v0.8h-0.8zM88.6 118.6h0.8v0.8h-0.8zM84.5 95.2h0.8v0.8h-0.8zM81.9 90.4h0.8v0.8h-0.8zM84.3 82.1h0.8v0.8h-0.8zM83.9 102.8h0.8v0.8h-0.8zM91.9 96.3h0.8v0.8h-0.8zM94.9 93.8h0.8v0.8h-0.8zM83.5 82.1h0.8v0.8h-0.8zM78.8 91.5h0.8v0.8h-0.8zM95.4 104.3h0.8v0.8h-0.8zM76.4 103.2h0.8v0.8h-0.8zM88.0 97.2h0.8v0.8h-0.8zM84.7 96.3h0.8v0.8h-0.8zM80.5 83.2h0.8v0.8h-0.8zM83.8 110.2h0.8v0.8h-0.8zM95.0 97.2h0.8v0.8h-0.8zM79.0 96.8h0.8v0.8h-0.8zM91.1 102.5h0.8v0.8h-0.8zM80.2 101.9h0.8v0.8h-0.8zM83.0 103.4h0.8v0.8h-0.8zM81.5 85.9h0.8v0.8h-0.8zM84.9 105.7h0.8v0.8h-0.8zM76.4 97.6h0.8v0.8h-0.8zM90.9 96.1h0.8v0.8h-0.8zM79.7 116.5h0.8v0.8h-0.8zM90.6 108.4h0.8v0.8h-0.8zM77.6 112.9h0.8v0.8h-0.8zM72.4 93.7h0.8v0.8h-0.8zM89.9 111.0h0.8v0.8h-0.8zM77.7 92.8h0.8v0.8h-0.8zM85.9 82.2h0.8v0.8h-0.8zM89.2 104.2h0.8v0.8h-0.8zM81.2 103.5h0.8v0.8h-0.8zM90.2 102.0h0.8v0.8h-0.8zM88.3 112.4h0.8v0.8h-0.8zM81.0 100.2h0.8v0.8h-0.8zM80.7 107.8h0.8v0.8h-0.8zM81.5 103.0h0.8v0.8h-0.8zM85.5 99.6h0.8v0.8h-0.8zM97.0 99.0h0.8v0.8h-0.8zM94.8 106.8h0.8v0.8h-0.8zM94.1 98.1h0.8v0.8h-0.8zM91.2 106.0h0.8v0.8h-0.8zM80.0 101.1h0.8v0.8h-0.8zM83.6 98.6h0.8v0.8h-0.8zM93.9 93.3h0.8v0.8h-0.8zM72.3 83.1h0.8v0.8h-0.8zM81.2 93.2h0.8v0.8h-0.8zM84.6 103.9h0.8v0.8h-0.8zM97.2 102.4h0.8v0.8h-0.8zM87.9 92.8h0.8v0.8h-0.8zM88.7 111.0h0.8v0.8h-0.8zM94.2 82.6h0.8v0.8h-0.8zM90.9 113.1h0.8v0.8h-0.8zM90.5 86.4h0.8v0.8h-0.8zM82.3 104.0h0.8v0.8h-0.8zM87.5 92.2h0.8v0.8h-0.8zM78.1 107.0h0.8v0.8h-0.8zM74.9 110.8h0.8v0.8h-0.8zM84.6 101.6h0.8v0.8h-0.8zM74.9 93.3h0.8v0.8h-0.8zM89.5 86.6h0.8v0.8h-0.8zM99.4 87.8h0.8v0.8h-0.8zM75.7 98.8h0.8v0.8h-0.8zM88.0 105.5h0.8v0.8h-0.8zM81.8 97.0h0.8v0.8h-0.8zM82.8 93.9h0.8v0.8h-0.8zM65.9 106.2h0.8v0.8h-0.8zM86.3 100.5h0.8v0.8h-0.8zM80.0 100.9h0.8v0.8h-0.8zM84.4 98.3h0.8v0.8h-0.8zM92.5 84.6h0.8v0.8h-0.8zM86.3 89.9h0.8v0.8h-0.8zM82.2 111.8h0.8v0.8h-0.8zM76.7 97.7h0.8v0.8h-0.8zM80.2 106.9h0.8v0.8h-0.8zM77.4 84.0h0.8v0.8h-0.8zM88.2 96.2h0.8v0.8h-0.8zM82.2 108.2h0.8v0.8h-0.8zM78.1 95.4h0.8v0.8h-0.8zM85.6 102.6h0.8v0.8h-0.8zM80.8 107.7h0.8v0.8h-0.8zM100.6 96.4h0.8v0.8h-0.8zM98.0 81.6h0.8v0.8h-0.8zM94.6 96.6h0.8v0.8h-0.8zM85.5 96.1h0.8v0.8h-0.8zM79.9 87.7h0.8v0.8h-0.8zM81.7 110.0h0.8v0.8h-0.8zM92.7 96.5h0.8v0.8h-0.8zM80.7 92.7h0.8v0.8h-0.8zM75.9 114.1h0.8v0.8h-0.8zM89.3 100.3h0.8v0.8h-0.8zM81.0 90.0h0.8v0.8h-0.8zM94.0 106.3h0.8v0.8h-0.8zM77.6 107.1h0.8v0.8h-0.8zM76.5 104.1h0.8v0.8h-0.8zM77.6 95.0h0.8v0.8h-0.8zM88.1 102.9h0.8v0.8h-0.8zM91.8 92.2h0.8v0.8h-0.8zM95.9 111.3h0.8v0.8h-0.8zM84.4 103.0h0.8v0.8h-0.8zM78.9 97.3h0.8v0.8h-0.8zM75.0 99.2h0.8v0.8h-0.8zM85.9 110.7h0.8v0.8h-0.8zM91.3 106.4h0.8v0.8h-0.8zM81.9 96.9h0.8v0.8h-0.8zM82.0 100.8h0.8v0.8h-0.8zM70.6 104.8h0.8v0.8h-0.8zM73.2 93.9h0.8v0.8h-0.8zM84.7 94.6h0.8v0.8h-0.8zM96.5 98.9h0.8v0.8h-0.8zM95.8 109.8h0.8v0.8h-0.8zM80.9 102.2h0.8v0.8h-0.8zM93.8 96.7h0.8v0.8h-0.8zM85.1 94.2h0.8v0.8h-0.8zM84.9 96.0h0.8v0.8h-0.8zM85.1 107.7h0.8v0.8h-0.8zM94.5 100.8h0.8v0.8h-0.8zM86.0 106.5h0.8v0.8h-0.8zM82.4 89.7h0.8v0.8h-0.8zM92.5 91.4h0.8v0.8h-0.8zM91.2 91.1h0.8v0.8h-0.8zM97.7 90.8h0.8v0.8h-0.8zM90.6 112.3h0.8v0.8h-0.8zM77.6 111.4h0.8v0.8h-0.8zM78.6 83.4h0.8v0.8h-0.8zM89.7 105.4h0.8v0.8h-0.8zM83.0 77.1h0.8v0.8h-0.8zM84.1 96.3h0.8v0.8h-0.8zM81.8 96.3h0.8v0.8h-0.8zM71.6 93.3h0.8v0.8h-0.8zM97.5 113.1h0.8v0.8h-0.8zM81.9 92.7h0.8v0.8h-0.8zM87.4 108.3h0.8v0.8h-0.8zM89.7 89.2h0.8v0.8h-0.8zM85.7 100.3h0.8v0.8h-0.8zM94.9 109.9h0.8v0.8h-0.8zM88.3 109.7h0.8v0.8h-0.8zM81.7 112.1h0.8v0.8h-0.8zM81.4 102.2h0.8v0.8h-0.8zM91.1 91.5h0.8v0.8h-0.8zM79.4 83.5h0.8v0.8h-0.8zM85.7 98.6h0.8v0.8h-0.8zM82.1 103.2h0.8v0.8h-0.8zM69.3 97.9h0.8v0.8h-0.8zM85.1 96.7h0.8v0.8h-0.8zM90.2 114.5h0.8v0.8h-0.8zM81.3 90.7h0.8v0.8h-0.8zM80.1 99.5h0.8v0.8h-0.8zM88.7 91.8h0.8v0.8h-0.8zM91.7 90.6h0.8v0.8h-0.8zM90.5 103.0h0.8v0.8h-0.8zM87.8 117.8h0.8v0.8h-0.8zM82.6 97.5h0.8v0.8h-0.8zM87.9 106.7h0.8v0.8h-0.8zM74.9 100.8h0.8v0.8h-0.8zM79.2 104.1h0.8v0.8h-0.8zM94.4 100.0h0.8v0.8h-0.8zM83.7 100.5h0.8v0.8h-0.8zM63.2 104.4h0.8v0.8h-0.8zM88.5 100.7h0.8v0.8h-0.8zM81.6 92.5h0.8v0.8h-0.8zM83.2 109.4h0.8v0.8h-0.8zM83.8 110.6h0.8v0.8h-0.8zM66.0 93.9h0.8v0.8h-0.8zM86.5 99.0h0.8v0.8h-0.8zM72.5 92.5h0.8v0.8h-0.8zM93.5 88.4h0.8v0.8h-0.8zM77.4 89.1h0.8v0.8h-0.8zM80.5 104.3h0.8v0.8h-0.8zM88.8 81.7h0.8v0.8h-0.8zM95.0 94.5h0.8v0.8h-0.8zM80.3 113.1h0.8v0.8h-0.8zM83.9 88.3h0.8v0.8h-0.8zM79.9 92.5h0.8v0.8h-0.8zM77.2 95.7h0.8v0.8h-0.8zM90.8 102.4h0.8v0.8h-0.8zM74.6 122.5h0.8v0.8h-0.8zM77.4 99.6h0.8v0.8h-0.8zM84.7 105.6h0.8v0.8h-0.8zM82.1 102.8h0.8v0.8h-0.8zM99.7 100.7h0.8v0.8h-0.8zM76.7 101.4h0.8v0.8h-0.8zM78.7 95.5h0.8v0.8h-0.8zM85.9 102.0h0.8v0.8h-0.8zM82.5 106.2h0.8v0.8h-0.8zM83.1 87.7h0.8v0.8h-0.8zM90.8 96.2h0.8v0.8h-0.8zM93.2 93.9h0.8v0.8h-0.8zM88.6 102.0h0.8v0.8h-0.8zM65.1 84.9h0.8v0.8h-0.8zM76.4 110.7h0.8v0.8h-0.8zM70.9 106.1h0.8v0.8h-0.8zM92.4 103.7h0.8v0.8h-0.8zM89.4 95.0h0.8v0.8h-0.8zM84.4 100.9h0.8v0.8h-0.8zM87.5 105.3h0.8v0.8h-0.8zM83.0 92.9h0.8v0.8h-0.8zM80.5 102.3h0.8v0.8h-0.8zM72.5 87.5h0.8v0.8h-0.8zM81.5 94.1h0.8v0.8h-0.8zM82.6 75.9h0.8v0.8h-0.8zM82.0 96.7h0.8v0.8h-0.8zM90.1 82.3h0.8v0.8h-0.8zM82.3 103.0h0.8v0.8h-0.8zM88.0 109.5h0.8v0.8h-0.8zM92.1 90.4h0.8v0.8h-0.8zM89.1 96.4h0.8v0.8h-0.8zM78.7 111.9h0.8v0.8h-0.8zM80.0 91.3h0.8v0.8h-0.8zM81.6 91.5h0.8v0.8h-0.8zM91.8 102.7h0.8v0.8h-0.8zM94.6 103.2h0.8v0.8h-0.8zM80.1 107.8h0.8v0.8h-0.8zM79.8 94.7h0.8v0.8h-0.8zM83.3 99.3h0.8v0.8h-0.8zM93.1 94.3h0.8v0.8h-0.8zM87.0 98.9h0.8v0.8h-0.8zM75.4 89.0h0.8v0.8h-0.8zM82.9 102.4h0.8v0.8h-0.8zM86.8 103.3h0.8v0.8h-0.8zM84.9 95.1h0.8v0.8h-0.8zM87.6 90.5h0.8v0.8h-0.8zM74.8 95.5h0.8v0.8h-0.8zM74.2 93.9h0.8v0.8h-0.8zM79.1 93.9h0.8v0.8h-0.8zM84.2 92.0h0.8v0.8h-0.8zM81.4 84.0h0.8v0.8h-0.8zM85.5 91.4h0.8v0.8h-0.8zM87.4 74.7h0.8v0.8h-0.8zM78.7 100.8h0.8v0.8h-0.8zM66.9 94.8h0.8v0.8h-0.8zM85.2 99.9h0.8v0.8h-0.8zM73.7 100.3h0.8v0.8h-0.8zM85.6 90.6h0.8v0.8h-0.8zM89.9 98.9h0.8v0.8h-0.8zM84.6 95.1h0.8v0.8h-0.8zM88.5 100.1h0.8v0.8h-0.8zM92.7 103.4h0.8v0.8h-0.8zM80.0 96.8h0.8v0.8h-0.8zM91.1 96.2h0.8v0.8h-0.8zM87.3 103.7h0.8v0.8h-0.8zM83.2 78.7h0.8v0.8h-0.8zM85.5 100.9h0.8v0.8h-0.8zM85.5 92.5h0.8v0.8h-0.8zM93.3 98.4h0.8v0.8h-0.8zM80.0 92.5h0.8v0.8h-0.8zM87.1 89.7h0.8v0.8h-0.8zM77.2 115.9h0.8v0.8h-0.8zM94.0 108.7h0.8v0.8h-0.8zM94.4 104.8h0.8v0.8h-0.8zM72.3 108.7h0.8v0.8h-0.8zM93.5 103.8h0.8v0.8h-0.8zM70.3 109.0h0.8v0.8h-0.8zM94.4 95.3h0.8v0.8h-0.8zM85.4 105.8h0.8v0.8h-0.8zM83.9 108.5h0.8v0.8h-0.8zM85.1 105.1h0.8v0.8h-0.8zM85.1 86.2h0.8v0.8h-0.8zM77.3 126.1h0.8v0.8h-0.8zM86.5 110.5h0.8v0.8h-0.8zM92.8 114.4h0.8v0.8h-0.8zM88.5 94.1h0.8v0.8h-0.8zM84.6 82.3h0.8v0.8h-0.8zM83.1 106.8h0.8v0.8h-0.8zM68.8 99.8h0.8v0.8h-0.8zM90.5 110.9h0.8v0.8h-0.8zM77.8 92.9h0.8v0.8h-0.8zM70.9 89.3h0.8v0.8h-0.8zM88.4 117.3h0.8v0.8h-0.8zM76.2 110.5h0.8v0.8h-0.8zM87.6 94.9h0.8v0.8h-0.8zM100.5 78.0h0.8v0.8h-0.8zM84.0 100.9h0.8v0.8h-0.8zM100.0 115.6h0.8v0.8h-0.8zM101.0 101.2h0.8v0.8h-0.8zM91.6 111.3h0.8v0.8h-0.8zM88.2 102.4h0.8v0.8h-0.8zM83.2 95.4h0.8v0.8h-0.8zM75.5 115.5h0.8v0.8h-0.8zM81.2 80.6h0.8v0.8h-0.8zM86.4 98.8h0.8v0.8h-0.8zM85.8 114.9h0.8v0.8h-0.8zM83.7 96.6h0.8v0.8h-0.8zM79.1 98.5h0.8v0.8h-0.8zM81.3 100.6h0.8v0.8h-0.8zM107.3 103.8h0.8v0.8h-0.8zM78.3 115.5h0.8v0.8h-0.8zM90.8 106.5h0.8v0.8h-0.8zM89.7 106.5h0.8v0.8h-0.8zM89.4 111.6h0.8v0.8h-0.8zM91.8 111.2h0.8v0.8h-0.8zM80.8 98.8h0.8v0.8h-0.8zM79.2 107.1h0.8v0.8h-0.8zM90.6 95.3h0.8v0.8h-0.8zM88.8 122.2h0.8v0.8h-0.8zM93.5 89.8h0.8v0.8h-0.8zM83.8 104.5h0.8v0.8h-0.8zM84.2 102.4h0.8v0.8h-0.8zM93.1 102.4h0.8v0.8h-0.8zM76.5 104.8h0.8v0.8h-0.8zM83.8 100.0h0.8v0.8h-0.8zM80.4 86.6h0.8v0.8h-0.8zM75.4 95.4h0.8v0.8h-0.8zM76.7 74.8h0.8v0.8h-0.8zM92.9 89.3h0.8v0.8h-0.8zM79.2 103.3h0.8v0.8h-0.8zM66.9 109.7h0.8v0.8h-0.8zM78.9 104.4h0.8v0.8h-0.8zM81.0 101.5h0.8v0.8h-0.8zM85.3 99.0h0.8v0.8h-0.8zM71.2 85.3h0.8v0.8h-0.8zM84.2 111.3h0.8v0.8h-0.8zM80.5 103.4h0.8v0.8h-0.8zM85.7 103.3h0.8v0.8h-0.8zM91.7 86.3h0.8v0.8h-0.8zM86.5 97.6h0.8v0.8h-0.8zM82.2 91.4h0.8v0.8h-0.8zM78.8 89.6h0.8v0.8h-0.8zM76.5 120.5h0.8v0.8h-0.8zM96.9 99.8h0.8v0.8h-0.8zM89.9 90.8h0.8v0.8h-0.8zM64.2 81.8h0.8v0.8h-0.8zM85.5 111.7h0.8v0.8h-0.8zM84.2 90.2h0.8v0.8h-0.8zM82.7 90.2h0.8v0.8h-0.8zM74.3 96.4h0.8v0.8h-0.8zM81.6 91.7h0.8v0.8h-0.8zM78.0 90.5h0.8v0.8h-0.8zM86.2 111.3h0.8v0.8h-0.8zM83.0 118.5h0.8v0.8h-0.8zM72.7 100.7h0.8v0.8h-0.8zM76.0 97.1h0.8v0.8h-0.8zM85.2 103.9h0.8v0.8h-0.8zM92.8 94.6h0.8v0.8h-0.8zM75.4 96.8h0.8v0.8h-0.8zM86.6 93.0h0.8v0.8h-0.8zM91.0 114.1h0.8v0.8h-0.8zM74.1 101.6h0.8v0.8h-0.8zM91.9 82.6h0.8v0.8h-0.8zM86.0 97.1h0.8v0.8h-0.8zM74.1 109.9h0.8v0.8h-0.8zM86.1 94.9h0.8v0.8h-0.8zM87.7 104.8h0.8v0.8h-0.8zM90.1 104.4h0.8v0.8h-0.8zM87.5 88.9h0.8v0.8h-0.8zM81.4 99.9h0.8v0.8h-0.8zM64.3 116.5h0.8v0.8h-0.8zM81.7 89.6h0.8v0.8h-0.8zM71.2 100.4h0.8v0.8h-0.8zM84.7 93.9h0.8v0.8h-0.8zM81.5 91.0h0.8v0.8h-0.8zM79.0 97.8h0.8v0.8h-0.8zM79.8 104.7h0.8v0.8h-0.8zM83.5 100.1h0.8v0.8h-0.8zM87.5 110.3h0.8v0.8h-0.8zM88.9 101.3h0.8v0.8h-0.8zM83.3 91.9h0.8v0.8h-0.8zM82.0 104.8h0.8v0.8h-0.8zM86.2 95.7h0.8v0.8h-0.8zM74.8 85.0h0.8v0.8h-0.8zM86.9 108.1h0.8v0.8h-0.8zM87.2 87.1h0.8v0.8h-0.8zM82.9 100.9h0.8v0.8h-0.8zM77.8 101.6h0.8v0.8h-0.8zM83.0 91.6h0.8v0.8h-0.8zM75.4 105.6h0.8v0.8h-0.8zM87.1 91.4h0.8v0.8h-0.8zM77.1 106.4h0.8v0.8h-0.8zM88.9 96.6h0.8v0.8h-0.8zM96.1 97.2h0.8v0.8h-0.8zM76.8 108.1h0.8v0.8h-0.8zM83.1 101.9h0.8v0.8h-0.8zM84.8 90.2h0.8v0.8h-0.8zM75.8 96.8h0.8v0.8h-0.8zM94.8 90.8h0.8v0.8h-0.8zM94.4 101.5h0.8v0.8h-0.8zM76.4 100.8h0.8v0.8h-0.8zM88.6 91.4h0.8v0.8h-0.8zM68.9 101.2h0.8v0.8h-0.8zM76.4 102.4h0.8v0.8h-0.8zM70.5 96.9h0.8v0.8h-0.8zM78.6 85.7h0.8v0.8h-0.8zM82.7 100.4h0.8v0.8h-0.8zM80.4 88.4h0.8v0.8h-0.8zM86.0 83.8h0.8v0.8h-0.8zM88.4 103.5h0.8v0.8h-0.8zM96.7 107.5h0.8v0.8h-0.8zM87.1 101.5h0.8v0.8h-0.8zM84.7 87.4h0.8v0.8h-0.8zM95.2 104.2h0.8v0.8h-0.8zM82.4 88.9h0.8v0.8h-0.8zM95.3 104.3h0.8v0.8h-0.8zM75.9 104.4h0.8v0.8h-0.8zM98.3 99.6h0.8v0.8h-0.8zM87.4 95.5h0.8v0.8h-0.8zM79.9 108.1h0.8v0.8h-0.8zM106.9 101.4h0.8v0.8h-0.8zM83.6 105.9h0.8v0.8h-0.8zM82.3 105.2h0.8v0.8h-0.8zM90.5 90.5h0.8v0.8h-0.8zM76.7 97.9h0.8v0.8h-0.8zM90.6 101.8h0.8v0.8h-0.8zM93.5 87.5h0.8v0.8h-0.8zM88.1 93.8h0.8v0.8h-0.8zM85.2 101.9h0.8v0.8h-0.8zM77.4 96.6h0.8v0.8h-0.8zM76.0 100.8h0.8v0.8h-0.8zM78.3 94.3h0.8v0.8h-0.8zM86.1 93.4h0.8v0.8h-0.8zM92.9 93.9h0.8v0.8h-0.8zM90.7 101.8h0.8v0.8h-0.8zM77.0 96.6h0.8v0.8h-0.8zM78.4 95.5h0.8v0.8h-0.8zM82.5 114.7h0.8v0.8h-0.8zM81.5 112.5h0.8v0.8h-0.8zM87.8 87.8h0.8v0.8h-0.8zM67.7 103.9h0.8v0.8h-0.8zM70.0 104.4h0.8v0.8h-0.8zM92.0 102.8h0.8v0.8h-0.8zM83.0 96.7h0.8v0.8h-0.8zM86.4 96.5h0.8v0.8h-0.8zM80.6 95.5h0.8v0.8h-0.8zM93.0 94.1h0.8v0.8h-0.8zM87.3 89.1h0.8v0.8h-0.8zM79.3 86.7h0.8v0.8h-0.8zM83.1 104.9h0.8v0.8h-0.8zM86.7 94.8h0.8v0.8h-0.8zM88.9 96.2h0.8v0.8h-0.8zM87.2 101.5h0.8v0.8h-0.8zM88.4 77.7h0.8v0.8h-0.8zM75.0 105.2h0.8v0.8h-0.8zM83.7 118.5h0.8v0.8h-0.8zM82.8 94.1h0.8v0.8h-0.8zM95.3 104.5h0.8v0.8h-0.8zM98.3 104.3h0.8v0.8h-0.8zM83.0 105.2h0.8v0.8h-0.8zM78.8 94.8h0.8v0.8h-0.8zM80.5 96.8h0.8v0.8h-0.8zM90.2 95.2h0.8v0.8h-0.8zM86.8 94.8h0.8v0.8h-0.8zM90.9 75.4h0.8v0.8h-0.8zM83.0 100.4h0.8v0.8h-0.8zM76.7 107.3h0.8v0.8h-0.8zM86.1 110.2h0.8v0.8h-0.8zM91.5 105.0h0.8v0.8h-0.8zM83.4 89.5h0.8v0.8h-0.8zM82.9 94.9h0.8v0.8h-0.8zM86.3 95.1h0.8v0.8h-0.8zM106.7 86.4h0.8v0.8h-0.8zM93.0 95.4h0.8v0.8h-0.8zM82.7 106.9h0.8v0.8h-0.8zM84.5 88.5h0.8v0.8h-0.8zM87.5 97.5h0.8v0.8h-0.8zM69.6 99.8h0.8v0.8h-0.8zM76.9 92.1h0.8v0.8h-0.8zM88.0 101.8h0.8v0.8h-0.8zM82.4 117.7h0.8v0.8h-0.8zM87.5 93.9h0.8v0.8h-0.8zM86.2 98.1h0.8v0.8h-0.8zM68.5 84.4h0.8v0.8h-0.8zM74.4 116.3h0.8v0.8h-0.8zM83.2 96.5h0.8v0.8h-0.8zM80.4 107.3h0.8v0.8h-0.8zM84.7 113.8h0.8v0.8h-0.8zM90.2 113.6h0.8v0.8h-0.8zM83.7 102.2h0.8v0.8h-0.8zM81.4 97.3h0.8v0.8h-0.8zM72.0 93.2h0.8v0.8h-0.8zM77.6 92.9h0.8v0.8h-0.8zM93.3 101.8h0.8v0.8h-0.8zM93.4 107.0h0.8v0.8h-0.8zM91.2 108.1h0.8v0.8h-0.8zM80.1 105.7h0.8v0.8h-0.8zM82.2 94.3h0.8v0.8h-0.8zM93.1 118.3h0.8v0.8h-0.8zM77.4 113.6h0.8v0.8h-0.8zM90.5 92.0h0.8v0.8h-0.8zM86.5 102.3h0.8v0.8h-0.8zM87.2 96.1h0.8v0.8h-0.8zM75.2 98.7h0.8v0.8h-0.8zM90.7 106.2h0.8v0.8h-0.8zM89.3 108.8h0.8v0.8h-0.8zM77.3 98.2h0.8v0.8h-0.8zM87.0 107.8h0.8v0.8h-0.8zM85.6 103.6h0.8v0.8h-0.8zM85.5 117.2h0.8v0.8h-0.8zM68.7 97.8h0.8v0.8h-0.8zM102.4 102.1h0.8v0.8h-0.8zM71.3 99.4h0.8v0.8h-0.8zM74.1 92.5h0.8v0.8h-0.8zM86.1 113.9h0.8v0.8h-0.8zM87.8 105.0h0.8v0.8h-0.8zM91.9 101.2h0.8v0.8h-0.8zM78.3 97.8h0.8v0.8h-0.8zM86.9 96.8h0.8v0.8h-0.8zM79.7 95.6h0.8v0.8h-0.8zM73.7 89.5h0.8v0.8h-0.8zM83.8 95.8h0.8v0.8h-0.8zM84.8 111.2h0.8v0.8h-0.8zM86.7 98.9h0.8v0.8h-0.8zM76.0 89.2h0.8v0.8h-0.8zM87.2 91.6h0.8v0.8h-0.8zM87.6 89.9h0.8v0.8h-0.8zM85.5 98.4h0.8v0.8h-0.8zM91.7 96.0h0.8v0.8h-0.8zM81.8 101.0h0.8v0.8h-0.8zM84.9 113.6h0.8v0.8h-0.8zM82.6 94.2h0.8v0.8h-0.8zM82.2 103.0h0.8v0.8h-0.8zM86.2 105.1h0.8v0.8h-0.8zM74.5 119.8h0.8v0.8h-0.8zM97.8 99.5h0.8v0.8h-0.8zM75.8 99.8h0.8v0.8h-0.8zM87.5 79.9h0.8v0.8h-0.8zM84.6 86.2h0.8v0.8h-0.8zM87.8 111.2h0.8v0.8h-0.8zM92.0 86.4h0.8v0.8h-0.8zM94.5 107.4h0.8v0.8h-0.8zM81.9 103.2h0.8v0.8h-0.8zM95.5 96.8h0.8v0.8h-0.8zM84.4 94.2h0.8v0.8h-0.8zM92.8 80.9h0.8v0.8h-0.8zM94.7 91.2h0.8v0.8h-0.8zM91.2 85.3h0.8v0.8h-0.8zM77.7 93.4h0.8v0.8h-0.8zM90.5 85.3h0.8v0.8h-0.8zM88.9 93.8h0.8v0.8h-0.8zM93.5 96.8h0.8v0.8h-0.8zM88.0 97.7h0.8v0.8h-0.8zM97.4 96.7h0.8v0.8h-0.8zM84.3 116.1h0.8v0.8h-0.8zM85.1 105.0h0.8v0.8h-0.8zM79.2 100.4h0.8v0.8h-0.8zM68.1 98.9h0.8v0.8h-0.8zM79.8 85.7h0.8v0.8h-0.8zM74.3 108.3h0.8v0.8h-0.8zM87.6 86.1h0.8v0.8h-0.8zM97.6 93.8h0.8v0.8h-0.8zM81.8 101.0h0.8v0.8h-0.8zM76.3 84.5h0.8v0.8h-0.8zM79.1 108.9h0.8v0.8h-0.8zM91.4 85.7h0.8v0.8h-0.8zM93.2 99.8h0.8v0.8h-0.8zM88.1 99.7h0.8v0.8h-0.8zM87.5 90.5h0.8v0.8h-0.8zM77.9 92.5h0.8v0.8h-0.8zM81.8 104.2h0.8v0.8h-0.8zM75.7 112.3h0.8v0.8h-0.8zM79.9 93.6h0.8v0.8h-0.8zM89.6 103.1h0.8v0.8h-0.8zM82.1 89.6h0.8v0.8h-0.8zM77.3 84.7h0.8v0.8h-0.8zM92.8 108.9h0.8v0.8h-0.8zM98.0 104.1h0.8v0.8h-0.8zM86.9 105.7h0.8v0.8h-0.8zM91.4 97.2h0.8v0.8h-0.8zM87.0 117.8h0.8v0.8h-0.8zM72.3 86.1h0.8v0.8h-0.8zM77.5 105.1h0.8v0.8h-0.8zM93.1 96.6h0.8v0.8h-0.8zM89.3 98.9h0.8v0.8h-0.8zM86.7 94.5h0.8v0.8h-0.8zM84.3 98.9h0.8v0.8h-0.8zM92.7 118.8h0.8v0.8h-0.8zM71.4 102.8h0.8v0.8h-0.8zM84.5 107.4h0.8v0.8h-0.8zM92.2 106.2h0.8v0.8h-0.8zM90.3 91.1h0.8v0.8h-0.8zM72.2 112.7h0.8v0.8h-0.8zM93.2 91.3h0.8v0.8h-0.8zM93.8 105.3h0.8v0.8h-0.8zM66.8 105.7h0.8v0.8h-0.8zM77.4 108.7h0.8v0.8h-0.8zM79.6 92.3h0.8v0.8h-0.8zM73.3 96.5h0.8v0.8h-0.8zM91.9 93.6h0.8v0.8h-0.8zM71.1 116.8h0.8v0.8h-0.8zM97.8 105.8h0.8v0.8h-0.8zM80.6 88.3h0.8v0.8h-0.8zM72.7 103.1h0.8v0.8h-0.8zM93.9 90.4h0.8v0.8h-0.8zM84.5 96.6h0.8v0.8h-0.8zM82.6 103.2h0.8v0.8h-0.8zM99.6 94.4h0.8v0.8h-0.8zM90.6 108.8h0.8v0.8h-0.8zM82.4 97.6h0.8v0.8h-0.8zM74.8 107.8h0.8v0.8h-0.8zM80.7 93.1h0.8v0.8h-0.8zM85.0 91.6h0.8v0.8h-0.8zM77.0 96.0h0.8v0.8h-0.8zM95.2 97.9h0.8v0.8h-0.8zM88.3 86.5h0.8v0.8h-0.8zM70.4 113.9h0.8v0.8h-0.8zM81.6 85.5h0.8v0.8h-0.8zM83.7 104.2h0.8v0.8h-0.8zM72.0 90.6h0.8v0.8h-0.8zM86.4 91.1h0.8v0.8h-0.8zM90.3 107.7h0.8v0.8h-0.8zM87.7 95.5h0.8v0.8h-0.8zM84.2 93.5h0.8v0.8h-0.8zM83.6 101.7h0.8v0.8h-0.8zM82.3 107.3h0.8v0.8h-0.8zM103.3 95.4h0.8v0.8h-0.8zM87.0 106.3h0.8v0.8h-0.8zM89.2 97.2h0.8v0.8h-0.8zM81.0 107.5h0.8v0.8h-0.8zM89.0 103.7h0.8v0.8h-0.8zM78.7 104.1h0.8v0.8h-0.8zM90.3 97.7h0.8v0.8h-0.8zM89.2 118.1h0.8v0.8h-0.8zM70.9 103.5h0.8v0.8h-0.8zM76.0 86.6h0.8v0.8h-0.8zM82.8 103.6h0.8v0.8h-0.8zM84.9 88.9h0.8v0.8h-0.8zM74.1 93.5h0.8v0.8h-0.8zM84.6 91.8h0.8v0.8h-0.8zM73.6 113.6h0.8v0.8h-0.8zM78.4 97.3h0.8v0.8h-0.8zM80.5 93.7h0.8v0.8h-0.8zM84.8 96.4h0.8v0.8h-0.8zM89.0 89.0h0.8v0.8h-0.8zM73.7 115.3h0.8v0.8h-0.8zM84.0 105.6h0.8v0.8h-0.8zM93.1 104.3h0.8v0.8h-0.8zM84.8 85.5h0.8v0.8h-0.8zM72.9 106.8h0.8v0.8h-0.8zM89.4 104.2h0.8v0.8h-0.8zM72.5 79.7h0.8v0.8h-0.8zM76.8 88.3h0.8v0.8h-0.8zM85.7 90.2h0.8v0.8h-0.8zM96.0 94.3h0.8v0.8h-0.8zM80.4 106.3h0.8v0.8h-0.8zM86.9 91.3h0.8v0.8h-0.8zM90.5 116.1h0.8v0.8h-0.8zM75.6 96.3h0.8v0.8h-0.8zM76.7 81.6h0.8v0.8h-0.8zM89.1 105.4h0.8v0.8h-0.8zM91.6 103.2h0.8v0.8h-0.8zM69.8 97.9h0.8v0.8h-0.8zM79.6 88.4h0.8v0.8h-0.8zM76.4 105.2h0.8v0.8h-0.8zM82.3 116.0h0.8v0.8h-0.8zM87.9 82.5h0.8v0.8h-0.8zM91.0 110.3h0.8v0.8h-0.8zM84.7 88.4h0.8v0.8h-0.8zM97.4 88.3h0.8v0.8h-0.8zM83.9 82.3h0.8v0.8h-0.8zM75.4 83.6h0.8v0.8h-0.8zM92.4 109.8h0.8v0.8h-0.8zM81.5 87.0h0.8v0.8h-0.8zM84.1 102.3h0.8v0.8h-0.8zM73.4 88.2h0.8v0.8h-0.8zM83.8 105.1h0.8v0.8h-0.8zM85.0 103.0h0.8v0.8h-0.8zM75.4 76.6h0.8v0.8h-0.8zM86.8 91.1h0.8v0.8h-0.8zM83.6 95.6h0.8v0.8h-0.8zM88.0 92.4h0.8v0.8h-0.8zM95.1 99.9h0.8v0.8h-0.8zM88.4 104.8h0.8v0.8h-0.8zM92.1 103.0h0.8v0.8h-0.8zM71.7 92.7h0.8v0.8h-0.8zM98.1 104.0h0.8v0.8h-0.8zM88.6 103.3h0.8v0.8h-0.8zM79.8 92.8h0.8v0.8h-0.8zM79.8 108.9h0.8v0.8h-0.8zM87.2 114.8h0.8v0.8h-0.8zM88.2 115.8h0.8v0.8h-0.8zM87.9 88.8h0.8v0.8h-0.8zM97.3 102.7h0.8v0.8h-0.8zM93.2 101.4h0.8v0.8h-0.8zM82.1 100.3h0.8v0.8h-0.8zM76.3 88.0h0.8v0.8h-0.8zM78.0 94.0h0.8v0.8h-0.8zM74.5 97.5h0.8v0.8h-0.8zM86.7 117.0h0.8v0.8h-0.8zM98.0 99.4h0.8v0.8h-0.8zM91.0 97.5h0.8v0.8h-0.8zM87.4 98.9h0.8v0.8h-0.8zM80.5 99.4h0.8v0.8h-0.8zM73.6 102.2h0.8v0.8h-0.8zM82.4 89.3h0.8v0.8h-0.8zM81.8 103.7h0.8v0.8h-0.8zM79.5 102.9h0.8v0.8h-0.8zM88.7 113.0h0.8v0.8h-0.8zM76.5 97.5h0.8v0.8h-0.8zM88.3 112.5h0.8v0.8h-0.8zM86.4 105.8h0.8v0.8h-0.8zM73.7 93.2h0.8v0.8h-0.8zM96.8 97.2h0.8v0.8h-0.8zM100.5 93.5h0.8v0.8h-0.8zM82.4 84.8h0.8v0.8h-0.8zM89.2 101.6h0.8v0.8h-0.8zM99.4 101.4h0.8v0.8h-0.8zM82.6 86.4h0.8v0.8h-0.8zM83.9 107.4h0.8v0.8h-0.8zM90.0 110.2h0.8v0.8h-0.8zM90.9 99.0h0.8v0.8h-0.8zM89.0 100.8h0.8v0.8h-0.8zM74.6 113.6h0.8v0.8h-0.8zM87.3 89.8h0.8v0.8h-0.8zM87.4 101.7h0.8v0.8h-0.8zM91.9 112.3h0.8v0.8h-0.8zM62.0 102.6h0.8v0.8h-0.8zM95.8 91.3h0.8v0.8h-0.8zM70.7 100.7h0.8v0.8h-0.8zM87.0 102.3h0.8v0.8h-0.8zM76.3 94.4h0.8v0.8h-0.8zM85.9 105.7h0.8v0.8h-0.8zM100.8 102.6h0.8v0.8h-0.8zM80.0 77.7h0.8v0.8h-0.8zM92.5 98.3h0.8v0.8h-0.8zM71.5 90.1h0.8v0.8h-0.8zM75.6 86.1h0.8v0.8h-0.8zM72.5 95.6h0.8v0.8h-0.8zM73.5 101.5h0.8v0.8h-0.8zM71.5 95.5h0.8v0.8h-0.8zM76.2 87.3h0.8v0.8h-0.8zM70.6 95.3h0.8v0.8h-0.8zM76.7 91.0h0.8v0.8h-0.8zM76.0 96.9h0.8v0.8h-0.8zM64.6 87.7h0.8v0.8h-0.8zM64.9 95.7h0.8v0.8h-0.8zM73.0 98.6h0.8v0.8h-0.8zM76.1 92.3h0.8v0.8h-0.8zM77.3 99.1h0.8v0.8h-0.8zM74.3 97.4h0.8v0.8h-0.8zM65.6 96.8h0.8v0.8h-0.8zM66.9 89.1h0.8v0.8h-0.8zM70.3 95.7h0.8v0.8h-0.8zM71.7 93.4h0.8v0.8h-0.8zM67.0 95.9h0.8v0.8h-0.8zM68.3 88.0h0.8v0.8h-0.8zM72.5 102.2h0.8v0.8h-0.8zM70.0 89.7h0.8v0.8h-0.8zM78.9 103.5h0.8v0.8h-0.8zM70.5 94.0h0.8v0.8h-0.8zM73.1 109.7h0.8v0.8h-0.8zM72.7 99.9h0.8v0.8h-0.8zM74.2 85.9h0.8v0.8h-0.8zM66.5 88.9h0.8v0.8h-0.8zM74.2 95.5h0.8v0.8h-0.8zM80.9 93.7h0.8v0.8h-0.8zM73.5 95.4h0.8v0.8h-0.8zM72.7 106.5h0.8v0.8h-0.8zM73.4 102.3h0.8v0.8h-0.8zM78.5 92.0h0.8v0.8h-0.8zM75.4 93.1h0.8v0.8h-0.8zM72.5 95.8h0.8v0.8h-0.8zM72.1 92.7h0.8v0.8h-0.8zM79.8 93.7h0.8v0.8h-0.8zM75.5 103.4h0.8v0.8h-0.8zM75.1 100.1h0.8v0.8h-0.8zM78.9 100.4h0.8v0.8h-0.8zM80.6 87.9h0.8v0.8h-0.8zM81.8 95.1h0.8v0.8h-0.8zM63.3 91.8h0.8v0.8h-0.8zM65.0 94.9h0.8v0.8h-0.8zM64.6 90.0h0.8v0.8h-0.8zM73.5 95.8h0.8v0.8h-0.8zM68.0 93.8h0.8v0.8h-0.8zM71.5 95.4h0.8v0.8h-0.8zM72.0 93.9h0.8v0.8h-0.8zM76.4 87.0h0.8v0.8h-0.8zM69.5 95.7h0.8v0.8h-0.8zM70.0 92.2h0.8v0.8h-0.8zM69.8 96.0h0.8v0.8h-0.8zM78.2 94.1h0.8v0.8h-0.8zM70.7 96.8h0.8v0.8h-0.8zM70.8 85.3h0.8v0.8h-0.8zM73.3 93.1h0.8v0.8h-0.8zM69.1 98.1h0.8v0.8h-0.8zM72.2 92.2h0.8v0.8h-0.8zM61.1 86.4h0.8v0.8h-0.8zM72.1 94.4h0.8v0.8h-0.8zM74.2 96.1h0.8v0.8h-0.8zM69.6 88.7h0.8v0.8h-0.8zM66.5 94.3h0.8v0.8h-0.8zM66.3 98.8h0.8v0.8h-0.8zM65.4 86.0h0.8v0.8h-0.8zM71.0 86.1h0.8v0.8h-0.8zM80.1 90.0h0.8v0.8h-0.8zM71.7 93.8h0.8v0.8h-0.8zM67.9 86.2h0.8v0.8h-0.8zM62.7 99.3h0.8v0.8h-0.8zM77.1 105.8h0.8v0.8h-0.8zM64.7 97.8h0.8v0.8h-0.8zM71.9 99.2h0.8v0.8h-0.8zM69.4 98.6h0.8v0.8h-0.8zM76.5 98.0h0.8v0.8h-0.8zM79.2 94.1h0.8v0.8h-0.8zM79.7 91.5h0.8v0.8h-0.8zM80.3 81.3h0.8v0.8h-0.8zM72.1 91.0h0.8v0.8h-0.8zM72.0 100.2h0.8v0.8h-0.8zM75.6 95.5h0.8v0.8h-0.8zM80.5 87.6h0.8v0.8h-0.8zM67.9 102.5h0.8v0.8h-0.8zM73.6 84.6h0.8v0.8h-0.8zM73.7 89.1h0.8v0.8h-0.8zM79.4 100.7h0.8v0.8h-0.8zM69.3 101.5h0.8v0.8h-0.8zM67.8 99.6h0.8v0.8h-0.8zM74.9 94.4h0.8v0.8h-0.8zM64.9 93.6h0.8v0.8h-0.8zM60.6 92.2h0.8v0.8h-0.8zM62.7 101.1h0.8v0.8h-0.8zM67.2 82.8h0.8v0.8h-0.8zM74.9 96.8h0.8v0.8h-0.8zM69.5 105.6h0.8v0.8h-0.8zM75.9 95.3h0.8v0.8h-0.8zM68.8 80.2h0.8v0.8h-0.8zM74.4 99.8h0.8v0.8h-0.8zM69.0 87.9h0.8v0.8h-0.8zM71.8 86.6h0.8v0.8h-0.8zM72.0 98.9h0.8v0.8h-0.8zM79.5 96.3h0.8v0.8h-0.8zM73.0 98.7h0.8v0.8h-0.8zM79.0 93.4h0.8v0.8h-0.8zM65.9 91.0h0.8v0.8h-0.8zM65.7 90.6h0.8v0.8h-0.8zM71.4 96.7h0.8v0.8h-0.8zM72.8 95.3h0.8v0.8h-0.8zM70.2 97.1h0.8v0.8h-0.8zM76.4 98.8h0.8v0.8h-0.8zM79.5 93.5h0.8v0.8h-0.8zM70.7 103.5h0.8v0.8h-0.8zM73.0 97.1h0.8v0.8h-0.8zM70.3 99.8h0.8v0.8h-0.8zM70.0 90.0h0.8v0.8h-0.8zM71.7 92.8h0.8v0.8h-0.8zM76.2 93.1h0.8v0.8h-0.8zM72.6 93.9h0.8v0.8h-0.8zM73.7 91.8h0.8v0.8h-0.8zM77.5 87.9h0.8v0.8h-0.8zM70.1 91.5h0.8v0.8h-0.8zM75.2 95.2h0.8v0.8h-0.8zM74.4 93.3h0.8v0.8h-0.8zM68.4 89.4h0.8v0.8h-0.8zM70.3 92.3h0.8v0.8h-0.8zM73.4 96.8h0.8v0.8h-0.8zM76.9 94.5h0.8v0.8h-0.8zM68.3 89.7h0.8v0.8h-0.8zM72.3 96.8h0.8v0.8h-0.8zM81.7 95.9h0.8v0.8h-0.8zM80.8 104.4h0.8v0.8h-0.8zM66.8 101.1h0.8v0.8h-0.8zM77.7 101.7h0.8v0.8h-0.8zM72.0 99.8h0.8v0.8h-0.8zM69.6 94.6h0.8v0.8h-0.8zM72.1 103.9h0.8v0.8h-0.8zM70.9 99.8h0.8v0.8h-0.8zM72.3 91.5h0.8v0.8h-0.8zM73.2 98.3h0.8v0.8h-0.8zM68.4 98.2h0.8v0.8h-0.8zM68.4 90.6h0.8v0.8h-0.8zM73.1 93.8h0.8v0.8h-0.8zM67.1 86.9h0.8v0.8h-0.8zM72.1 96.2h0.8v0.8h-0.8zM69.7 95.9h0.8v0.8h-0.8zM64.4 97.0h0.8v0.8h-0.8zM74.1 96.4h0.8v0.8h-0.8zM68.9 95.4h0.8v0.8h-0.8zM72.7 100.3h0.8v0.8h-0.8zM73.4 96.3h0.8v0.8h-0.8zM68.4 99.3h0.8v0.8h-0.8zM77.9 92.5h0.8v0.8h-0.8zM75.2 96.5h0.8v0.8h-0.8zM71.8 88.6h0.8v0.8h-0.8zM80.8 85.7h0.8v0.8h-0.8zM73.5 93.1h0.8v0.8h-0.8zM77.7 92.9h0.8v0.8h-0.8zM80.2 85.7h0.8v0.8h-0.8zM82.7 76.3h0.8v0.8h-0.8zM84.1 85.2h0.8v0.8h-0.8zM85.9 77.7h0.8v0.8h-0.8zM79.7 76.3h0.8v0.8h-0.8zM75.0 80.4h0.8v0.8h-0.8zM82.5 94.0h0.8v0.8h-0.8zM78.1 82.8h0.8v0.8h-0.8zM86.8 81.7h0.8v0.8h-0.8zM80.4 81.4h0.8v0.8h-0.8zM75.9 69.3h0.8v0.8h-0.8zM86.7 84.2h0.8v0.8h-0.8zM79.6 68.4h0.8v0.8h-0.8zM80.7 91.0h0.8v0.8h-0.8zM73.1 69.1h0.8v0.8h-0.8zM86.6 95.7h0.8v0.8h-0.8zM89.3 78.6h0.8v0.8h-0.8zM83.6 74.5h0.8v0.8h-0.8zM83.1 77.9h0.8v0.8h-0.8zM81.2 92.8h0.8v0.8h-0.8zM82.0 78.6h0.8v0.8h-0.8zM80.3 82.6h0.8v0.8h-0.8zM76.9 80.7h0.8v0.8h-0.8zM83.6 95.7h0.8v0.8h-0.8zM67.7 64.2h0.8v0.8h-0.8zM72.6 85.1h0.8v0.8h-0.8zM94.6 87.5h0.8v0.8h-0.8zM80.7 90.7h0.8v0.8h-0.8zM65.4 72.6h0.8v0.8h-0.8zM61.4 74.1h0.8v0.8h-0.8zM77.0 74.4h0.8v0.8h-0.8zM82.0 75.5h0.8v0.8h-0.8zM86.6 82.6h0.8v0.8h-0.8zM82.3 104.1h0.8v0.8h-0.8zM77.3 87.4h0.8v0.8h-0.8zM75.1 89.4h0.8v0.8h-0.8zM85.7 83.6h0.8v0.8h-0.8zM85.9 97.0h0.8v0.8h-0.8zM88.2 83.3h0.8v0.8h-0.8zM79.7 90.0h0.8v0.8h-0.8zM71.2 71.0h0.8v0.8h-0.8zM82.9 86.3h0.8v0.8h-0.8zM91.1 100.4h0.8v0.8h-0.8zM81.9 84.8h0.8v0.8h-0.8zM72.2 75.2h0.8v0.8h-0.8zM81.6 78.6h0.8v0.8h-0.8zM80.4 85.7h0.8v0.8h-0.8zM74.3 72.6h0.8v0.8h-0.8zM69.4 86.2h0.8v0.8h-0.8zM73.7 62.0h0.8v0.8h-0.8zM84.6 79.9h0.8v0.8h-0.8zM85.7 78.9h0.8v0.8h-0.8zM92.6 91.5h0.8v0.8h-0.8zM80.9 81.4h0.8v0.8h-0.8zM78.8 86.9h0.8v0.8h-0.8zM91.9 80.9h0.8v0.8h-0.8zM73.5 82.9h0.8v0.8h-0.8zM86.3 68.9h0.8v0.8h-0.8zM75.9 69.3h0.8v0.8h-0.8zM83.3 85.9h0.8v0.8h-0.8zM75.6 68.0h0.8v0.8h-0.8zM84.0 62.9h0.8v0.8h-0.8zM83.8 80.1h0.8v0.8h-0.8zM91.4 93.5h0.8v0.8h-0.8zM76.6 76.2h0.8v0.8h-0.8zM78.4 72.7h0.8v0.8h-0.8zM80.5 88.9h0.8v0.8h-0.8zM71.1 74.4h0.8v0.8h-0.8zM88.8 90.2h0.8v0.8h-0.8zM75.2 70.8h0.8v0.8h-0.8zM74.9 63.4h0.8v0.8h-0.8zM86.8 83.3h0.8v0.8h-0.8zM75.9 65.4h0.8v0.8h-0.8zM77.7 74.5h0.8v0.8h-0.8zM90.2 79.9h0.8v0.8h-0.8zM80.7 90.0h0.8v0.8h-0.8zM83.9 79.9h0.8v0.8h-0.8zM67.1 87.6h0.8v0.8h-0.8zM83.5 77.5h0.8v0.8h-0.8zM79.5 71.1h0.8v0.8h-0.8zM74.7 64.5h0.8v0.8h-0.8zM83.0 85.9h0.8v0.8h-0.8zM81.0 87.5h0.8v0.8h-0.8zM83.2 82.4h0.8v0.8h-0.8zM74.8 83.3h0.8v0.8h-0.8zM87.0 88.5h0.8v0.8h-0.8zM87.4 78.6h0.8v0.8h-0.8zM74.2 89.0h0.8v0.8h-0.8zM76.6 80.8h0.8v0.8h-0.8zM78.9 79.8h0.8v0.8h-0.8zM78.4 74.5h0.8v0.8h-0.8zM69.5 93.1h0.8v0.8h-0.8zM81.2 63.1h0.8v0.8h-0.8zM74.7 67.7h0.8v0.8h-0.8zM75.6 55.3h0.8v0.8h-0.8zM83.4 96.1h0.8v0.8h-0.8zM78.6 86.1h0.8v0.8h-0.8zM83.5 70.2h0.8v0.8h-0.8zM87.2 67.6h0.8v0.8h-0.8zM76.6 75.4h0.8v0.8h-0.8zM87.4 84.0h0.8v0.8h-0.8zM79.3 72.5h0.8v0.8h-0.8zM80.5 80.6h0.8v0.8h-0.8zM84.3 94.3h0.8v0.8h-0.8zM84.3 81.9h0.8v0.8h-0.8zM79.1 94.1h0.8v0.8h-0.8zM81.2 80.3h0.8v0.8h-0.8zM90.6 98.3h0.8v0.8h-0.8zM83.3 80.3h0.8v0.8h-0.8zM76.3 88.1h0.8v0.8h-0.8zM77.3 87.6h0.8v0.8h-0.8zM75.4 79.1h0.8v0.8h-0.8zM82.4 82.2h0.8v0.8h-0.8zM81.4 84.0h0.8v0.8h-0.8zM73.4 67.4h0.8v0.8h-0.8zM79.1 95.9h0.8v0.8h-0.8zM79.3 71.4h0.8v0.8h-0.8zM76.1 78.8h0.8v0.8h-0.8zM86.9 77.7h0.8v0.8h-0.8zM83.3 83.0h0.8v0.8h-0.8zM77.9 70.7h0.8v0.8h-0.8zM79.1 73.1h0.8v0.8h-0.8zM83.2 65.4h0.8v0.8h-0.8zM86.6 89.4h0.8v0.8h-0.8zM83.4 94.8h0.8v0.8h-0.8zM83.5 66.0h0.8v0.8h-0.8zM80.3 84.2h0.8v0.8h-0.8zM76.0 68.3h0.8v0.8h-0.8zM82.5 85.6h0.8v0.8h-0.8zM77.5 76.8h0.8v0.8h-0.8zM77.0 73.7h0.8v0.8h-0.8zM79.7 89.5h0.8v0.8h-0.8zM70.6 73.2h0.8v0.8h-0.8zM89.5 86.6h0.8v0.8h-0.8zM80.9 87.9h0.8v0.8h-0.8zM74.1 66.8h0.8v0.8h-0.8zM70.3 63.1h0.8v0.8h-0.8zM81.5 88.2h0.8v0.8h-0.8zM77.6 72.9h0.8v0.8h-0.8zM82.4 86.4h0.8v0.8h-0.8zM81.5 63.5h0.8v0.8h-0.8zM76.8 56.0h0.8v0.8h-0.8zM81.4 72.9h0.8v0.8h-0.8zM76.2 92.0h0.8v0.8h-0.8zM87.7 87.4h0.8v0.8h-0.8zM81.6 82.2h0.8v0.8h-0.8zM76.6 78.2h0.8v0.8h-0.8zM91.2 76.6h0.8v0.8h-0.8zM76.1 79.9h0.8v0.8h-0.8zM85.2 89.5h0.8v0.8h-0.8zM74.4 76.6h0.8v0.8h-0.8zM78.5 68.3h0.8v0.8h-0.8zM80.5 75.9h0.8v0.8h-0.8zM85.4 86.0h0.8v0.8h-0.8zM75.4 78.9h0.8v0.8h-0.8zM77.9 73.5h0.8v0.8h-0.8zM77.2 88.4h0.8v0.8h-0.8zM77.6 63.7h0.8v0.8h-0.8zM75.5 85.4h0.8v0.8h-0.8zM92.6 75.5h0.8v0.8h-0.8zM77.9 76.2h0.8v0.8h-0.8zM71.8 80.3h0.8v0.8h-0.8zM79.7 82.4h0.8v0.8h-0.8zM93.1 82.8h0.8v0.8h-0.8zM84.6 89.3h0.8v0.8h-0.8zM76.3 73.2h0.8v0.8h-0.8zM89.1 90.0h0.8v0.8h-0.8zM80.8 70.6h0.8v0.8h-0.8zM85.2 86.8h0.8v0.8h-0.8zM92.8 98.3h0.8v0.8h-0.8zM84.7 84.3h0.8v0.8h-0.8zM80.4 75.2h0.8v0.8h-0.8zM81.8 82.9h0.8v0.8h-0.8zM83.8 91.2h0.8v0.8h-0.8zM81.8 75.9h0.8v0.8h-0.8zM84.7 95.8h0.8v0.8h-0.8zM75.1 81.8h0.8v0.8h-0.8zM83.2 86.1h0.8v0.8h-0.8zM82.9 80.4h0.8v0.8h-0.8zM79.4 94.9h0.8v0.8h-0.8zM90.1 71.5h0.8v0.8h-0.8zM65.2 78.1h0.8v0.8h-0.8zM76.1 73.8h0.8v0.8h-0.8zM70.7 79.5h0.8v0.8h-0.8zM79.7 75.1h0.8v0.8h-0.8zM85.2 103.8h0.8v0.8h-0.8zM88.6 93.9h0.8v0.8h-0.8zM77.6 84.9h0.8v0.8h-0.8zM79.8 90.3h0.8v0.8h-0.8zM83.4 81.0h0.8v0.8h-0.8zM83.2 74.9h0.8v0.8h-0.8zM84.6 95.3h0.8v0.8h-0.8zM77.9 84.1h0.8v0.8h-0.8zM70.3 84.5h0.8v0.8h-0.8zM85.1 72.9h0.8v0.8h-0.8zM90.2 85.0h0.8v0.8h-0.8zM69.9 63.8h0.8v0.8h-0.8zM85.1 79.6h0.8v0.8h-0.8zM86.4 68.7h0.8v0.8h-0.8zM79.4 88.5h0.8v0.8h-0.8zM76.1 84.5h0.8v0.8h-0.8zM77.9 82.3h0.8v0.8h-0.8zM81.9 100.7h0.8v0.8h-0.8zM72.8 84.1h0.8v0.8h-0.8zM87.7 73.0h0.8v0.8h-0.8zM80.5 100.8h0.8v0.8h-0.8zM86.1 55.9h0.8v0.8h-0.8zM78.6 64.2h0.8v0.8h-0.8zM81.8 74.2h0.8v0.8h-0.8zM76.7 71.2h0.8v0.8h-0.8zM81.7 76.5h0.8v0.8h-0.8zM74.7 75.9h0.8v0.8h-0.8zM82.4 73.3h0.8v0.8h-0.8zM86.5 67.7h0.8v0.8h-0.8zM82.4 77.5h0.8v0.8h-0.8zM89.2 77.9h0.8v0.8h-0.8zM76.1 66.5h0.8v0.8h-0.8zM91.6 90.1h0.8v0.8h-0.8zM73.7 74.5h0.8v0.8h-0.8zM74.4 91.4h0.8v0.8h-0.8zM82.4 62.8h0.8v0.8h-0.8zM81.2 88.7h0.8v0.8h-0.8zM80.0 84.2h0.8v0.8h-0.8zM79.4 81.6h0.8v0.8h-0.8zM81.2 74.2h0.8v0.8h-0.8zM82.0 82.3h0.8v0.8h-0.8zM79.8 73.8h0.8v0.8h-0.8zM74.1 79.9h0.8v0.8h-0.8zM84.8 60.3h0.8v0.8h-0.8zM76.9 90.9h0.8v0.8h-0.8zM85.3 75.7h0.8v0.8h-0.8zM87.9 74.3h0.8v0.8h-0.8zM75.4 95.5h0.8v0.8h-0.8zM77.5 77.1h0.8v0.8h-0.8zM70.4 67.2h0.8v0.8h-0.8zM73.1 76.1h0.8v0.8h-0.8zM69.3 85.3h0.8v0.8h-0.8zM77.9 73.8h0.8v0.8h-0.8zM76.3 85.2h0.8v0.8h-0.8zM88.9 79.9h0.8v0.8h-0.8zM89.4 98.1h0.8v0.8h-0.8zM87.8 85.8h0.8v0.8h-0.8zM71.3 82.6h0.8v0.8h-0.8zM77.6 80.8h0.8v0.8h-0.8zM69.0 73.1h0.8v0.8h-0.8zM81.4 72.2h0.8v0.8h-0.8zM81.7 95.7h0.8v0.8h-0.8zM81.3 74.4h0.8v0.8h-0.8zM93.9 66.2h0.8v0.8h-0.8zM74.6 81.5h0.8v0.8h-0.8zM76.5 58.1h0.8v0.8h-0.8zM81.5 88.0h0.8v0.8h-0.8zM75.4 91.3h0.8v0.8h-0.8zM82.9 91.8h0.8v0.8h-0.8zM71.1 76.4h0.8v0.8h-0.8zM89.3 101.8h0.8v0.8h-0.8zM87.7 83.0h0.8v0.8h-0.8zM81.1 74.8h0.8v0.8h-0.8zM86.4 76.3h0.8v0.8h-0.8zM80.7 61.8h0.8v0.8h-0.8zM71.2 92.5h0.8v0.8h-0.8zM80.3 82.1h0.8v0.8h-0.8zM67.2 74.6h0.8v0.8h-0.8zM92.1 71.4h0.8v0.8h-0.8zM66.1 73.0h0.8v0.8h-0.8zM76.9 76.9h0.8v0.8h-0.8zM72.6 64.9h0.8v0.8h-0.8zM72.8 82.9h0.8v0.8h-0.8zM79.7 87.3h0.8v0.8h-0.8zM73.7 82.8h0.8v0.8h-0.8zM77.4 79.8h0.8v0.8h-0.8zM85.5 82.5h0.8v0.8h-0.8zM77.9 64.2h0.8v0.8h-0.8zM80.4 87.2h0.8v0.8h-0.8zM76.3 77.9h0.8v0.8h-0.8zM69.6 63.9h0.8v0.8h-0.8zM82.4 92.6h0.8v0.8h-0.8zM78.2 64.2h0.8v0.8h-0.8zM77.8 65.0h0.8v0.8h-0.8zM78.4 96.7h0.8v0.8h-0.8zM81.8 79.3h0.8v0.8h-0.8zM86.1 79.0h0.8v0.8h-0.8zM82.0 82.6h0.8v0.8h-0.8zM82.6 67.8h0.8v0.8h-0.8zM84.2 89.6h0.8v0.8h-0.8zM66.6 50.2h0.8v0.8h-0.8zM74.7 91.4h0.8v0.8h-0.8zM80.1 86.2h0.8v0.8h-0.8zM83.3 89.3h0.8v0.8h-0.8zM76.2 73.2h0.8v0.8h-0.8zM82.2 86.4h0.8v0.8h-0.8zM83.4 84.4h0.8v0.8h-0.8zM77.1 88.9h0.8v0.8h-0.8zM82.8 90.7h0.8v0.8h-0.8zM65.0 83.2h0.8v0.8h-0.8zM65.6 76.2h0.8v0.8h-0.8zM76.1 79.5h0.8v0.8h-0.8zM77.2 76.1h0.8v0.8h-0.8zM81.1 83.6h0.8v0.8h-0.8zM75.3 55.2h0.8v0.8h-0.8zM75.4 83.1h0.8v0.8h-0.8zM75.0 81.9h0.8v0.8h-0.8zM77.8 70.6h0.8v0.8h-0.8zM86.9 97.8h0.8v0.8h-0.8zM79.4 79.3h0.8v0.8h-0.8zM85.7 70.2h0.8v0.8h-0.8zM74.8 88.2h0.8v0.8h-0.8zM85.3 77.6h0.8v0.8h-0.8zM75.4 81.4h0.8v0.8h-0.8zM71.7 72.2h0.8v0.8h-0.8zM78.6 57.1h0.8v0.8h-0.8zM83.5 88.3h0.8v0.8h-0.8zM86.3 69.4h0.8v0.8h-0.8zM72.4 69.6h0.8v0.8h-0.8zM72.3 95.6h0.8v0.8h-0.8zM74.2 74.9h0.8v0.8h-0.8zM81.2 84.6h0.8v0.8h-0.8zM88.6 73.5h0.8v0.8h-0.8zM85.2 83.4h0.8v0.8h-0.8zM73.0 78.6h0.8v0.8h-0.8zM71.7 91.5h0.8v0.8h-0.8zM75.7 87.5h0.8v0.8h-0.8zM87.7 77.4h0.8v0.8h-0.8zM74.7 79.1h0.8v0.8h-0.8zM73.8 85.7h0.8v0.8h-0.8zM81.0 73.4h0.8v0.8h-0.8zM75.9 85.0h0.8v0.8h-0.8zM71.4 92.0h0.8v0.8h-0.8zM75.3 76.4h0.8v0.8h-0.8zM74.5 92.7h0.8v0.8h-0.8zM84.9 93.8h0.8v0.8h-0.8zM83.9 82.4h0.8v0.8h-0.8zM90.1 90.1h0.8v0.8h-0.8zM82.6 86.3h0.8v0.8h-0.8zM84.4 84.3h0.8v0.8h-0.8zM79.0 65.0h0.8v0.8h-0.8zM92.3 73.0h0.8v0.8h-0.8zM67.1 68.4h0.8v0.8h-0.8zM91.6 95.7h0.8v0.8h-0.8zM76.4 81.0h0.8v0.8h-0.8zM79.9 61.7h0.8v0.8h-0.8zM78.0 81.9h0.8v0.8h-0.8zM87.0 71.7h0.8v0.8h-0.8zM66.5 60.2h0.8v0.8h-0.8zM82.0 81.5h0.8v0.8h-0.8zM80.9 81.7h0.8v0.8h-0.8zM77.8 66.6h0.8v0.8h-0.8zM82.7 84.6h0.8v0.8h-0.8zM83.5 92.8h0.8v0.8h-0.8zM72.6 55.6h0.8v0.8h-0.8zM69.3 95.4h0.8v0.8h-0.8zM74.5 81.5h0.8v0.8h-0.8zM79.9 86.7h0.8v0.8h-0.8zM99.2 82.9h0.8v0.8h-0.8zM79.0 74.1h0.8v0.8h-0.8zM81.5 85.4h0.8v0.8h-0.8zM74.2 89.8h0.8v0.8h-0.8zM86.9 86.8h0.8v0.8h-0.8zM79.3 77.6h0.8v0.8h-0.8zM70.1 82.1h0.8v0.8h-0.8zM74.2 73.1h0.8v0.8h-0.8zM86.0 73.9h0.8v0.8h-0.8zM76.9 86.7h0.8v0.8h-0.8zM91.1 78.1h0.8v0.8h-0.8zM86.6 76.6h0.8v0.8h-0.8zM82.3 85.4h0.8v0.8h-0.8zM73.2 86.7h0.8v0.8h-0.8zM90.8 84.8h0.8v0.8h-0.8zM81.6 69.9h0.8v0.8h-0.8zM90.7 84.8h0.8v0.8h-0.8zM72.3 84.0h0.8v0.8h-0.8zM71.2 70.2h0.8v0.8h-0.8zM67.2 87.6h0.8v0.8h-0.8zM93.3 79.4h0.8v0.8h-0.8zM76.1 73.1h0.8v0.8h-0.8zM76.6 83.8h0.8v0.8h-0.8zM88.8 74.2h0.8v0.8h-0.8zM82.6 64.5h0.8v0.8h-0.8zM89.1 82.8h0.8v0.8h-0.8zM75.8 92.4h0.8v0.8h-0.8zM79.4 92.3h0.8v0.8h-0.8zM86.4 97.8h0.8v0.8h-0.8zM75.2 78.6h0.8v0.8h-0.8zM82.2 79.1h0.8v0.8h-0.8zM89.1 77.0h0.8v0.8h-0.8zM86.0 94.9h0.8v0.8h-0.8zM68.3 66.4h0.8v0.8h-0.8zM74.6 72.8h0.8v0.8h-0.8zM82.3 79.3h0.8v0.8h-0.8zM80.5 76.0h0.8v0.8h-0.8zM79.5 84.3h0.8v0.8h-0.8zM84.5 74.6h0.8v0.8h-0.8zM79.3 72.7h0.8v0.8h-0.8zM78.9 66.4h0.8v0.8h-0.8zM85.7 88.4h0.8v0.8h-0.8zM79.3 73.4h0.8v0.8h-0.8zM77.3 72.8h0.8v0.8h-0.8zM70.7 91.4h0.8v0.8h-0.8zM99.7 76.5h0.8v0.8h-0.8zM73.0 82.5h0.8v0.8h-0.8zM98.6 90.2h0.85v0.85h-0.85zM92.0 98.2h0.85v0.85h-0.85zM91.8 100.3h0.85v0.85h-0.85zM95.7 95.3h0.85v0.85h-0.85zM97.0 93.2h0.85v0.85h-0.85zM96.6 94.0h0.85v0.85h-0.85zM100.2 92.7h0.85v0.85h-0.85zM96.9 93.3h0.85v0.85h-0.85zM95.4 93.7h0.85v0.85h-0.85zM97.0 98.6h0.85v0.85h-0.85zM99.9 93.6h0.85v0.85h-0.85zM101.3 94.6h0.85v0.85h-0.85zM97.5 93.9h0.85v0.85h-0.85zM94.1 96.5h0.85v0.85h-0.85zM96.2 91.3h0.85v0.85h-0.85zM93.7 100.5h0.85v0.85h-0.85zM97.6 95.3h0.85v0.85h-0.85zM97.5 93.2h0.85v0.85h-0.85zM98.2 96.3h0.85v0.85h-0.85zM96.2 96.1h0.85v0.85h-0.85zM99.7 92.1h0.85v0.85h-0.85zM97.4 92.6h0.85v0.85h-0.85zM98.6 92.9h0.85v0.85h-0.85zM100.0 91.3h0.85v0.85h-0.85zM101.4 91.6h0.85v0.85h-0.85zM94.8 93.6h0.85v0.85h-0.85zM98.7 91.7h0.85v0.85h-0.85zM101.7 95.0h0.85v0.85h-0.85zM98.3 90.6h0.85v0.85h-0.85zM96.9 92.9h0.85v0.85h-0.85zM92.3 97.8h0.85v0.85h-0.85zM102.7 90.4h0.85v0.85h-0.85zM99.1 96.3h0.85v0.85h-0.85zM94.5 95.0h0.85v0.85h-0.85zM97.7 95.2h0.85v0.85h-0.85zM94.0 96.5h0.85v0.85h-0.85zM96.7 96.8h0.85v0.85h-0.85zM92.8 95.3h0.85v0.85h-0.85zM95.7 94.4h0.85v0.85h-0.85zM98.9 92.1h0.85v0.85h-0.85zM104.1 89.3h0.85v0.85h-0.85zM99.2 95.7h0.85v0.85h-0.85zM99.5 92.8h0.85v0.85h-0.85zM94.8 95.0h0.85v0.85h-0.85zM98.7 93.9h0.85v0.85h-0.85zM98.5 95.0h0.85v0.85h-0.85zM94.7 93.5h0.85v0.85h-0.85zM100.7 91.5h0.85v0.85h-0.85zM92.9 100.7h0.85v0.85h-0.85zM94.8 93.5h0.85v0.85h-0.85zM99.5 90.7h0.85v0.85h-0.85zM94.7 98.0h0.85v0.85h-0.85zM94.9 101.2h0.85v0.85h-0.85zM97.3 100.4h0.85v0.85h-0.85zM97.3 94.5h0.85v0.85h-0.85zM95.3 94.8h0.85v0.85h-0.85zM95.7 95.1h0.85v0.85h-0.85zM99.0 90.6h0.85v0.85h-0.85zM94.6 91.0h0.85v0.85h-0.85zM100.9 92.4h0.85v0.85h-0.85zM97.0 94.4h0.85v0.85h-0.85zM99.6 93.9h0.85v0.85h-0.85zM99.2 93.0h0.85v0.85h-0.85zM96.7 94.5h0.85v0.85h-0.85zM92.2 99.4h0.85v0.85h-0.85zM92.9 94.3h0.85v0.85h-0.85zM98.7 93.8h0.85v0.85h-0.85zM99.1 97.3h0.85v0.85h-0.85zM101.8 95.2h0.85v0.85h-0.85zM96.4 99.4h0.85v0.85h-0.85zM94.7 95.4h0.85v0.85h-0.85zM99.6 92.7h0.85v0.85h-0.85zM96.7 93.9h0.85v0.85h-0.85zM100.5 87.2h0.85v0.85h-0.85zM100.3 95.2h0.85v0.85h-0.85zM96.8 95.9h0.85v0.85h-0.85zM94.5 98.3h0.85v0.85h-0.85zM105.0 88.5h0.85v0.85h-0.85zM100.6 92.6h0.85v0.85h-0.85zM96.1 93.8h0.85v0.85h-0.85zM96.5 91.9h0.85v0.85h-0.85zM93.5 100.0h0.85v0.85h-0.85zM97.0 95.8h0.85v0.85h-0.85zM97.8 95.2h0.85v0.85h-0.85zM93.0 94.3h0.85v0.85h-0.85zM98.6 95.9h0.85v0.85h-0.85zM94.0 94.7h0.85v0.85h-0.85zM94.2 97.4h0.85v0.85h-0.85zM97.9 94.1h0.85v0.85h-0.85zM95.3 96.1h0.85v0.85h-0.85zM97.1 92.8h0.85v0.85h-0.85zM97.9 92.6h0.85v0.85h-0.85zM99.5 94.7h0.85v0.85h-0.85zM95.2 96.7h0.85v0.85h-0.85zM97.2 92.8h0.85v0.85h-0.85zM94.6 91.9h0.85v0.85h-0.85zM94.1 96.8h0.85v0.85h-0.85zM100.1 91.5h0.85v0.85h-0.85zM97.4 95.1h0.85v0.85h-0.85zM99.0 94.5h0.85v0.85h-0.85zM100.2 94.6h0.85v0.85h-0.85zM95.0 96.4h0.85v0.85h-0.85zM90.9 97.1h0.85v0.85h-0.85zM97.1 95.8h0.85v0.85h-0.85zM96.2 96.8h0.85v0.85h-0.85zM100.4 90.9h0.85v0.85h-0.85zM95.6 95.8h0.85v0.85h-0.85zM98.3 94.2h0.85v0.85h-0.85zM99.2 90.8h0.85v0.85h-0.85zM99.0 96.1h0.85v0.85h-0.85zM99.9 94.0h0.85v0.85h-0.85zM96.4 95.7h0.85v0.85h-0.85zM96.8 91.0h0.85v0.85h-0.85zM95.4 95.2h0.85v0.85h-0.85zM95.7 93.1h0.85v0.85h-0.85zM96.4 94.0h0.85v0.85h-0.85zM97.2 94.3h0.85v0.85h-0.85zM97.4 96.5h0.85v0.85h-0.85zM97.4 95.2h0.85v0.85h-0.85zM93.8 89.5h0.85v0.85h-0.85zM96.0 96.5h0.85v0.85h-0.85zM96.1 93.5h0.85v0.85h-0.85zM93.8 98.1h0.85v0.85h-0.85zM95.6 95.7h0.85v0.85h-0.85zM99.9 94.2h0.85v0.85h-0.85zM102.8 91.3h0.85v0.85h-0.85zM99.5 94.8h0.85v0.85h-0.85zM95.3 95.5h0.85v0.85h-0.85zM95.5 92.9h0.85v0.85h-0.85zM97.8 92.4h0.85v0.85h-0.85zM101.4 90.6h0.85v0.85h-0.85zM95.6 95.4h0.85v0.85h-0.85zM95.7 95.3h0.85v0.85h-0.85zM95.4 92.1h0.85v0.85h-0.85zM90.7 94.7h0.85v0.85h-0.85zM101.0 93.5h0.85v0.85h-0.85zM97.4 93.3h0.85v0.85h-0.85zM96.6 95.4h0.85v0.85h-0.85zM93.4 94.5h0.85v0.85h-0.85zM94.7 98.5h0.85v0.85h-0.85zM94.3 98.5h0.85v0.85h-0.85zM95.8 101.2h0.85v0.85h-0.85zM96.8 94.7h0.85v0.85h-0.85zM100.5 94.7h0.85v0.85h-0.85zM99.4 90.9h0.85v0.85h-0.85zM100.0 96.8h0.85v0.85h-0.85zM96.7 93.5h0.85v0.85h-0.85zM94.2 98.2h0.85v0.85h-0.85zM97.8 94.1h0.85v0.85h-0.85zM93.8 99.8h0.85v0.85h-0.85zM99.3 93.3h0.85v0.85h-0.85zM100.8 90.4h0.85v0.85h-0.85zM99.3 91.1h0.85v0.85h-0.85zM100.7 92.0h0.85v0.85h-0.85zM100.2 92.0h0.85v0.85h-0.85zM98.0 96.6h0.85v0.85h-0.85zM94.7 95.9h0.85v0.85h-0.85zM94.8 97.5h0.85v0.85h-0.85zM95.4 94.4h0.85v0.85h-0.85zM96.5 97.4h0.85v0.85h-0.85zM69.4 84.4h0.7v0.7h-0.7zM80.1 71.3h0.7v0.7h-0.7zM73.2 81.0h0.7v0.7h-0.7zM87.9 46.3h0.7v0.7h-0.7zM88.5 55.4h0.7v0.7h-0.7z" fill="#0a0a0a" stroke="none" stroke-width="1" opacity="0.88"/>
<path d="M99.3 91.4h0.85v0.85h-0.85zM92.2 94.6h0.85v0.85h-0.85zM99.3 92.3h0.85v0.85h-0.85zM97.3 94.7h0.85v0.85h-0.85zM100.2 91.3h0.85v0.85h-0.85zM98.1 96.8h0.85v0.85h-0.85zM98.9 91.7h0.85v0.85h-0.85zM95.6 93.8h0.85v0.85h-0.85zM100.2 88.1h0.85v0.85h-0.85zM99.0 91.8h0.85v0.85h-0.85zM99.0 93.0h0.85v0.85h-0.85zM93.8 94.8h0.85v0.85h-0.85zM92.8 96.0h0.85v0.85h-0.85zM95.7 96.3h0.85v0.85h-0.85zM93.2 96.6h0.85v0.85h-0.85zM95.2 93.9h0.85v0.85h-0.85zM93.5 99.3h0.85v0.85h-0.85zM97.0 94.0h0.85v0.85h-0.85zM102.9 87.1h0.85v0.85h-0.85zM97.3 91.9h0.85v0.85h-0.85zM96.9 93.1h0.85v0.85h-0.85zM98.7 94.2h0.85v0.85h-0.85zM97.7 95.6h0.85v0.85h-0.85zM96.7 91.6h0.85v0.85h-0.85zM93.5 97.5h0.85v0.85h-0.85zM96.7 94.9h0.85v0.85h-0.85zM99.2 90.8h0.85v0.85h-0.85zM100.5 93.0h0.85v0.85h-0.85zM101.3 92.5h0.85v0.85h-0.85zM94.8 96.2h0.85v0.85h-0.85zM97.8 90.7h0.85v0.85h-0.85zM99.5 91.8h0.85v0.85h-0.85zM98.5 96.0h0.85v0.85h-0.85zM100.6 90.9h0.85v0.85h-0.85zM99.2 94.4h0.85v0.85h-0.85zM97.9 95.3h0.85v0.85h-0.85zM98.9 91.9h0.85v0.85h-0.85zM100.8 91.1h0.85v0.85h-0.85zM96.4 93.5h0.85v0.85h-0.85zM93.3 98.0h0.85v0.85h-0.85zM94.7 91.8h0.85v0.85h-0.85zM98.3 89.0h0.85v0.85h-0.85zM96.8 95.3h0.85v0.85h-0.85zM98.3 93.7h0.85v0.85h-0.85zM96.8 92.1h0.85v0.85h-0.85zM98.2 94.5h0.85v0.85h-0.85zM97.4 95.4h0.85v0.85h-0.85zM91.8 95.2h0.85v0.85h-0.85zM91.3 96.4h0.85v0.85h-0.85zM97.9 90.9h0.85v0.85h-0.85zM96.2 94.1h0.85v0.85h-0.85zM95.6 94.2h0.85v0.85h-0.85zM99.8 92.2h0.85v0.85h-0.85zM100.0 92.8h0.85v0.85h-0.85zM96.3 94.4h0.85v0.85h-0.85zM99.7 91.2h0.85v0.85h-0.85zM96.0 96.7h0.85v0.85h-0.85zM99.5 93.5h0.85v0.85h-0.85zM96.3 93.9h0.85v0.85h-0.85zM98.4 93.7h0.85v0.85h-0.85zM99.6 90.2h0.85v0.85h-0.85zM99.6 90.4h0.85v0.85h-0.85zM95.3 94.0h0.85v0.85h-0.85zM96.3 96.2h0.85v0.85h-0.85zM100.3 95.7h0.85v0.85h-0.85zM95.9 94.8h0.85v0.85h-0.85zM100.6 88.5h0.85v0.85h-0.85zM99.4 95.9h0.85v0.85h-0.85zM99.8 90.8h0.85v0.85h-0.85zM97.3 93.9h0.85v0.85h-0.85zM95.9 92.5h0.85v0.85h-0.85zM100.2 90.3h0.85v0.85h-0.85zM100.0 90.0h0.85v0.85h-0.85zM95.7 90.4h0.85v0.85h-0.85zM91.6 100.5h0.85v0.85h-0.85zM96.0 93.7h0.85v0.85h-0.85zM99.5 89.6h0.85v0.85h-0.85zM97.5 95.6h0.85v0.85h-0.85zM99.4 95.1h0.85v0.85h-0.85zM97.2 90.9h0.85v0.85h-0.85zM97.5 94.5h0.85v0.85h-0.85zM95.1 94.4h0.85v0.85h-0.85zM97.4 97.6h0.85v0.85h-0.85zM96.0 93.0h0.85v0.85h-0.85zM97.1 92.6h0.85v0.85h-0.85zM97.6 92.5h0.85v0.85h-0.85zM94.6 93.9h0.85v0.85h-0.85zM93.0 99.3h0.85v0.85h-0.85zM100.7 91.3h0.85v0.85h-0.85zM98.0 94.5h0.85v0.85h-0.85zM98.3 91.4h0.85v0.85h-0.85zM95.5 96.2h0.85v0.85h-0.85zM96.9 94.7h0.85v0.85h-0.85zM96.6 95.7h0.85v0.85h-0.85zM97.2 94.2h0.85v0.85h-0.85zM98.9 88.9h0.85v0.85h-0.85zM99.6 94.7h0.85v0.85h-0.85zM96.4 91.2h0.85v0.85h-0.85zM98.4 91.3h0.85v0.85h-0.85zM95.2 97.8h0.85v0.85h-0.85zM97.2 91.7h0.85v0.85h-0.85zM94.5 96.0h0.85v0.85h-0.85zM98.3 93.8h0.85v0.85h-0.85zM94.8 93.8h0.85v0.85h-0.85zM97.5 92.8h0.85v0.85h-0.85zM97.7 92.8h0.85v0.85h-0.85zM97.4 93.9h0.85v0.85h-0.85zM99.0 95.0h0.85v0.85h-0.85zM97.4 89.8h0.85v0.85h-0.85zM100.9 88.7h0.85v0.85h-0.85zM98.1 95.4h0.85v0.85h-0.85zM99.0 95.1h0.85v0.85h-0.85zM97.5 97.6h0.85v0.85h-0.85zM98.8 89.7h0.85v0.85h-0.85zM99.2 91.9h0.85v0.85h-0.85zM100.0 90.7h0.85v0.85h-0.85zM99.5 89.9h0.85v0.85h-0.85zM96.9 93.7h0.85v0.85h-0.85zM100.2 90.4h0.85v0.85h-0.85zM98.3 95.1h0.85v0.85h-0.85zM93.3 98.9h0.85v0.85h-0.85zM97.3 94.0h0.85v0.85h-0.85zM102.1 90.7h0.85v0.85h-0.85zM99.2 94.8h0.85v0.85h-0.85zM100.9 93.7h0.85v0.85h-0.85zM96.1 95.0h0.85v0.85h-0.85zM94.2 93.2h0.85v0.85h-0.85zM96.8 93.3h0.85v0.85h-0.85zM96.2 92.9h0.85v0.85h-0.85zM101.5 88.7h0.85v0.85h-0.85z" fill="#111" stroke="none" stroke-width="1"/>
<rect x="40.3" y="29.7" width="93.3" height="166.5" fill="none" stroke="#111" stroke-width="1.5"/>
<line x1="37.5" y1="196.2" x2="40.3" y2="196.2" stroke="#111" stroke-width="0.9"/>
<line x1="38.7" y1="183.71" x2="40.3" y2="183.71" stroke="#111" stroke-width="0.9"/>
<line x1="38.7" y1="176.4" x2="40.3" y2="176.4" stroke="#111" stroke-width="0.9"/>
<line x1="38.7" y1="171.21" x2="40.3" y2="171.21" stroke="#111" stroke-width="0.9"/>
<line x1="38.7" y1="167.19" x2="40.3" y2="167.19" stroke="#111" stroke-width="0.9"/>
<line x1="38.7" y1="163.91" x2="40.3" y2="163.91" stroke="#111" stroke-width="0.9"/>
<line x1="38.7" y1="161.13" x2="40.3" y2="161.13" stroke="#111" stroke-width="0.9"/>
<line x1="38.7" y1="158.72" x2="40.3" y2="158.72" stroke="#111" stroke-width="0.9"/>
<line x1="38.7" y1="156.6" x2="40.3" y2="156.6" stroke="#111" stroke-width="0.9"/>
<line x1="37.5" y1="154.7" x2="40.3" y2="154.7" stroke="#111" stroke-width="0.9"/>
<line x1="38.7" y1="142.21" x2="40.3" y2="142.21" stroke="#111" stroke-width="0.9"/>
<line x1="38.7" y1="134.9" x2="40.3" y2="134.9" stroke="#111" stroke-width="0.9"/>
<line x1="38.7" y1="129.71" x2="40.3" y2="129.71" stroke="#111" stroke-width="0.9"/>
<line x1="38.7" y1="125.69" x2="40.3" y2="125.69" stroke="#111" stroke-width="0.9"/>
<line x1="38.7" y1="122.41" x2="40.3" y2="122.41" stroke="#111" stroke-width="0.9"/>
<line x1="38.7" y1="119.63" x2="40.3" y2="119.63" stroke="#111" stroke-width="0.9"/>
<line x1="38.7" y1="117.22" x2="40.3" y2="117.22" stroke="#111" stroke-width="0.9"/>
<line x1="38.7" y1="115.1" x2="40.3" y2="115.1" stroke="#111" stroke-width="0.9"/>
<line x1="37.5" y1="113.2" x2="40.3" y2="113.2" stroke="#111" stroke-width="0.9"/>
<line x1="38.7" y1="100.71" x2="40.3" y2="100.71" stroke="#111" stroke-width="0.9"/>
<line x1="38.7" y1="93.4" x2="40.3" y2="93.4" stroke="#111" stroke-width="0.9"/>
<line x1="38.7" y1="88.21" x2="40.3" y2="88.21" stroke="#111" stroke-width="0.9"/>
<line x1="38.7" y1="84.19" x2="40.3" y2="84.19" stroke="#111" stroke-width="0.9"/>
<line x1="38.7" y1="80.91" x2="40.3" y2="80.91" stroke="#111" stroke-width="0.9"/>
<line x1="38.7" y1="78.13" x2="40.3" y2="78.13" stroke="#111" stroke-width="0.9"/>
<line x1="38.7" y1="75.72" x2="40.3" y2="75.72" stroke="#111" stroke-width="0.9"/>
<line x1="38.7" y1="73.6" x2="40.3" y2="73.6" stroke="#111" stroke-width="0.9"/>
<line x1="37.5" y1="71.7" x2="40.3" y2="71.7" stroke="#111" stroke-width="0.9"/>
<line x1="38.7" y1="59.21" x2="40.3" y2="59.21" stroke="#111" stroke-width="0.9"/>
<line x1="38.7" y1="51.9" x2="40.3" y2="51.9" stroke="#111" stroke-width="0.9"/>
<line x1="38.7" y1="46.71" x2="40.3" y2="46.71" stroke="#111" stroke-width="0.9"/>
<line x1="38.7" y1="42.69" x2="40.3" y2="42.69" stroke="#111" stroke-width="0.9"/>
<line x1="38.7" y1="39.41" x2="40.3" y2="39.41" stroke="#111" stroke-width="0.9"/>
<line x1="38.7" y1="36.63" x2="40.3" y2="36.63" stroke="#111" stroke-width="0.9"/>
<line x1="38.7" y1="34.22" x2="40.3" y2="34.22" stroke="#111" stroke-width="0.9"/>
<line x1="38.7" y1="32.1" x2="40.3" y2="32.1" stroke="#111" stroke-width="0.9"/>
<line x1="37.5" y1="30.2" x2="40.3" y2="30.2" stroke="#111" stroke-width="0.9"/>
<line x1="41.25" y1="196.2" x2="41.25" y2="197.8" stroke="#111" stroke-width="0.9"/>
<line x1="44.04" y1="196.2" x2="44.04" y2="197.8" stroke="#111" stroke-width="0.9"/>
<line x1="46.46" y1="196.2" x2="46.46" y2="197.8" stroke="#111" stroke-width="0.9"/>
<line x1="48.59" y1="196.2" x2="48.59" y2="197.8" stroke="#111" stroke-width="0.9"/>
<line x1="50.5" y1="196.2" x2="50.5" y2="199" stroke="#111" stroke-width="0.9"/>
<line x1="63.05" y1="196.2" x2="63.05" y2="197.8" stroke="#111" stroke-width="0.9"/>
<line x1="70.4" y1="196.2" x2="70.4" y2="197.8" stroke="#111" stroke-width="0.9"/>
<line x1="75.61" y1="196.2" x2="75.61" y2="197.8" stroke="#111" stroke-width="0.9"/>
<line x1="79.65" y1="196.2" x2="79.65" y2="197.8" stroke="#111" stroke-width="0.9"/>
<line x1="82.95" y1="196.2" x2="82.95" y2="197.8" stroke="#111" stroke-width="0.9"/>
<line x1="85.74" y1="196.2" x2="85.74" y2="197.8" stroke="#111" stroke-width="0.9"/>
<line x1="88.16" y1="196.2" x2="88.16" y2="197.8" stroke="#111" stroke-width="0.9"/>
<line x1="90.29" y1="196.2" x2="90.29" y2="197.8" stroke="#111" stroke-width="0.9"/>
<line x1="92.2" y1="196.2" x2="92.2" y2="199" stroke="#111" stroke-width="0.9"/>
<line x1="104.75" y1="196.2" x2="104.75" y2="197.8" stroke="#111" stroke-width="0.9"/>
<line x1="112.1" y1="196.2" x2="112.1" y2="197.8" stroke="#111" stroke-width="0.9"/>
<line x1="117.31" y1="196.2" x2="117.31" y2="197.8" stroke="#111" stroke-width="0.9"/>
<line x1="121.35" y1="196.2" x2="121.35" y2="197.8" stroke="#111" stroke-width="0.9"/>
<line x1="124.65" y1="196.2" x2="124.65" y2="197.8" stroke="#111" stroke-width="0.9"/>
<line x1="127.44" y1="196.2" x2="127.44" y2="197.8" stroke="#111" stroke-width="0.9"/>
<line x1="129.86" y1="196.2" x2="129.86" y2="197.8" stroke="#111" stroke-width="0.9"/>
<line x1="131.99" y1="196.2" x2="131.99" y2="197.8" stroke="#111" stroke-width="0.9"/>
<line x1="133.9" y1="196.2" x2="133.9" y2="199" stroke="#111" stroke-width="0.9"/>
<text x="23.32" y="199.8" font-size="8.2" fill="#2a2a2a" stroke="#2a2a2a" stroke-width="0.2" textLength="8.39" lengthAdjust="spacingAndGlyphs">10</text>
<text x="32.01" y="196.85" font-size="5.41" fill="#2a2a2a" stroke="#2a2a2a" stroke-width="0.2">0</text>
<text x="23.32" y="158.3" font-size="8.2" fill="#2a2a2a" stroke="#2a2a2a" stroke-width="0.2" textLength="8.39" lengthAdjust="spacingAndGlyphs">10</text>
<text x="32.01" y="155.35" font-size="5.41" fill="#2a2a2a" stroke="#2a2a2a" stroke-width="0.2">1</text>
<text x="23.32" y="116.8" font-size="8.2" fill="#2a2a2a" stroke="#2a2a2a" stroke-width="0.2" textLength="8.39" lengthAdjust="spacingAndGlyphs">10</text>
<text x="32.01" y="113.85" font-size="5.41" fill="#2a2a2a" stroke="#2a2a2a" stroke-width="0.2">2</text>
<text x="23.32" y="75.3" font-size="8.2" fill="#2a2a2a" stroke="#2a2a2a" stroke-width="0.2" textLength="8.39" lengthAdjust="spacingAndGlyphs">10</text>
<text x="32.01" y="72.35" font-size="5.41" fill="#2a2a2a" stroke="#2a2a2a" stroke-width="0.2">3</text>
<text x="23.32" y="33.8" font-size="8.2" fill="#2a2a2a" stroke="#2a2a2a" stroke-width="0.2" textLength="8.39" lengthAdjust="spacingAndGlyphs">10</text>
<text x="32.01" y="30.85" font-size="5.41" fill="#2a2a2a" stroke="#2a2a2a" stroke-width="0.2">4</text>
<text x="44.15" y="213" font-size="8" fill="#2a2a2a" stroke="#2a2a2a" stroke-width="0.2" textLength="8.18" lengthAdjust="spacingAndGlyphs">10</text>
<text x="52.64" y="210.12" font-size="5.28" fill="#2a2a2a" stroke="#2a2a2a" stroke-width="0.2">2</text>
<text x="85.85" y="213" font-size="8" fill="#2a2a2a" stroke="#2a2a2a" stroke-width="0.2" textLength="8.18" lengthAdjust="spacingAndGlyphs">10</text>
<text x="94.34" y="210.12" font-size="5.28" fill="#2a2a2a" stroke="#2a2a2a" stroke-width="0.2">3</text>
<text x="127.55" y="213" font-size="8" fill="#2a2a2a" stroke="#2a2a2a" stroke-width="0.2" textLength="8.18" lengthAdjust="spacingAndGlyphs">10</text>
<text x="136.04" y="210.12" font-size="5.28" fill="#2a2a2a" stroke="#2a2a2a" stroke-width="0.2">4</text>
<text x="16" y="112.9" font-size="10" fill="#2a2a2a" stroke="#2a2a2a" stroke-width="0.2" text-anchor="middle" textLength="16.4" lengthAdjust="spacingAndGlyphs" transform="rotate(-90 16 112.9)">SSC</text>
<text x="87.4" y="227.3" font-size="10" fill="#2a2a2a" stroke="#2a2a2a" stroke-width="0.2" text-anchor="middle" textLength="14.8" lengthAdjust="spacingAndGlyphs">FSC</text>
<text x="48" y="166.2" font-size="7.6" fill="#222" stroke="#222" stroke-width="0.2" textLength="15.6" lengthAdjust="spacingAndGlyphs">RBC</text>
<text x="48" y="176.2" font-size="7.6" fill="#952b4e" stroke="#952b4e" stroke-width="0.2" textLength="31" lengthAdjust="spacingAndGlyphs">RBC-HIS</text>
<polyline points="158.2,187.5 160,190.5 162.9,192.6 166,192.4 169.5,191.5 172.5,190.2 176.5,188.2 180.4,185.7 184,183.2 187.1,180 190,176 192.5,170.5 194.5,163 196.5,152 198.2,142 199.3,138.8 200.6,140.5 202,142.3 203.3,141.5 204.8,135 206.2,122 207.6,110 208.8,103.5 209.8,102.2 210.9,104.5 212.2,108.4 213.4,106 214.6,102.3 216.2,99.8 217.8,97.5 219.3,94.5 220.4,86 221.5,73 222.6,62 223.6,57.6 224.6,58.5 225.6,63 226.5,70 227.3,80 228.3,88 229.6,96.5 231,108 232.4,122 233.8,136 235.4,150 237.2,163 239,174 241,183.5 243,189.5 245.5,194 248,196" fill="none" stroke="#8e2446" stroke-width="1.25" stroke-linejoin="round"/>
<polyline points="159.3,36 159.6,60 160.4,80.5 161.5,74 163,62 164.6,53 165.9,50.8 167.3,53.5 169,62 170.6,72 172.1,80.5 173.2,80.2 174.2,78.5 175.1,81.5 176,90 176.9,104 178,122 179.5,139 181.5,153 183.5,163 186,172 188.5,181 191,187 194,191.2 198,193.6 203,195 210,195.8 216,196" fill="none" stroke="#111" stroke-width="1.25" stroke-linejoin="round"/>
<rect x="157.8" y="29.9" width="102.4" height="166.3" fill="none" stroke="#111" stroke-width="1.5"/>
<line x1="155.3" y1="196.2" x2="157.8" y2="196.2" stroke="#111" stroke-width="0.9"/>
<line x1="157.8" y1="196.2" x2="157.8" y2="199" stroke="#111" stroke-width="0.9"/>
<line x1="170.32" y1="196.2" x2="170.32" y2="197.8" stroke="#111" stroke-width="0.9"/>
<line x1="177.65" y1="196.2" x2="177.65" y2="197.8" stroke="#111" stroke-width="0.9"/>
<line x1="182.85" y1="196.2" x2="182.85" y2="197.8" stroke="#111" stroke-width="0.9"/>
<line x1="186.88" y1="196.2" x2="186.88" y2="197.8" stroke="#111" stroke-width="0.9"/>
<line x1="190.17" y1="196.2" x2="190.17" y2="197.8" stroke="#111" stroke-width="0.9"/>
<line x1="192.96" y1="196.2" x2="192.96" y2="197.8" stroke="#111" stroke-width="0.9"/>
<line x1="195.37" y1="196.2" x2="195.37" y2="197.8" stroke="#111" stroke-width="0.9"/>
<line x1="197.5" y1="196.2" x2="197.5" y2="197.8" stroke="#111" stroke-width="0.9"/>
<line x1="199.4" y1="196.2" x2="199.4" y2="199" stroke="#111" stroke-width="0.9"/>
<line x1="211.92" y1="196.2" x2="211.92" y2="197.8" stroke="#111" stroke-width="0.9"/>
<line x1="219.25" y1="196.2" x2="219.25" y2="197.8" stroke="#111" stroke-width="0.9"/>
<line x1="224.45" y1="196.2" x2="224.45" y2="197.8" stroke="#111" stroke-width="0.9"/>
<line x1="228.48" y1="196.2" x2="228.48" y2="197.8" stroke="#111" stroke-width="0.9"/>
<line x1="231.77" y1="196.2" x2="231.77" y2="197.8" stroke="#111" stroke-width="0.9"/>
<line x1="234.56" y1="196.2" x2="234.56" y2="197.8" stroke="#111" stroke-width="0.9"/>
<line x1="236.97" y1="196.2" x2="236.97" y2="197.8" stroke="#111" stroke-width="0.9"/>
<line x1="239.1" y1="196.2" x2="239.1" y2="197.8" stroke="#111" stroke-width="0.9"/>
<line x1="241" y1="196.2" x2="241" y2="199" stroke="#111" stroke-width="0.9"/>
<line x1="253.52" y1="196.2" x2="253.52" y2="197.8" stroke="#111" stroke-width="0.9"/>
<text x="149.6" y="199" font-size="8.2" fill="#2a2a2a" stroke="#2a2a2a" stroke-width="0.2" text-anchor="middle">0</text>
<text x="151.95" y="213" font-size="8" fill="#2a2a2a" stroke="#2a2a2a" stroke-width="0.2" textLength="8.18" lengthAdjust="spacingAndGlyphs">10</text>
<text x="160.44" y="210.12" font-size="5.28" fill="#2a2a2a" stroke="#2a2a2a" stroke-width="0.2">0</text>
<text x="193.55" y="213" font-size="8" fill="#2a2a2a" stroke="#2a2a2a" stroke-width="0.2" textLength="8.18" lengthAdjust="spacingAndGlyphs">10</text>
<text x="202.04" y="210.12" font-size="5.28" fill="#2a2a2a" stroke="#2a2a2a" stroke-width="0.2">1</text>
<text x="235.15" y="213" font-size="8" fill="#2a2a2a" stroke="#2a2a2a" stroke-width="0.2" textLength="8.18" lengthAdjust="spacingAndGlyphs">10</text>
<text x="243.64" y="210.12" font-size="5.28" fill="#2a2a2a" stroke="#2a2a2a" stroke-width="0.2">2</text>
<text x="203.8" y="227.6" font-size="10" fill="#2a2a2a" stroke="#2a2a2a" stroke-width="0.2" text-anchor="middle" textLength="14.5" lengthAdjust="spacingAndGlyphs">FL1</text>
<text x="147.8" y="113" font-size="10" fill="#2a2a2a" stroke="#2a2a2a" stroke-width="0.2" text-anchor="middle" textLength="27.8" lengthAdjust="spacingAndGlyphs" transform="rotate(-90 147.8 113)">Counts</text>
<text x="175.4" y="48" font-size="7.6" fill="#222" stroke="#222" stroke-width="0.2" textLength="16" lengthAdjust="spacingAndGlyphs">RBC</text>
<text x="175.4" y="57.3" font-size="7.6" fill="#952b4e" stroke="#952b4e" stroke-width="0.2" textLength="31.6" lengthAdjust="spacingAndGlyphs">RBC-HIS</text>
<defs><radialGradient id="cg" cx="0.5" cy="0.5" r="0.5"><stop offset="0" stop-color="#888888"/><stop offset="0.6" stop-color="#939393"/><stop offset="0.88" stop-color="#a6a6a6"/><stop offset="1" stop-color="#959595"/></radialGradient><radialGradient id="cgb" cx="0.5" cy="0.5" r="0.5"><stop offset="0" stop-color="#a2a2a2"/><stop offset="0.6" stop-color="#b0b0b0"/><stop offset="0.88" stop-color="#c6c6c6"/><stop offset="1" stop-color="#acacac"/></radialGradient><linearGradient id="sbg" x1="0" y1="0" x2="0.3" y2="1"><stop offset="0" stop-color="#a0a0a0"/><stop offset="1" stop-color="#8e8e8e"/></linearGradient><filter id="sblur" x="-5%" y="-5%" width="110%" height="110%"><feGaussianBlur stdDeviation="0.35"/></filter><clipPath id="semL"><rect x="288.5" y="39.7" width="110.3" height="70.3"/></clipPath><clipPath id="semR"><rect x="399.6" y="39.7" width="112.8" height="70.3"/></clipPath></defs>
<g clip-path="url(#semL)"><g filter="url(#sblur)">
<rect x="288.5" y="39.7" width="110.3" height="70.3" fill="url(#sbg)"/>
<ellipse cx="349.2" cy="55.3" rx="3" ry="5" fill="#262626" opacity="0.5"/>
<ellipse cx="347" cy="68" rx="3" ry="5" fill="#262626" opacity="0.5"/>
<ellipse cx="341.7" cy="72.6" rx="3" ry="4" fill="#262626" opacity="0.5"/>
<ellipse cx="364.8" cy="61" rx="2.5" ry="3" fill="#262626" opacity="0.5"/>
<ellipse cx="342.3" cy="83" rx="3" ry="3" fill="#262626" opacity="0.5"/>
<ellipse cx="367.7" cy="88.8" rx="3" ry="3" fill="#262626" opacity="0.5"/>
<ellipse cx="381.5" cy="100.4" rx="2.5" ry="3" fill="#262626" opacity="0.5"/>
<ellipse cx="323" cy="69.2" rx="2.5" ry="2" fill="#262626" opacity="0.5"/>
<ellipse cx="341.4" cy="73.8" rx="2.5" ry="3" fill="#262626" opacity="0.5"/>
<ellipse cx="313.7" cy="94.6" rx="2.5" ry="2.5" fill="#262626" opacity="0.5"/>
<ellipse cx="314.8" cy="108" rx="3" ry="2" fill="#262626" opacity="0.5"/>
<ellipse cx="292.3" cy="44.9" rx="4.62" ry="5.06" fill="#939393" stroke="#7a7a7a" stroke-width="0.8"/>
<ellipse cx="310.8" cy="41.5" rx="6.38" ry="2.86" fill="#939393" stroke="#7a7a7a" stroke-width="0.8"/>
<ellipse cx="323.9" cy="50.7" rx="6.38" ry="5.06" fill="#1e1e1e" opacity="0.7"/>
<ellipse cx="322.5" cy="49.1" rx="6.38" ry="5.06" fill="#bcbcbc"/>
<ellipse cx="322.9" cy="49.5" rx="6.38" ry="5.06" fill="url(#cg)" stroke="#5e5e5e" stroke-width="0.45"/>
<ellipse cx="334.3" cy="47.9" rx="5.72" ry="5.72" fill="#1e1e1e" opacity="0.7"/>
<ellipse cx="332.9" cy="46.3" rx="5.72" ry="5.72" fill="#bcbcbc"/>
<ellipse cx="333.3" cy="46.7" rx="5.72" ry="5.72" fill="url(#cg)" stroke="#5e5e5e" stroke-width="0.45"/>
<ellipse cx="343.5" cy="49.6" rx="6.05" ry="2.42" fill="#1e1e1e" opacity="0.7" transform="rotate(50 342.5 48.4)"/>
<ellipse cx="342.1" cy="48" rx="6.05" ry="2.42" fill="#d4d4d4" transform="rotate(50 342.5 48.4)"/>
<ellipse cx="342.5" cy="48.4" rx="6.05" ry="2.42" fill="url(#cgb)" stroke="#5e5e5e" stroke-width="0.45" transform="rotate(50 342.5 48.4)"/>
<ellipse cx="352.5" cy="46.1" rx="4.62" ry="4.62" fill="#1e1e1e" opacity="0.7"/>
<ellipse cx="351.1" cy="44.5" rx="4.62" ry="4.62" fill="#bcbcbc"/>
<ellipse cx="351.5" cy="44.9" rx="4.62" ry="4.62" fill="url(#cg)" stroke="#5e5e5e" stroke-width="0.45"/>
<ellipse cx="358.3" cy="47.3" rx="4.18" ry="5.28" fill="#1e1e1e" opacity="0.7"/>
<ellipse cx="356.9" cy="45.7" rx="4.18" ry="5.28" fill="#bcbcbc"/>
<ellipse cx="357.3" cy="46.1" rx="4.18" ry="5.28" fill="url(#cg)" stroke="#5e5e5e" stroke-width="0.45"/>
<ellipse cx="359.5" cy="55.4" rx="6.93" ry="4.4" fill="#1e1e1e" opacity="0.7"/>
<ellipse cx="358.1" cy="53.8" rx="6.93" ry="4.4" fill="#bcbcbc"/>
<ellipse cx="358.5" cy="54.2" rx="6.93" ry="4.4" fill="url(#cg)" stroke="#5e5e5e" stroke-width="0.45"/>
<ellipse cx="375.8" cy="45.5" rx="6.93" ry="5.72" fill="#939393" stroke="#7a7a7a" stroke-width="0.8"/>
<ellipse cx="371.6" cy="60" rx="6.16" ry="5.5" fill="#1e1e1e" opacity="0.7"/>
<ellipse cx="370.2" cy="58.4" rx="6.16" ry="5.5" fill="#bcbcbc"/>
<ellipse cx="370.6" cy="58.8" rx="6.16" ry="5.5" fill="url(#cg)" stroke="#5e5e5e" stroke-width="0.45"/>
<ellipse cx="373.3" cy="69.8" rx="5.72" ry="3.74" fill="#1e1e1e" opacity="0.7"/>
<ellipse cx="371.9" cy="68.2" rx="5.72" ry="3.74" fill="#bcbcbc"/>
<ellipse cx="372.3" cy="68.6" rx="5.72" ry="3.74" fill="url(#cg)" stroke="#5e5e5e" stroke-width="0.45"/>
<ellipse cx="388.5" cy="62.8" rx="6.93" ry="6.38" fill="#939393" stroke="#7a7a7a" stroke-width="0.8"/>
<ellipse cx="344.5" cy="61.1" rx="4.4" ry="6.16" fill="#1e1e1e" opacity="0.7"/>
<ellipse cx="343.1" cy="59.5" rx="4.4" ry="6.16" fill="#bcbcbc"/>
<ellipse cx="343.5" cy="59.9" rx="4.4" ry="6.16" fill="url(#cg)" stroke="#5e5e5e" stroke-width="0.45"/>
<ellipse cx="357.2" cy="64" rx="6.93" ry="5.06" fill="#1e1e1e" opacity="0.7"/>
<ellipse cx="355.8" cy="62.4" rx="6.93" ry="5.06" fill="#bcbcbc"/>
<ellipse cx="356.2" cy="62.8" rx="6.93" ry="5.06" fill="url(#cg)" stroke="#5e5e5e" stroke-width="0.45"/>
<ellipse cx="354.8" cy="72.7" rx="7.26" ry="5.72" fill="#1e1e1e" opacity="0.7"/>
<ellipse cx="353.4" cy="71.1" rx="7.26" ry="5.72" fill="#bcbcbc"/>
<ellipse cx="353.8" cy="71.5" rx="7.26" ry="5.72" fill="url(#cg)" stroke="#5e5e5e" stroke-width="0.45"/>
<ellipse cx="395.2" cy="76.1" rx="6.38" ry="5.06" fill="#1e1e1e" opacity="0.7"/>
<ellipse cx="393.8" cy="74.5" rx="6.38" ry="5.06" fill="#bcbcbc"/>
<ellipse cx="394.2" cy="74.9" rx="6.38" ry="5.06" fill="url(#cg)" stroke="#5e5e5e" stroke-width="0.45"/>
<ellipse cx="316.4" cy="64" rx="6.38" ry="5.06" fill="#1e1e1e" opacity="0.7"/>
<ellipse cx="315" cy="62.4" rx="6.38" ry="5.06" fill="#bcbcbc"/>
<ellipse cx="315.4" cy="62.8" rx="6.38" ry="5.06" fill="url(#cg)" stroke="#5e5e5e" stroke-width="0.45"/>
<ellipse cx="326.8" cy="61.7" rx="2.09" ry="5.28" fill="#1e1e1e" opacity="0.7"/>
<ellipse cx="325.4" cy="60.1" rx="2.09" ry="5.28" fill="#d4d4d4"/>
<ellipse cx="325.8" cy="60.5" rx="2.09" ry="5.28" fill="url(#cgb)" stroke="#5e5e5e" stroke-width="0.45"/>
<ellipse cx="335.5" cy="57.7" rx="5.06" ry="3.74" fill="#1e1e1e" opacity="0.7"/>
<ellipse cx="334.1" cy="56.1" rx="5.06" ry="3.74" fill="#bcbcbc"/>
<ellipse cx="334.5" cy="56.5" rx="5.06" ry="3.74" fill="url(#cg)" stroke="#5e5e5e" stroke-width="0.45"/>
<ellipse cx="333.7" cy="65.7" rx="6.82" ry="3.74" fill="#1e1e1e" opacity="0.7"/>
<ellipse cx="332.3" cy="64.1" rx="6.82" ry="3.74" fill="#bcbcbc"/>
<ellipse cx="332.7" cy="64.5" rx="6.82" ry="3.74" fill="url(#cg)" stroke="#5e5e5e" stroke-width="0.45"/>
<ellipse cx="299.8" cy="66.8" rx="4.4" ry="3.3" fill="#939393" stroke="#7a7a7a" stroke-width="0.8"/>
<ellipse cx="300.8" cy="72.7" rx="6.38" ry="5.72" fill="#1e1e1e" opacity="0.7"/>
<ellipse cx="299.4" cy="71.1" rx="6.38" ry="5.72" fill="#bcbcbc"/>
<ellipse cx="299.8" cy="71.5" rx="6.38" ry="5.72" fill="url(#cg)" stroke="#5e5e5e" stroke-width="0.45"/>
<ellipse cx="308.3" cy="80.2" rx="6.93" ry="6.93" fill="#1e1e1e" opacity="0.7"/>
<ellipse cx="306.9" cy="78.6" rx="6.93" ry="6.93" fill="#bcbcbc"/>
<ellipse cx="307.3" cy="79" rx="6.93" ry="6.93" fill="url(#cg)" stroke="#5e5e5e" stroke-width="0.45"/>
<ellipse cx="320.5" cy="74.5" rx="5.72" ry="3.85" fill="#1e1e1e" opacity="0.7"/>
<ellipse cx="319.1" cy="72.9" rx="5.72" ry="3.85" fill="#bcbcbc"/>
<ellipse cx="319.5" cy="73.3" rx="5.72" ry="3.85" fill="url(#cg)" stroke="#5e5e5e" stroke-width="0.45"/>
<ellipse cx="328" cy="78.5" rx="6.38" ry="3.85" fill="#1e1e1e" opacity="0.7"/>
<ellipse cx="326.6" cy="76.9" rx="6.38" ry="3.85" fill="#bcbcbc"/>
<ellipse cx="327" cy="77.3" rx="6.38" ry="3.85" fill="url(#cg)" stroke="#5e5e5e" stroke-width="0.45"/>
<ellipse cx="338.9" cy="76.2" rx="5.72" ry="2.2" fill="#1e1e1e" opacity="0.7" transform="rotate(70 337.9 75)"/>
<ellipse cx="337.5" cy="74.6" rx="5.72" ry="2.2" fill="#d4d4d4" transform="rotate(70 337.9 75)"/>
<ellipse cx="337.9" cy="75" rx="5.72" ry="2.2" fill="url(#cgb)" stroke="#5e5e5e" stroke-width="0.45" transform="rotate(70 337.9 75)"/>
<ellipse cx="337.8" cy="83.1" rx="5.72" ry="2.2" fill="#1e1e1e" opacity="0.7" transform="rotate(55 336.8 81.9)"/>
<ellipse cx="336.4" cy="81.5" rx="5.72" ry="2.2" fill="#d4d4d4" transform="rotate(55 336.8 81.9)"/>
<ellipse cx="336.8" cy="81.9" rx="5.72" ry="2.2" fill="url(#cgb)" stroke="#5e5e5e" stroke-width="0.45" transform="rotate(55 336.8 81.9)"/>
<ellipse cx="298" cy="86.6" rx="5.72" ry="6.93" fill="#1e1e1e" opacity="0.7"/>
<ellipse cx="296.6" cy="85" rx="5.72" ry="6.93" fill="#bcbcbc"/>
<ellipse cx="297" cy="85.4" rx="5.72" ry="6.93" fill="url(#cg)" stroke="#5e5e5e" stroke-width="0.45"/>
<ellipse cx="308.3" cy="91.2" rx="6.38" ry="5.06" fill="#1e1e1e" opacity="0.7"/>
<ellipse cx="306.9" cy="89.6" rx="6.38" ry="5.06" fill="#bcbcbc"/>
<ellipse cx="307.3" cy="90" rx="6.38" ry="5.06" fill="url(#cg)" stroke="#5e5e5e" stroke-width="0.45"/>
<ellipse cx="319.9" cy="88.9" rx="6.38" ry="5.06" fill="#1e1e1e" opacity="0.7"/>
<ellipse cx="318.5" cy="87.3" rx="6.38" ry="5.06" fill="#bcbcbc"/>
<ellipse cx="318.9" cy="87.7" rx="6.38" ry="5.06" fill="url(#cg)" stroke="#5e5e5e" stroke-width="0.45"/>
<ellipse cx="329.1" cy="89.5" rx="6.38" ry="5.72" fill="#1e1e1e" opacity="0.7"/>
<ellipse cx="327.7" cy="87.9" rx="6.38" ry="5.72" fill="#bcbcbc"/>
<ellipse cx="328.1" cy="88.3" rx="6.38" ry="5.72" fill="url(#cg)" stroke="#5e5e5e" stroke-width="0.45"/>
<ellipse cx="337.8" cy="93.5" rx="5.72" ry="5.06" fill="#1e1e1e" opacity="0.7"/>
<ellipse cx="336.4" cy="91.9" rx="5.72" ry="5.06" fill="#bcbcbc"/>
<ellipse cx="336.8" cy="92.3" rx="5.72" ry="5.06" fill="url(#cg)" stroke="#5e5e5e" stroke-width="0.45"/>
<ellipse cx="344.7" cy="84.2" rx="3.3" ry="4.4" fill="#1e1e1e" opacity="0.7"/>
<ellipse cx="343.3" cy="82.6" rx="3.3" ry="4.4" fill="#bcbcbc"/>
<ellipse cx="343.7" cy="83" rx="3.3" ry="4.4" fill="url(#cg)" stroke="#5e5e5e" stroke-width="0.45"/>
<ellipse cx="293.3" cy="98.7" rx="5.06" ry="5.72" fill="#1e1e1e" opacity="0.7"/>
<ellipse cx="291.9" cy="97.1" rx="5.06" ry="5.72" fill="#bcbcbc"/>
<ellipse cx="292.3" cy="97.5" rx="5.06" ry="5.72" fill="url(#cg)" stroke="#5e5e5e" stroke-width="0.45"/>
<ellipse cx="302.6" cy="99.2" rx="5.06" ry="4.4" fill="#1e1e1e" opacity="0.7"/>
<ellipse cx="301.2" cy="97.6" rx="5.06" ry="4.4" fill="#bcbcbc"/>
<ellipse cx="301.6" cy="98" rx="5.06" ry="4.4" fill="url(#cg)" stroke="#5e5e5e" stroke-width="0.45"/>
<ellipse cx="308.9" cy="103.9" rx="6.93" ry="5.06" fill="#1e1e1e" opacity="0.7"/>
<ellipse cx="307.5" cy="102.3" rx="6.93" ry="5.06" fill="#bcbcbc"/>
<ellipse cx="307.9" cy="102.7" rx="6.93" ry="5.06" fill="url(#cg)" stroke="#5e5e5e" stroke-width="0.45"/>
<ellipse cx="321.6" cy="101" rx="4.4" ry="5.06" fill="#1e1e1e" opacity="0.7"/>
<ellipse cx="320.2" cy="99.4" rx="4.4" ry="5.06" fill="#bcbcbc"/>
<ellipse cx="320.6" cy="99.8" rx="4.4" ry="5.06" fill="url(#cg)" stroke="#5e5e5e" stroke-width="0.45"/>
<ellipse cx="331.4" cy="101" rx="6.93" ry="5.72" fill="#1e1e1e" opacity="0.7"/>
<ellipse cx="330" cy="99.4" rx="6.93" ry="5.72" fill="#d4d4d4"/>
<ellipse cx="330.4" cy="99.8" rx="6.93" ry="5.72" fill="url(#cgb)" stroke="#5e5e5e" stroke-width="0.45"/>
<ellipse cx="304.3" cy="109.1" rx="6.38" ry="2.64" fill="#1e1e1e" opacity="0.7"/>
<ellipse cx="302.9" cy="107.5" rx="6.38" ry="2.64" fill="#bcbcbc"/>
<ellipse cx="303.3" cy="107.9" rx="6.38" ry="2.64" fill="url(#cg)" stroke="#5e5e5e" stroke-width="0.45"/>
<ellipse cx="326.2" cy="107.4" rx="6.38" ry="4.4" fill="#1e1e1e" opacity="0.7"/>
<ellipse cx="324.8" cy="105.8" rx="6.38" ry="4.4" fill="#bcbcbc"/>
<ellipse cx="325.2" cy="106.2" rx="6.38" ry="4.4" fill="url(#cg)" stroke="#5e5e5e" stroke-width="0.45"/>
<ellipse cx="340.1" cy="105.6" rx="5.06" ry="4.4" fill="#1e1e1e" opacity="0.7"/>
<ellipse cx="338.7" cy="104" rx="5.06" ry="4.4" fill="#bcbcbc"/>
<ellipse cx="339.1" cy="104.4" rx="5.06" ry="4.4" fill="url(#cg)" stroke="#5e5e5e" stroke-width="0.45"/>
<ellipse cx="318.2" cy="108.5" rx="2.75" ry="2.2" fill="#1e1e1e" opacity="0.7"/>
<ellipse cx="316.8" cy="106.9" rx="2.75" ry="2.2" fill="#bcbcbc"/>
<ellipse cx="317.2" cy="107.3" rx="2.75" ry="2.2" fill="url(#cg)" stroke="#5e5e5e" stroke-width="0.45"/>
<ellipse cx="291.6" cy="107.4" rx="3.3" ry="3.3" fill="#1e1e1e" opacity="0.7"/>
<ellipse cx="290.2" cy="105.8" rx="3.3" ry="3.3" fill="#bcbcbc"/>
<ellipse cx="290.6" cy="106.2" rx="3.3" ry="3.3" fill="url(#cg)" stroke="#5e5e5e" stroke-width="0.45"/>
<ellipse cx="345.6" cy="80.8" rx="6.05" ry="2.42" fill="#1e1e1e" opacity="0.7" transform="rotate(-50 344.6 79.6)"/>
<ellipse cx="344.2" cy="79.2" rx="6.05" ry="2.42" fill="#d4d4d4" transform="rotate(-50 344.6 79.6)"/>
<ellipse cx="344.6" cy="79.6" rx="6.05" ry="2.42" fill="url(#cgb)" stroke="#5e5e5e" stroke-width="0.45" transform="rotate(-50 344.6 79.6)"/>
<ellipse cx="358.3" cy="85.4" rx="6.93" ry="5.06" fill="#1e1e1e" opacity="0.7"/>
<ellipse cx="356.9" cy="83.8" rx="6.93" ry="5.06" fill="#bcbcbc"/>
<ellipse cx="357.3" cy="84.2" rx="6.93" ry="5.06" fill="url(#cg)" stroke="#5e5e5e" stroke-width="0.45"/>
<ellipse cx="360.6" cy="78.5" rx="4.4" ry="3.3" fill="#1e1e1e" opacity="0.7"/>
<ellipse cx="359.2" cy="76.9" rx="4.4" ry="3.3" fill="#bcbcbc"/>
<ellipse cx="359.6" cy="77.3" rx="4.4" ry="3.3" fill="url(#cg)" stroke="#5e5e5e" stroke-width="0.45"/>
<ellipse cx="375.6" cy="87.2" rx="6.38" ry="2.53" fill="#1e1e1e" opacity="0.7" transform="rotate(-45 374.6 86)"/>
<ellipse cx="374.2" cy="85.6" rx="6.38" ry="2.53" fill="#d4d4d4" transform="rotate(-45 374.6 86)"/>
<ellipse cx="374.6" cy="86" rx="6.38" ry="2.53" fill="url(#cgb)" stroke="#5e5e5e" stroke-width="0.45" transform="rotate(-45 374.6 86)"/>
<ellipse cx="373.3" cy="100.4" rx="5.72" ry="6.93" fill="#1e1e1e" opacity="0.7"/>
<ellipse cx="371.9" cy="98.8" rx="5.72" ry="6.93" fill="#bcbcbc"/>
<ellipse cx="372.3" cy="99.2" rx="5.72" ry="6.93" fill="url(#cg)" stroke="#5e5e5e" stroke-width="0.45"/>
<ellipse cx="383.7" cy="106.8" rx="5.72" ry="5.06" fill="#1e1e1e" opacity="0.7"/>
<ellipse cx="382.3" cy="105.2" rx="5.72" ry="5.06" fill="#bcbcbc"/>
<ellipse cx="382.7" cy="105.6" rx="5.72" ry="5.06" fill="url(#cg)" stroke="#5e5e5e" stroke-width="0.45"/>
<ellipse cx="387.2" cy="92.4" rx="5.72" ry="5.06" fill="#1e1e1e" opacity="0.7"/>
<ellipse cx="385.8" cy="90.8" rx="5.72" ry="5.06" fill="#bcbcbc"/>
<ellipse cx="386.2" cy="91.2" rx="5.72" ry="5.06" fill="url(#cg)" stroke="#5e5e5e" stroke-width="0.45"/>
<ellipse cx="394.1" cy="91.2" rx="3.85" ry="5.5" fill="#1e1e1e" opacity="0.7"/>
<ellipse cx="392.7" cy="89.6" rx="3.85" ry="5.5" fill="#bcbcbc"/>
<ellipse cx="393.1" cy="90" rx="3.85" ry="5.5" fill="url(#cg)" stroke="#5e5e5e" stroke-width="0.45"/>
<ellipse cx="396.4" cy="100.4" rx="4.4" ry="5.06" fill="#1e1e1e" opacity="0.7"/>
<ellipse cx="395" cy="98.8" rx="4.4" ry="5.06" fill="#bcbcbc"/>
<ellipse cx="395.4" cy="99.2" rx="4.4" ry="5.06" fill="url(#cg)" stroke="#5e5e5e" stroke-width="0.45"/>
<ellipse cx="352.5" cy="105" rx="7.59" ry="6.38" fill="#1e1e1e" opacity="0.7"/>
<ellipse cx="351.1" cy="103.4" rx="7.59" ry="6.38" fill="#bcbcbc"/>
<ellipse cx="351.5" cy="103.8" rx="7.59" ry="6.38" fill="url(#cg)" stroke="#5e5e5e" stroke-width="0.45"/>
<ellipse cx="393" cy="80.8" rx="4.4" ry="3.3" fill="#1e1e1e" opacity="0.7"/>
<ellipse cx="391.6" cy="79.2" rx="4.4" ry="3.3" fill="#bcbcbc"/>
<ellipse cx="392" cy="79.6" rx="4.4" ry="3.3" fill="url(#cg)" stroke="#5e5e5e" stroke-width="0.45"/>
</g></g>
<g clip-path="url(#semR)"><g filter="url(#sblur)">
<rect x="399.6" y="39.7" width="112.8" height="70.3" fill="url(#sbg)"/>
<ellipse cx="418.8" cy="41.5" rx="3" ry="2" fill="#262626" opacity="0.5"/>
<ellipse cx="424.5" cy="62.2" rx="3" ry="3" fill="#262626" opacity="0.5"/>
<ellipse cx="439" cy="60" rx="2.5" ry="3" fill="#262626" opacity="0.5"/>
<ellipse cx="440.7" cy="94.6" rx="3" ry="4" fill="#262626" opacity="0.5"/>
<ellipse cx="462" cy="61" rx="3" ry="3" fill="#262626" opacity="0.5"/>
<ellipse cx="477" cy="72.6" rx="3" ry="3" fill="#262626" opacity="0.5"/>
<ellipse cx="470" cy="98" rx="3" ry="3" fill="#262626" opacity="0.5"/>
<ellipse cx="457.3" cy="103.8" rx="3" ry="3" fill="#262626" opacity="0.5"/>
<ellipse cx="459.6" cy="108.5" rx="4" ry="2" fill="#262626" opacity="0.5"/>
<ellipse cx="472.3" cy="108.5" rx="3" ry="2" fill="#262626" opacity="0.5"/>
<ellipse cx="450" cy="90" rx="2" ry="3" fill="#262626" opacity="0.5"/>
<ellipse cx="407.1" cy="54.2" rx="6.38" ry="5.72" fill="#1e1e1e" opacity="0.7"/>
<ellipse cx="405.7" cy="52.6" rx="6.38" ry="5.72" fill="#bcbcbc"/>
<ellipse cx="406.1" cy="53" rx="6.38" ry="5.72" fill="url(#cg)" stroke="#5e5e5e" stroke-width="0.45"/>
<ellipse cx="415.2" cy="50.2" rx="6.38" ry="5.72" fill="#1e1e1e" opacity="0.7"/>
<ellipse cx="413.8" cy="48.6" rx="6.38" ry="5.72" fill="#bcbcbc"/>
<ellipse cx="414.2" cy="49" rx="6.38" ry="5.72" fill="url(#cg)" stroke="#5e5e5e" stroke-width="0.45"/>
<ellipse cx="411.7" cy="43.2" rx="5.72" ry="2.75" fill="#1e1e1e" opacity="0.7"/>
<ellipse cx="410.3" cy="41.6" rx="5.72" ry="2.75" fill="#bcbcbc"/>
<ellipse cx="410.7" cy="42" rx="5.72" ry="2.75" fill="url(#cg)" stroke="#5e5e5e" stroke-width="0.45"/>
<ellipse cx="427.3" cy="45" rx="6.93" ry="3.85" fill="#1e1e1e" opacity="0.7"/>
<ellipse cx="425.9" cy="43.4" rx="6.93" ry="3.85" fill="#d4d4d4"/>
<ellipse cx="426.3" cy="43.8" rx="6.93" ry="3.85" fill="url(#cgb)" stroke="#5e5e5e" stroke-width="0.45"/>
<ellipse cx="426.7" cy="48.4" rx="6.38" ry="2.64" fill="#1e1e1e" opacity="0.7"/>
<ellipse cx="425.3" cy="46.8" rx="6.38" ry="2.64" fill="#d4d4d4"/>
<ellipse cx="425.7" cy="47.2" rx="6.38" ry="2.64" fill="url(#cgb)" stroke="#5e5e5e" stroke-width="0.45"/>
<ellipse cx="422.1" cy="57.7" rx="5.06" ry="4.4" fill="#1e1e1e" opacity="0.7"/>
<ellipse cx="420.7" cy="56.1" rx="5.06" ry="4.4" fill="#d4d4d4"/>
<ellipse cx="421.1" cy="56.5" rx="5.06" ry="4.4" fill="url(#cgb)" stroke="#5e5e5e" stroke-width="0.45"/>
<ellipse cx="432.5" cy="58.8" rx="6.38" ry="6.38" fill="#1e1e1e" opacity="0.7"/>
<ellipse cx="431.1" cy="57.2" rx="6.38" ry="6.38" fill="#d4d4d4"/>
<ellipse cx="431.5" cy="57.6" rx="6.38" ry="6.38" fill="url(#cgb)" stroke="#5e5e5e" stroke-width="0.45"/>
<ellipse cx="438.2" cy="50.2" rx="5.06" ry="3.85" fill="#1e1e1e" opacity="0.7"/>
<ellipse cx="436.8" cy="48.6" rx="5.06" ry="3.85" fill="#d4d4d4"/>
<ellipse cx="437.2" cy="49" rx="5.06" ry="3.85" fill="url(#cgb)" stroke="#5e5e5e" stroke-width="0.45"/>
<ellipse cx="440" cy="54.8" rx="5.72" ry="4.4" fill="#1e1e1e" opacity="0.7"/>
<ellipse cx="438.6" cy="53.2" rx="5.72" ry="4.4" fill="#bcbcbc"/>
<ellipse cx="439" cy="53.6" rx="5.72" ry="4.4" fill="url(#cg)" stroke="#5e5e5e" stroke-width="0.45"/>
<ellipse cx="448.6" cy="53" rx="5.72" ry="4.4" fill="#1e1e1e" opacity="0.7"/>
<ellipse cx="447.2" cy="51.4" rx="5.72" ry="4.4" fill="#d4d4d4"/>
<ellipse cx="447.6" cy="51.8" rx="5.72" ry="4.4" fill="url(#cgb)" stroke="#5e5e5e" stroke-width="0.45"/>
<ellipse cx="404.8" cy="69.2" rx="5.72" ry="3.85" fill="#1e1e1e" opacity="0.7"/>
<ellipse cx="403.4" cy="67.6" rx="5.72" ry="3.85" fill="#d4d4d4"/>
<ellipse cx="403.8" cy="68" rx="5.72" ry="3.85" fill="url(#cgb)" stroke="#5e5e5e" stroke-width="0.45"/>
<ellipse cx="415.7" cy="69.8" rx="6.93" ry="5.72" fill="#1e1e1e" opacity="0.7"/>
<ellipse cx="414.3" cy="68.2" rx="6.93" ry="5.72" fill="#bcbcbc"/>
<ellipse cx="414.7" cy="68.6" rx="6.93" ry="5.72" fill="url(#cg)" stroke="#5e5e5e" stroke-width="0.45"/>
<ellipse cx="434.8" cy="72.1" rx="5.72" ry="6.38" fill="#1e1e1e" opacity="0.7"/>
<ellipse cx="433.4" cy="70.5" rx="5.72" ry="6.38" fill="#bcbcbc"/>
<ellipse cx="433.8" cy="70.9" rx="5.72" ry="6.38" fill="url(#cg)" stroke="#5e5e5e" stroke-width="0.45"/>
<ellipse cx="446.3" cy="63.4" rx="6.38" ry="5.72" fill="#1e1e1e" opacity="0.7"/>
<ellipse cx="444.9" cy="61.8" rx="6.38" ry="5.72" fill="#d4d4d4"/>
<ellipse cx="445.3" cy="62.2" rx="6.38" ry="5.72" fill="url(#cgb)" stroke="#5e5e5e" stroke-width="0.45"/>
<ellipse cx="453.2" cy="68" rx="5.72" ry="6.38" fill="#1e1e1e" opacity="0.7"/>
<ellipse cx="451.8" cy="66.4" rx="5.72" ry="6.38" fill="#d4d4d4"/>
<ellipse cx="452.2" cy="66.8" rx="5.72" ry="6.38" fill="url(#cgb)" stroke="#5e5e5e" stroke-width="0.45"/>
<ellipse cx="442.8" cy="75" rx="5.06" ry="4.4" fill="#1e1e1e" opacity="0.7"/>
<ellipse cx="441.4" cy="73.4" rx="5.06" ry="4.4" fill="#d4d4d4"/>
<ellipse cx="441.8" cy="73.8" rx="5.06" ry="4.4" fill="url(#cgb)" stroke="#5e5e5e" stroke-width="0.45"/>
<ellipse cx="416.3" cy="77.7" rx="5.5" ry="3.3" fill="#1e1e1e" opacity="0.7"/>
<ellipse cx="414.9" cy="76.1" rx="5.5" ry="3.3" fill="#bcbcbc"/>
<ellipse cx="415.3" cy="76.5" rx="5.5" ry="3.3" fill="url(#cg)" stroke="#5e5e5e" stroke-width="0.45"/>
<ellipse cx="417.5" cy="82" rx="6.93" ry="6.38" fill="#1e1e1e" opacity="0.7"/>
<ellipse cx="416.1" cy="80.4" rx="6.93" ry="6.38" fill="#bcbcbc"/>
<ellipse cx="416.5" cy="80.8" rx="6.93" ry="6.38" fill="url(#cg)" stroke="#5e5e5e" stroke-width="0.45"/>
<ellipse cx="417.5" cy="88.9" rx="7.59" ry="4.4" fill="#1e1e1e" opacity="0.7"/>
<ellipse cx="416.1" cy="87.3" rx="7.59" ry="4.4" fill="#bcbcbc"/>
<ellipse cx="416.5" cy="87.7" rx="7.59" ry="4.4" fill="url(#cg)" stroke="#5e5e5e" stroke-width="0.45"/>
<ellipse cx="405.9" cy="100.4" rx="6.38" ry="7.59" fill="#1e1e1e" opacity="0.7"/>
<ellipse cx="404.5" cy="98.8" rx="6.38" ry="7.59" fill="#bcbcbc"/>
<ellipse cx="404.9" cy="99.2" rx="6.38" ry="7.59" fill="url(#cg)" stroke="#5e5e5e" stroke-width="0.45"/>
<ellipse cx="436.5" cy="99.9" rx="4.4" ry="5.72" fill="#1e1e1e" opacity="0.7"/>
<ellipse cx="435.1" cy="98.3" rx="4.4" ry="5.72" fill="#bcbcbc"/>
<ellipse cx="435.5" cy="98.7" rx="4.4" ry="5.72" fill="url(#cg)" stroke="#5e5e5e" stroke-width="0.45"/>
<ellipse cx="422.1" cy="108.5" rx="6.93" ry="2.53" fill="#1e1e1e" opacity="0.7"/>
<ellipse cx="420.7" cy="106.9" rx="6.93" ry="2.53" fill="#d4d4d4"/>
<ellipse cx="421.1" cy="107.3" rx="6.93" ry="2.53" fill="url(#cgb)" stroke="#5e5e5e" stroke-width="0.45"/>
<ellipse cx="445.2" cy="84.3" rx="6.38" ry="6.93" fill="#1e1e1e" opacity="0.7"/>
<ellipse cx="443.8" cy="82.7" rx="6.38" ry="6.93" fill="#d4d4d4"/>
<ellipse cx="444.2" cy="83.1" rx="6.38" ry="6.93" fill="url(#cgb)" stroke="#5e5e5e" stroke-width="0.45"/>
<ellipse cx="447.5" cy="78.5" rx="4.4" ry="3.3" fill="#1e1e1e" opacity="0.7"/>
<ellipse cx="446.1" cy="76.9" rx="4.4" ry="3.3" fill="#d4d4d4"/>
<ellipse cx="446.5" cy="77.3" rx="4.4" ry="3.3" fill="url(#cgb)" stroke="#5e5e5e" stroke-width="0.45"/>
<ellipse cx="453.2" cy="98.1" rx="6.38" ry="6.38" fill="#1e1e1e" opacity="0.7"/>
<ellipse cx="451.8" cy="96.5" rx="6.38" ry="6.38" fill="#d4d4d4"/>
<ellipse cx="452.2" cy="96.9" rx="6.38" ry="6.38" fill="url(#cgb)" stroke="#5e5e5e" stroke-width="0.45"/>
<ellipse cx="446.3" cy="103.9" rx="5.72" ry="6.38" fill="#1e1e1e" opacity="0.7"/>
<ellipse cx="444.9" cy="102.3" rx="5.72" ry="6.38" fill="#bcbcbc"/>
<ellipse cx="445.3" cy="102.7" rx="5.72" ry="6.38" fill="url(#cg)" stroke="#5e5e5e" stroke-width="0.45"/>
<ellipse cx="456.7" cy="85.4" rx="4.95" ry="5.5" fill="#1e1e1e" opacity="0.7"/>
<ellipse cx="455.3" cy="83.8" rx="4.95" ry="5.5" fill="#d4d4d4"/>
<ellipse cx="455.7" cy="84.2" rx="4.95" ry="5.5" fill="url(#cgb)" stroke="#5e5e5e" stroke-width="0.45"/>
<ellipse cx="438.2" cy="77.4" rx="4.4" ry="3.3" fill="#1e1e1e" opacity="0.7"/>
<ellipse cx="436.8" cy="75.8" rx="4.4" ry="3.3" fill="#bcbcbc"/>
<ellipse cx="437.2" cy="76.2" rx="4.4" ry="3.3" fill="url(#cg)" stroke="#5e5e5e" stroke-width="0.45"/>
<ellipse cx="462.9" cy="43.8" rx="5.06" ry="3.19" fill="#1e1e1e" opacity="0.7"/>
<ellipse cx="461.5" cy="42.2" rx="5.06" ry="3.19" fill="#bcbcbc"/>
<ellipse cx="461.9" cy="42.6" rx="5.06" ry="3.19" fill="url(#cg)" stroke="#5e5e5e" stroke-width="0.45"/>
<ellipse cx="471" cy="47.9" rx="5.72" ry="5.72" fill="#1e1e1e" opacity="0.7"/>
<ellipse cx="469.6" cy="46.3" rx="5.72" ry="5.72" fill="#d4d4d4"/>
<ellipse cx="470" cy="46.7" rx="5.72" ry="5.72" fill="url(#cgb)" stroke="#5e5e5e" stroke-width="0.45"/>
<ellipse cx="473.3" cy="56.5" rx="6.93" ry="5.06" fill="#1e1e1e" opacity="0.7"/>
<ellipse cx="471.9" cy="54.9" rx="6.93" ry="5.06" fill="#d4d4d4"/>
<ellipse cx="472.3" cy="55.3" rx="6.93" ry="5.06" fill="url(#cgb)" stroke="#5e5e5e" stroke-width="0.45"/>
<ellipse cx="478.5" cy="62.3" rx="6.93" ry="5.72" fill="#1e1e1e" opacity="0.7"/>
<ellipse cx="477.1" cy="60.7" rx="6.93" ry="5.72" fill="#d4d4d4"/>
<ellipse cx="477.5" cy="61.1" rx="6.93" ry="5.72" fill="url(#cgb)" stroke="#5e5e5e" stroke-width="0.45"/>
<ellipse cx="490.6" cy="59.4" rx="5.72" ry="5.72" fill="#1e1e1e" opacity="0.7"/>
<ellipse cx="489.2" cy="57.8" rx="5.72" ry="5.72" fill="#d4d4d4"/>
<ellipse cx="489.6" cy="58.2" rx="5.72" ry="5.72" fill="url(#cgb)" stroke="#5e5e5e" stroke-width="0.45"/>
<ellipse cx="495.8" cy="61.7" rx="5.06" ry="6.38" fill="#1e1e1e" opacity="0.7"/>
<ellipse cx="494.4" cy="60.1" rx="5.06" ry="6.38" fill="#d4d4d4"/>
<ellipse cx="494.8" cy="60.5" rx="5.06" ry="6.38" fill="url(#cgb)" stroke="#5e5e5e" stroke-width="0.45"/>
<ellipse cx="506.8" cy="52.5" rx="6.93" ry="5.72" fill="#1e1e1e" opacity="0.7"/>
<ellipse cx="505.4" cy="50.9" rx="6.93" ry="5.72" fill="#d4d4d4"/>
<ellipse cx="505.8" cy="51.3" rx="6.93" ry="5.72" fill="url(#cgb)" stroke="#5e5e5e" stroke-width="0.45"/>
<ellipse cx="508.5" cy="45" rx="5.72" ry="4.4" fill="#1e1e1e" opacity="0.7"/>
<ellipse cx="507.1" cy="43.4" rx="5.72" ry="4.4" fill="#d4d4d4"/>
<ellipse cx="507.5" cy="43.8" rx="5.72" ry="4.4" fill="url(#cgb)" stroke="#5e5e5e" stroke-width="0.45"/>
<ellipse cx="487.2" cy="73.8" rx="7.59" ry="5.72" fill="#1e1e1e" opacity="0.7"/>
<ellipse cx="485.8" cy="72.2" rx="7.59" ry="5.72" fill="#bcbcbc"/>
<ellipse cx="486.2" cy="72.6" rx="7.59" ry="5.72" fill="url(#cg)" stroke="#5e5e5e" stroke-width="0.45"/>
<ellipse cx="457.2" cy="65.7" rx="3.85" ry="5.5" fill="#1e1e1e" opacity="0.7"/>
<ellipse cx="455.8" cy="64.1" rx="3.85" ry="5.5" fill="#d4d4d4"/>
<ellipse cx="456.2" cy="64.5" rx="3.85" ry="5.5" fill="url(#cgb)" stroke="#5e5e5e" stroke-width="0.45"/>
<ellipse cx="467.5" cy="72.1" rx="6.93" ry="5.06" fill="#1e1e1e" opacity="0.7"/>
<ellipse cx="466.1" cy="70.5" rx="6.93" ry="5.06" fill="#d4d4d4"/>
<ellipse cx="466.5" cy="70.9" rx="6.93" ry="5.06" fill="url(#cgb)" stroke="#5e5e5e" stroke-width="0.45"/>
<ellipse cx="458.3" cy="71.5" rx="3.3" ry="4.4" fill="#1e1e1e" opacity="0.7"/>
<ellipse cx="456.9" cy="69.9" rx="3.3" ry="4.4" fill="#d4d4d4"/>
<ellipse cx="457.3" cy="70.3" rx="3.3" ry="4.4" fill="url(#cgb)" stroke="#5e5e5e" stroke-width="0.45"/>
<ellipse cx="465.2" cy="93.5" rx="6.38" ry="5.72" fill="#1e1e1e" opacity="0.7"/>
<ellipse cx="463.8" cy="91.9" rx="6.38" ry="5.72" fill="#d4d4d4"/>
<ellipse cx="464.2" cy="92.3" rx="6.38" ry="5.72" fill="url(#cgb)" stroke="#5e5e5e" stroke-width="0.45"/>
<ellipse cx="477.3" cy="91.2" rx="6.93" ry="6.93" fill="#1e1e1e" opacity="0.7"/>
<ellipse cx="475.9" cy="89.6" rx="6.93" ry="6.93" fill="#d4d4d4"/>
<ellipse cx="476.3" cy="90" rx="6.93" ry="6.93" fill="url(#cgb)" stroke="#5e5e5e" stroke-width="0.45"/>
<ellipse cx="481.4" cy="102.7" rx="7.59" ry="6.38" fill="#1e1e1e" opacity="0.7"/>
<ellipse cx="480" cy="101.1" rx="7.59" ry="6.38" fill="#d4d4d4"/>
<ellipse cx="480.4" cy="101.5" rx="7.59" ry="6.38" fill="url(#cgb)" stroke="#5e5e5e" stroke-width="0.45"/>
<ellipse cx="467.5" cy="103.9" rx="6.38" ry="4.4" fill="#1e1e1e" opacity="0.7"/>
<ellipse cx="466.1" cy="102.3" rx="6.38" ry="4.4" fill="#d4d4d4"/>
<ellipse cx="466.5" cy="102.7" rx="6.38" ry="4.4" fill="url(#cgb)" stroke="#5e5e5e" stroke-width="0.45"/>
<ellipse cx="491.8" cy="103.9" rx="5.06" ry="5.06" fill="#1e1e1e" opacity="0.7"/>
<ellipse cx="490.4" cy="102.3" rx="5.06" ry="5.06" fill="#bcbcbc"/>
<ellipse cx="490.8" cy="102.7" rx="5.06" ry="5.06" fill="url(#cg)" stroke="#5e5e5e" stroke-width="0.45"/>
<ellipse cx="457.7" cy="98.1" rx="3.3" ry="4.4" fill="#1e1e1e" opacity="0.7"/>
<ellipse cx="456.3" cy="96.5" rx="3.3" ry="4.4" fill="#d4d4d4"/>
<ellipse cx="456.7" cy="96.9" rx="3.3" ry="4.4" fill="url(#cgb)" stroke="#5e5e5e" stroke-width="0.45"/>
<ellipse cx="505.8" cy="101.5" rx="5.72" ry="5.06" fill="#939393" stroke="#7a7a7a" stroke-width="0.8"/>
<ellipse cx="466.4" cy="82" rx="4.95" ry="4.4" fill="#1e1e1e" opacity="0.7"/>
<ellipse cx="465" cy="80.4" rx="4.95" ry="4.4" fill="#d4d4d4"/>
<ellipse cx="465.4" cy="80.8" rx="4.95" ry="4.4" fill="url(#cgb)" stroke="#5e5e5e" stroke-width="0.45"/>
<ellipse cx="488.3" cy="98.1" rx="4.4" ry="4.4" fill="#1e1e1e" opacity="0.7"/>
<ellipse cx="486.9" cy="96.5" rx="4.4" ry="4.4" fill="#bcbcbc"/>
<ellipse cx="487.3" cy="96.9" rx="4.4" ry="4.4" fill="url(#cg)" stroke="#5e5e5e" stroke-width="0.45"/>
<ellipse cx="458.3" cy="83.2" rx="3.3" ry="4.4" fill="#1e1e1e" opacity="0.7"/>
<ellipse cx="456.9" cy="81.6" rx="3.3" ry="4.4" fill="#d4d4d4"/>
<ellipse cx="457.3" cy="82" rx="3.3" ry="4.4" fill="url(#cgb)" stroke="#5e5e5e" stroke-width="0.45"/>
</g></g>
<rect x="288.5" y="109.8" width="110.3" height="6.8" fill="#141414"/>
<rect x="399.6" y="109.8" width="112.8" height="6.8" fill="#141414"/>
<rect x="290" y="111.8" width="7" height="1" fill="#5a5a5a"/>
<rect x="300" y="111.8" width="4" height="1" fill="#5a5a5a"/>
<rect x="312" y="111.8" width="6" height="1" fill="#5a5a5a"/>
<rect x="322" y="111.8" width="8" height="1" fill="#5a5a5a"/>
<rect x="345" y="111.8" width="7" height="1" fill="#5a5a5a"/>
<rect x="372" y="111.8" width="8" height="1" fill="#5a5a5a"/>
<rect x="386" y="111.8" width="10" height="1" fill="#5a5a5a"/>
<rect x="401" y="111.8" width="7" height="1" fill="#5a5a5a"/>
<rect x="412" y="111.8" width="4" height="1" fill="#5a5a5a"/>
<rect x="420" y="111.8" width="5" height="1" fill="#5a5a5a"/>
<rect x="440" y="111.8" width="7" height="1" fill="#5a5a5a"/>
<rect x="458" y="111.8" width="8" height="1" fill="#5a5a5a"/>
<rect x="480" y="111.8" width="8" height="1" fill="#5a5a5a"/>
<rect x="497" y="111.8" width="11" height="1" fill="#5a5a5a"/>
<rect x="496" y="114" width="12" height="0.9" fill="#4a4a4a"/>
<rect x="385" y="114" width="10" height="0.9" fill="#4a4a4a"/>
<rect x="316" y="114" width="4" height="0.9" fill="#4a4a4a"/>
<rect x="428" y="114" width="4" height="0.9" fill="#4a4a4a"/>
<rect x="398.8" y="39.7" width="0.8" height="77" fill="#e8e8e8"/>
<text x="343.7" y="129.2" font-size="9.3" fill="#2a2a2a" stroke="#2a2a2a" stroke-width="0.2" text-anchor="middle" textLength="45.3" lengthAdjust="spacingAndGlyphs">No Histones</text>
<text x="455.9" y="129.2" font-size="9.3" fill="#2a2a2a" stroke="#2a2a2a" stroke-width="0.2" text-anchor="middle" textLength="32.5" lengthAdjust="spacingAndGlyphs">Histones</text>
<rect x="34.95" y="440.73" width="5.1" height="2.97" fill="#2c4e8c"/>
<rect x="38.12" y="439.55" width="5.1" height="4.15" fill="#2c4e8c"/>
<rect x="41.29" y="438.36" width="5.1" height="5.34" fill="#2c4e8c"/>
<rect x="47.62" y="433.02" width="5.1" height="10.68" fill="#2c4e8c"/>
<rect x="60.3" y="414.32" width="5.1" height="29.38" fill="#2c4e8c"/>
<rect x="85.65" y="392.66" width="5.1" height="51.04" fill="#2c4e8c"/>
<rect x="136.35" y="375.45" width="5.1" height="68.25" fill="#2c4e8c"/>
<rect x="187.9" y="360.61" width="5" height="83.09" fill="#2c4e8c"/>
<line x1="62.85" y1="414.32" x2="62.85" y2="413.43" stroke="#2c4e8c" stroke-width="0.9"/>
<line x1="60.55" y1="413.43" x2="65.15" y2="413.43" stroke="#2c4e8c" stroke-width="1"/>
<line x1="138.9" y1="375.45" x2="138.9" y2="372.48" stroke="#2c4e8c" stroke-width="0.9"/>
<line x1="136.6" y1="372.48" x2="141.2" y2="372.48" stroke="#2c4e8c" stroke-width="1"/>
<line x1="190.4" y1="360.61" x2="190.4" y2="357.64" stroke="#2c4e8c" stroke-width="0.9"/>
<line x1="188.1" y1="357.64" x2="192.7" y2="357.64" stroke="#2c4e8c" stroke-width="1"/>
<line x1="37.6" y1="322.3" x2="37.6" y2="444.5" stroke="#1a1a1a" stroke-width="1.7"/>
<line x1="37.5" y1="443.7" x2="176.7" y2="443.7" stroke="#1a1a1a" stroke-width="1.6"/>
<line x1="179.4" y1="443.7" x2="201.3" y2="443.7" stroke="#1a1a1a" stroke-width="1.6"/>
<line x1="176.7" y1="441" x2="176.7" y2="447" stroke="#1a1a1a" stroke-width="1.1"/>
<line x1="179.4" y1="441" x2="179.4" y2="447" stroke="#1a1a1a" stroke-width="1.1"/>
<line x1="201.1" y1="322.3" x2="201.1" y2="444.5" stroke="#1a1a1a" stroke-width="1.7"/>
<line x1="34.2" y1="443.7" x2="37.5" y2="443.7" stroke="#1a1a1a" stroke-width="1.1"/>
<text x="31.2" y="446.6" font-size="8.3" fill="#60606e" stroke="#60606e" stroke-width="0.2" text-anchor="end">0</text>
<line x1="34.2" y1="414.02" x2="37.5" y2="414.02" stroke="#1a1a1a" stroke-width="1.1"/>
<text x="31.2" y="416.92" font-size="8.3" fill="#60606e" stroke="#60606e" stroke-width="0.2" text-anchor="end">10</text>
<line x1="34.2" y1="384.35" x2="37.5" y2="384.35" stroke="#1a1a1a" stroke-width="1.1"/>
<text x="31.2" y="387.25" font-size="8.3" fill="#60606e" stroke="#60606e" stroke-width="0.2" text-anchor="end">20</text>
<line x1="34.2" y1="354.68" x2="37.5" y2="354.68" stroke="#1a1a1a" stroke-width="1.1"/>
<text x="31.2" y="357.57" font-size="8.3" fill="#60606e" stroke="#60606e" stroke-width="0.2" text-anchor="end">30</text>
<line x1="34.2" y1="325" x2="37.5" y2="325" stroke="#1a1a1a" stroke-width="1.1"/>
<text x="31.2" y="327.9" font-size="8.3" fill="#60606e" stroke="#60606e" stroke-width="0.2" text-anchor="end">40</text>
<line x1="201.3" y1="443.7" x2="204.3" y2="443.7" stroke="#1a1a1a" stroke-width="1.1"/>
<text x="208.5" y="446.6" font-size="8.3" fill="#9c3a5a" stroke="#9c3a5a" stroke-width="0.2">0</text>
<line x1="201.3" y1="419.96" x2="204.3" y2="419.96" stroke="#1a1a1a" stroke-width="1.1"/>
<text x="208.5" y="422.86" font-size="8.3" fill="#9c3a5a" stroke="#9c3a5a" stroke-width="0.2">20</text>
<line x1="201.3" y1="396.22" x2="204.3" y2="396.22" stroke="#1a1a1a" stroke-width="1.1"/>
<text x="208.5" y="399.12" font-size="8.3" fill="#9c3a5a" stroke="#9c3a5a" stroke-width="0.2">40</text>
<line x1="201.3" y1="372.48" x2="204.3" y2="372.48" stroke="#1a1a1a" stroke-width="1.1"/>
<text x="208.5" y="375.38" font-size="8.3" fill="#9c3a5a" stroke="#9c3a5a" stroke-width="0.2">60</text>
<line x1="201.3" y1="348.74" x2="204.3" y2="348.74" stroke="#1a1a1a" stroke-width="1.1"/>
<text x="208.5" y="351.64" font-size="8.3" fill="#9c3a5a" stroke="#9c3a5a" stroke-width="0.2">80</text>
<line x1="201.3" y1="325" x2="204.3" y2="325" stroke="#1a1a1a" stroke-width="1.1"/>
<text x="208.5" y="327.9" font-size="8.3" fill="#9c3a5a" stroke="#9c3a5a" stroke-width="0.2">100</text>
<line x1="37.5" y1="443.7" x2="37.5" y2="446.7" stroke="#1a1a1a" stroke-width="1.1"/>
<text x="37.5" y="457.7" font-size="8.3" fill="#2a2a2a" stroke="#2a2a2a" stroke-width="0.2" text-anchor="middle">0</text>
<line x1="62.85" y1="443.7" x2="62.85" y2="446.7" stroke="#1a1a1a" stroke-width="1.1"/>
<text x="62.85" y="457.7" font-size="8.3" fill="#2a2a2a" stroke="#2a2a2a" stroke-width="0.2" text-anchor="middle">100</text>
<line x1="88.2" y1="443.7" x2="88.2" y2="446.7" stroke="#1a1a1a" stroke-width="1.1"/>
<text x="88.2" y="457.7" font-size="8.3" fill="#2a2a2a" stroke="#2a2a2a" stroke-width="0.2" text-anchor="middle">200</text>
<line x1="113.55" y1="443.7" x2="113.55" y2="446.7" stroke="#1a1a1a" stroke-width="1.1"/>
<text x="113.55" y="457.7" font-size="8.3" fill="#2a2a2a" stroke="#2a2a2a" stroke-width="0.2" text-anchor="middle">300</text>
<line x1="138.9" y1="443.7" x2="138.9" y2="446.7" stroke="#1a1a1a" stroke-width="1.1"/>
<text x="138.9" y="457.7" font-size="8.3" fill="#2a2a2a" stroke="#2a2a2a" stroke-width="0.2" text-anchor="middle">400</text>
<line x1="164.25" y1="443.7" x2="164.25" y2="446.7" stroke="#1a1a1a" stroke-width="1.1"/>
<text x="164.25" y="457.7" font-size="8.3" fill="#2a2a2a" stroke="#2a2a2a" stroke-width="0.2" text-anchor="middle">500</text>
<line x1="190.4" y1="443.7" x2="190.4" y2="446.7" stroke="#1a1a1a" stroke-width="1.1"/>
<text x="190" y="457.7" font-size="8.3" fill="#2a2a2a" stroke="#2a2a2a" stroke-width="0.2" text-anchor="middle">800</text>
<text x="119.8" y="471.7" font-size="10" fill="#2a2a2a" stroke="#2a2a2a" stroke-width="0.2" text-anchor="middle" textLength="123" lengthAdjust="spacingAndGlyphs">Histone concentration (μg/mL)</text>
<text x="16" y="382.9" font-size="10" fill="#3f5585" stroke="#3f5585" stroke-width="0.2" text-anchor="middle" textLength="66.7" lengthAdjust="spacingAndGlyphs" transform="rotate(-90 16 382.9)">RBC aggregation</text>
<text x="225.6" y="382.5" font-size="9.2" fill="#a02d50" stroke="#a02d50" stroke-width="0.2" text-anchor="middle" textLength="52.5" lengthAdjust="spacingAndGlyphs" transform="rotate(90 225.6 382.5)">ESR (mm/hr)</text>
<polyline points="37.5,441.33 40.67,440.73 50.17,393.25 62.85,362.98 100.88,344.35 164.25,350.52" fill="none" stroke="#a8133c" stroke-width="1.8" stroke-linejoin="round"/>
<line x1="50.17" y1="398.24" x2="50.17" y2="388.27" stroke="#a8133c" stroke-width="0.9"/>
<line x1="47.97" y1="388.27" x2="52.38" y2="388.27" stroke="#a8133c" stroke-width="1"/>
<line x1="47.97" y1="398.24" x2="52.38" y2="398.24" stroke="#a8133c" stroke-width="1"/>
<line x1="164.25" y1="353.25" x2="164.25" y2="347.79" stroke="#a8133c" stroke-width="0.9"/>
<line x1="162.05" y1="347.79" x2="166.45" y2="347.79" stroke="#a8133c" stroke-width="1"/>
<line x1="162.05" y1="353.25" x2="166.45" y2="353.25" stroke="#a8133c" stroke-width="1"/>
<line x1="40.67" y1="442.51" x2="40.67" y2="438.95" stroke="#a8133c" stroke-width="0.9"/>
<line x1="38.47" y1="438.95" x2="42.87" y2="438.95" stroke="#a8133c" stroke-width="1"/>
<line x1="38.47" y1="442.51" x2="42.87" y2="442.51" stroke="#a8133c" stroke-width="1"/>
<circle cx="37.5" cy="441.33" r="2.55" fill="#a8133c"/>
<circle cx="40.67" cy="440.73" r="2.55" fill="#a8133c"/>
<circle cx="50.17" cy="393.25" r="2.55" fill="#a8133c"/>
<circle cx="62.85" cy="362.98" r="2.55" fill="#a8133c"/>
<circle cx="100.88" cy="344.35" r="2.55" fill="#a8133c"/>
<circle cx="164.25" cy="350.52" r="2.55" fill="#a8133c"/>
<circle cx="55.67" cy="409.6" r="1.35" fill="#3a3f55" opacity="0.9"/>
<circle cx="59.62" cy="409.6" r="1.35" fill="#3a3f55" opacity="0.9"/>
<circle cx="63.57" cy="409.6" r="1.35" fill="#3a3f55" opacity="0.9"/>
<circle cx="67.53" cy="409.6" r="1.35" fill="#3a3f55" opacity="0.9"/>
<circle cx="82.28" cy="389" r="1.35" fill="#3a3f55" opacity="0.9"/>
<circle cx="86.23" cy="389" r="1.35" fill="#3a3f55" opacity="0.9"/>
<circle cx="90.18" cy="389" r="1.35" fill="#3a3f55" opacity="0.9"/>
<circle cx="94.12" cy="389" r="1.35" fill="#3a3f55" opacity="0.9"/>
<circle cx="132.27" cy="368.5" r="1.35" fill="#3a3f55" opacity="0.9"/>
<circle cx="136.22" cy="368.5" r="1.35" fill="#3a3f55" opacity="0.9"/>
<circle cx="140.17" cy="368.5" r="1.35" fill="#3a3f55" opacity="0.9"/>
<circle cx="144.12" cy="368.5" r="1.35" fill="#3a3f55" opacity="0.9"/>
<circle cx="184.38" cy="353.7" r="1.35" fill="#3a3f55" opacity="0.9"/>
<circle cx="188.32" cy="353.7" r="1.35" fill="#3a3f55" opacity="0.9"/>
<circle cx="192.28" cy="353.7" r="1.35" fill="#3a3f55" opacity="0.9"/>
<circle cx="196.22" cy="353.7" r="1.35" fill="#3a3f55" opacity="0.9"/>
<circle cx="40.88" cy="378.7" r="1.35" fill="#742b4a" opacity="0.9"/>
<circle cx="44.83" cy="378.7" r="1.35" fill="#742b4a" opacity="0.9"/>
<circle cx="48.77" cy="378.7" r="1.35" fill="#742b4a" opacity="0.9"/>
<circle cx="52.73" cy="378.7" r="1.35" fill="#742b4a" opacity="0.9"/>
<circle cx="56.28" cy="357.5" r="1.35" fill="#742b4a" opacity="0.9"/>
<circle cx="60.23" cy="357.5" r="1.35" fill="#742b4a" opacity="0.9"/>
<circle cx="64.18" cy="357.5" r="1.35" fill="#742b4a" opacity="0.9"/>
<circle cx="68.12" cy="357.5" r="1.35" fill="#742b4a" opacity="0.9"/>
<circle cx="94.78" cy="339.2" r="1.35" fill="#742b4a" opacity="0.9"/>
<circle cx="98.73" cy="339.2" r="1.35" fill="#742b4a" opacity="0.9"/>
<circle cx="102.68" cy="339.2" r="1.35" fill="#742b4a" opacity="0.9"/>
<circle cx="106.62" cy="339.2" r="1.35" fill="#742b4a" opacity="0.9"/>
<circle cx="157.47" cy="343.9" r="1.35" fill="#742b4a" opacity="0.9"/>
<circle cx="161.42" cy="343.9" r="1.35" fill="#742b4a" opacity="0.9"/>
<circle cx="165.38" cy="343.9" r="1.35" fill="#742b4a" opacity="0.9"/>
<circle cx="169.32" cy="343.9" r="1.35" fill="#742b4a" opacity="0.9"/>
<line x1="309" y1="264.4" x2="309" y2="444.45" stroke="#1a1a1a" stroke-width="1.8"/>
<line x1="305.8" y1="443.75" x2="309" y2="443.75" stroke="#1a1a1a" stroke-width="1.1"/>
<text x="302.6" y="446.65" font-size="8.3" fill="#2a2a2a" stroke="#2a2a2a" stroke-width="0.2" text-anchor="end">0.0</text>
<line x1="305.8" y1="399.5" x2="309" y2="399.5" stroke="#1a1a1a" stroke-width="1.1"/>
<text x="302.6" y="402.4" font-size="8.3" fill="#2a2a2a" stroke="#2a2a2a" stroke-width="0.2" text-anchor="end">0.2</text>
<line x1="305.8" y1="355.25" x2="309" y2="355.25" stroke="#1a1a1a" stroke-width="1.1"/>
<text x="302.6" y="358.15" font-size="8.3" fill="#2a2a2a" stroke="#2a2a2a" stroke-width="0.2" text-anchor="end">0.4</text>
<line x1="305.8" y1="311" x2="309" y2="311" stroke="#1a1a1a" stroke-width="1.1"/>
<text x="302.6" y="313.9" font-size="8.3" fill="#2a2a2a" stroke="#2a2a2a" stroke-width="0.2" text-anchor="end">0.6</text>
<line x1="305.8" y1="266.75" x2="309" y2="266.75" stroke="#1a1a1a" stroke-width="1.1"/>
<text x="302.6" y="269.65" font-size="8.3" fill="#2a2a2a" stroke="#2a2a2a" stroke-width="0.2" text-anchor="end">0.8</text>
<line x1="308.1" y1="443.75" x2="486.6" y2="443.75" stroke="#1a1a1a" stroke-width="1.6"/>
<line x1="320" y1="443.75" x2="320" y2="446.75" stroke="#1a1a1a" stroke-width="1.1"/>
<text x="320" y="457.5" font-size="8.3" fill="#2a2a2a" stroke="#2a2a2a" stroke-width="0.2" text-anchor="middle">0</text>
<line x1="342.1" y1="443.75" x2="342.1" y2="446.75" stroke="#1a1a1a" stroke-width="1.1"/>
<text x="342.1" y="457.5" font-size="8.3" fill="#2a2a2a" stroke="#2a2a2a" stroke-width="0.2" text-anchor="middle">12.5</text>
<line x1="364.2" y1="443.75" x2="364.2" y2="446.75" stroke="#1a1a1a" stroke-width="1.1"/>
<text x="364.2" y="457.5" font-size="8.3" fill="#2a2a2a" stroke="#2a2a2a" stroke-width="0.2" text-anchor="middle">25</text>
<line x1="386.3" y1="443.75" x2="386.3" y2="446.75" stroke="#1a1a1a" stroke-width="1.1"/>
<text x="386.3" y="457.5" font-size="8.3" fill="#2a2a2a" stroke="#2a2a2a" stroke-width="0.2" text-anchor="middle">50</text>
<line x1="408.4" y1="443.75" x2="408.4" y2="446.75" stroke="#1a1a1a" stroke-width="1.1"/>
<text x="408.4" y="457.5" font-size="8.3" fill="#2a2a2a" stroke="#2a2a2a" stroke-width="0.2" text-anchor="middle">100</text>
<line x1="430.5" y1="443.75" x2="430.5" y2="446.75" stroke="#1a1a1a" stroke-width="1.1"/>
<text x="430.5" y="457.5" font-size="8.3" fill="#2a2a2a" stroke="#2a2a2a" stroke-width="0.2" text-anchor="middle">200</text>
<line x1="452.6" y1="443.75" x2="452.6" y2="446.75" stroke="#1a1a1a" stroke-width="1.1"/>
<text x="452.6" y="457.5" font-size="8.3" fill="#2a2a2a" stroke="#2a2a2a" stroke-width="0.2" text-anchor="middle">400</text>
<line x1="474.7" y1="443.75" x2="474.7" y2="446.75" stroke="#1a1a1a" stroke-width="1.1"/>
<text x="474.7" y="457.5" font-size="8.3" fill="#2a2a2a" stroke="#2a2a2a" stroke-width="0.2" text-anchor="middle">800</text>
<text x="397.8" y="472.3" font-size="10" fill="#2a2a2a" stroke="#2a2a2a" stroke-width="0.2" text-anchor="middle" textLength="123.5" lengthAdjust="spacingAndGlyphs">Histone concentration (μg/mL)</text>
<text x="285.6" y="353.6" font-size="10" fill="#2a2a2a" stroke="#2a2a2a" stroke-width="0.2" text-anchor="middle" textLength="66.2" lengthAdjust="spacingAndGlyphs" transform="rotate(-90 285.6 353.6)">Hb OD (540 nm)</text>
<text x="324.5" y="288.1" font-size="8.5" fill="#2a2a2a" stroke="#2a2a2a" stroke-width="0.2" textLength="69.3" lengthAdjust="spacingAndGlyphs">Flow rate 100 mm/s</text>
<line x1="452.6" y1="321.4" x2="452.6" y2="316.97" stroke="#dca132" stroke-width="1"/>
<line x1="449.8" y1="316.97" x2="455.4" y2="316.97" stroke="#dca132" stroke-width="1.2"/>
<line x1="474.7" y1="291.09" x2="474.7" y2="279.58" stroke="#dca132" stroke-width="1"/>
<line x1="471.9" y1="279.58" x2="477.5" y2="279.58" stroke="#dca132" stroke-width="1.2"/>
<polyline points="320,431.8 342.1,430.03 364.2,424.72 386.3,416.31 408.4,403.04 430.5,371.84 452.6,321.4 474.7,291.09" fill="none" stroke="#dca132" stroke-width="1.85" stroke-linejoin="round"/>
<path d="M320 428.5L322.9 431.8L320 435.1L317.1 431.8Z" fill="#dca132"/>
<path d="M342.1 426.73L345 430.03L342.1 433.33L339.2 430.03Z" fill="#dca132"/>
<path d="M364.2 421.42L367.1 424.72L364.2 428.02L361.3 424.72Z" fill="#dca132"/>
<path d="M386.3 413.01L389.2 416.31L386.3 419.62L383.4 416.31Z" fill="#dca132"/>
<path d="M408.4 399.74L411.3 403.04L408.4 406.34L405.5 403.04Z" fill="#dca132"/>
<path d="M430.5 368.54L433.4 371.84L430.5 375.14L427.6 371.84Z" fill="#dca132"/>
<path d="M452.6 318.1L455.5 321.4L452.6 324.7L449.7 321.4Z" fill="#dca132"/>
<path d="M474.7 287.79L477.6 291.09L474.7 294.39L471.8 291.09Z" fill="#dca132"/>
<line x1="452.6" y1="344.19" x2="452.6" y2="339.76" stroke="#26427f" stroke-width="1"/>
<line x1="449.8" y1="339.76" x2="455.4" y2="339.76" stroke="#26427f" stroke-width="1.2"/>
<line x1="474.7" y1="323.61" x2="474.7" y2="322.5" stroke="#26427f" stroke-width="1"/>
<line x1="471.9" y1="322.5" x2="477.5" y2="322.5" stroke="#26427f" stroke-width="1.2"/>
<polyline points="320,431.8 342.1,430.03 364.2,424.94 386.3,420.3 408.4,406.14 430.5,378.26 452.6,344.19 474.7,323.61" fill="none" stroke="#26427f" stroke-width="1.85" stroke-linejoin="round"/>
<path d="M316.6 429.08L323.4 429.08L320 435.03Z" fill="#26427f"/>
<path d="M338.7 427.31L345.5 427.31L342.1 433.26Z" fill="#26427f"/>
<path d="M360.8 422.22L367.6 422.22L364.2 428.17Z" fill="#26427f"/>
<path d="M382.9 417.58L389.7 417.58L386.3 423.53Z" fill="#26427f"/>
<path d="M405 403.42L411.8 403.42L408.4 409.37Z" fill="#26427f"/>
<path d="M427.1 375.54L433.9 375.54L430.5 381.49Z" fill="#26427f"/>
<path d="M449.2 341.47L456 341.47L452.6 347.42Z" fill="#26427f"/>
<path d="M471.3 320.89L478.1 320.89L474.7 326.84Z" fill="#26427f"/>
<line x1="452.6" y1="361.44" x2="452.6" y2="357.9" stroke="#ab1540" stroke-width="1"/>
<line x1="449.8" y1="357.9" x2="455.4" y2="357.9" stroke="#ab1540" stroke-width="1.2"/>
<line x1="474.7" y1="347.06" x2="474.7" y2="343.08" stroke="#ab1540" stroke-width="1"/>
<line x1="471.9" y1="343.08" x2="477.5" y2="343.08" stroke="#ab1540" stroke-width="1.2"/>
<polyline points="320,431.8 342.1,430.03 364.2,424.94 386.3,422.73 408.4,413.66 430.5,395.52 452.6,361.44 474.7,347.06" fill="none" stroke="#ab1540" stroke-width="1.85" stroke-linejoin="round"/>
<path d="M316.6 434.52L323.4 434.52L320 428.57Z" fill="#ab1540"/>
<path d="M338.7 432.75L345.5 432.75L342.1 426.8Z" fill="#ab1540"/>
<path d="M360.8 427.66L367.6 427.66L364.2 421.71Z" fill="#ab1540"/>
<path d="M382.9 425.45L389.7 425.45L386.3 419.5Z" fill="#ab1540"/>
<path d="M405 416.38L411.8 416.38L408.4 410.43Z" fill="#ab1540"/>
<path d="M427.1 398.24L433.9 398.24L430.5 392.29Z" fill="#ab1540"/>
<path d="M449.2 364.17L456 364.17L452.6 358.21Z" fill="#ab1540"/>
<path d="M471.3 349.78L478.1 349.78L474.7 343.83Z" fill="#ab1540"/>
<line x1="474.7" y1="358.57" x2="474.7" y2="354.14" stroke="#4b2366" stroke-width="1"/>
<line x1="471.9" y1="354.14" x2="477.5" y2="354.14" stroke="#4b2366" stroke-width="1.2"/>
<polyline points="320,431.8 342.1,429.59 364.2,424.94 386.3,422.73 408.4,416.09 430.5,403.04 452.6,379.81 474.7,358.57" fill="none" stroke="#4b2366" stroke-width="1.85" stroke-linejoin="round"/>
<rect x="317.1" y="428.9" width="5.8" height="5.8" fill="#4b2366"/>
<rect x="339.2" y="426.69" width="5.8" height="5.8" fill="#4b2366"/>
<rect x="361.3" y="422.04" width="5.8" height="5.8" fill="#4b2366"/>
<rect x="383.4" y="419.83" width="5.8" height="5.8" fill="#4b2366"/>
<rect x="405.5" y="413.19" width="5.8" height="5.8" fill="#4b2366"/>
<rect x="427.6" y="400.14" width="5.8" height="5.8" fill="#4b2366"/>
<rect x="449.7" y="376.91" width="5.8" height="5.8" fill="#4b2366"/>
<rect x="471.8" y="355.67" width="5.8" height="5.8" fill="#4b2366"/>
<polyline points="320,431.8 342.1,430.92 364.2,429.15 386.3,426.94 408.4,423.84 430.5,422.51 452.6,421.4 474.7,416.09" fill="none" stroke="#6cae4c" stroke-width="1.85" stroke-linejoin="round"/>
<circle cx="320" cy="431.8" r="3.1" fill="#6cae4c"/>
<circle cx="342.1" cy="430.92" r="3.1" fill="#6cae4c"/>
<circle cx="364.2" cy="429.15" r="3.1" fill="#6cae4c"/>
<circle cx="386.3" cy="426.94" r="3.1" fill="#6cae4c"/>
<circle cx="408.4" cy="423.84" r="3.1" fill="#6cae4c"/>
<circle cx="430.5" cy="422.51" r="3.1" fill="#6cae4c"/>
<circle cx="452.6" cy="421.4" r="3.1" fill="#6cae4c"/>
<circle cx="474.7" cy="416.09" r="3.1" fill="#6cae4c"/>
<line x1="327.6" y1="320" x2="342.4" y2="320" stroke="#dca132" stroke-width="1.6"/>
<path d="M334.8 316.7L337.7 320L334.8 323.3L331.9 320Z" fill="#dca132"/>
<text x="345.8" y="322.9" font-size="8.2" fill="#2a2a2a" stroke="#2a2a2a" stroke-width="0.2">40X</text>
<line x1="327.6" y1="332" x2="342.4" y2="332" stroke="#26427f" stroke-width="1.6"/>
<path d="M331.4 329.28L338.2 329.28L334.8 335.23Z" fill="#26427f"/>
<text x="345.8" y="334.9" font-size="8.2" fill="#2a2a2a" stroke="#2a2a2a" stroke-width="0.2">20X</text>
<line x1="327.6" y1="342.6" x2="342.4" y2="342.6" stroke="#ab1540" stroke-width="1.6"/>
<path d="M331.4 345.32L338.2 345.32L334.8 339.37Z" fill="#ab1540"/>
<text x="345.8" y="345.5" font-size="8.2" fill="#2a2a2a" stroke="#2a2a2a" stroke-width="0.2">10X</text>
<line x1="327.6" y1="352.9" x2="342.4" y2="352.9" stroke="#4b2366" stroke-width="1.6"/>
<rect x="331.9" y="350" width="5.8" height="5.8" fill="#4b2366"/>
<text x="345.8" y="355.8" font-size="8.2" fill="#2a2a2a" stroke="#2a2a2a" stroke-width="0.2">5X</text>
<line x1="327.6" y1="362.7" x2="342.4" y2="362.7" stroke="#6cae4c" stroke-width="1.6"/>
<circle cx="334.8" cy="362.7" r="3.1" fill="#6cae4c"/>
<text x="345.8" y="365.6" font-size="8.2" fill="#2a2a2a" stroke="#2a2a2a" stroke-width="0.2">0X</text>
<circle cx="469.47" cy="273.9" r="1.35" fill="#b09468" opacity="0.9"/>
<circle cx="473.42" cy="273.9" r="1.35" fill="#b09468" opacity="0.9"/>
<circle cx="477.37" cy="273.9" r="1.35" fill="#b09468" opacity="0.9"/>
<circle cx="481.32" cy="273.9" r="1.35" fill="#b09468" opacity="0.9"/>
<circle cx="469.47" cy="315.9" r="1.35" fill="#2e3558" opacity="0.9"/>
<circle cx="473.42" cy="315.9" r="1.35" fill="#2e3558" opacity="0.9"/>
<circle cx="477.37" cy="315.9" r="1.35" fill="#2e3558" opacity="0.9"/>
<circle cx="481.32" cy="315.9" r="1.35" fill="#2e3558" opacity="0.9"/>
<circle cx="469.47" cy="333.1" r="1.35" fill="#6e2c4a" opacity="0.9"/>
<circle cx="473.42" cy="333.1" r="1.35" fill="#6e2c4a" opacity="0.9"/>
<circle cx="477.37" cy="333.1" r="1.35" fill="#6e2c4a" opacity="0.9"/>
<circle cx="481.32" cy="333.1" r="1.35" fill="#6e2c4a" opacity="0.9"/>
<circle cx="469.47" cy="338.2" r="1.35" fill="#44375c" opacity="0.9"/>
<circle cx="473.42" cy="338.2" r="1.35" fill="#44375c" opacity="0.9"/>
<circle cx="477.37" cy="338.2" r="1.35" fill="#44375c" opacity="0.9"/>
<circle cx="481.32" cy="338.2" r="1.35" fill="#44375c" opacity="0.9"/>
<circle cx="442.68" cy="297.3" r="1.35" fill="#b09468" opacity="0.9"/>
<circle cx="446.62" cy="297.3" r="1.35" fill="#b09468" opacity="0.9"/>
<circle cx="450.57" cy="297.3" r="1.35" fill="#b09468" opacity="0.9"/>
<circle cx="454.53" cy="297.3" r="1.35" fill="#b09468" opacity="0.9"/>
<circle cx="442.68" cy="301.9" r="1.35" fill="#2e3558" opacity="0.9"/>
<circle cx="446.62" cy="301.9" r="1.35" fill="#2e3558" opacity="0.9"/>
<circle cx="450.57" cy="301.9" r="1.35" fill="#2e3558" opacity="0.9"/>
<circle cx="454.53" cy="301.9" r="1.35" fill="#2e3558" opacity="0.9"/>
<circle cx="442.68" cy="307" r="1.35" fill="#6e2c4a" opacity="0.9"/>
<circle cx="446.62" cy="307" r="1.35" fill="#6e2c4a" opacity="0.9"/>
<circle cx="450.57" cy="307" r="1.35" fill="#6e2c4a" opacity="0.9"/>
<circle cx="454.53" cy="307" r="1.35" fill="#6e2c4a" opacity="0.9"/>
<circle cx="442.68" cy="312.5" r="1.35" fill="#44375c" opacity="0.9"/>
<circle cx="446.62" cy="312.5" r="1.35" fill="#44375c" opacity="0.9"/>
<circle cx="450.57" cy="312.5" r="1.35" fill="#44375c" opacity="0.9"/>
<circle cx="454.53" cy="312.5" r="1.35" fill="#44375c" opacity="0.9"/>
<circle cx="422.27" cy="340.4" r="1.35" fill="#b09468" opacity="0.9"/>
<circle cx="426.22" cy="340.4" r="1.35" fill="#b09468" opacity="0.9"/>
<circle cx="430.17" cy="340.4" r="1.35" fill="#b09468" opacity="0.9"/>
<circle cx="434.12" cy="340.4" r="1.35" fill="#b09468" opacity="0.9"/>
<circle cx="422.27" cy="346.1" r="1.35" fill="#2e3558" opacity="0.9"/>
<circle cx="426.22" cy="346.1" r="1.35" fill="#2e3558" opacity="0.9"/>
<circle cx="430.17" cy="346.1" r="1.35" fill="#2e3558" opacity="0.9"/>
<circle cx="434.12" cy="346.1" r="1.35" fill="#2e3558" opacity="0.9"/>
<circle cx="422.27" cy="351.1" r="1.35" fill="#6e2c4a" opacity="0.9"/>
<circle cx="426.22" cy="351.1" r="1.35" fill="#6e2c4a" opacity="0.9"/>
<circle cx="430.17" cy="351.1" r="1.35" fill="#6e2c4a" opacity="0.9"/>
<circle cx="434.12" cy="351.1" r="1.35" fill="#6e2c4a" opacity="0.9"/>
<circle cx="422.27" cy="356.5" r="1.35" fill="#44375c" opacity="0.9"/>
<circle cx="426.22" cy="356.5" r="1.35" fill="#44375c" opacity="0.9"/>
<circle cx="430.17" cy="356.5" r="1.35" fill="#44375c" opacity="0.9"/>
<circle cx="434.12" cy="356.5" r="1.35" fill="#44375c" opacity="0.9"/>
<circle cx="398.68" cy="385" r="1.35" fill="#b09468" opacity="0.9"/>
<circle cx="402.62" cy="385" r="1.35" fill="#b09468" opacity="0.9"/>
<circle cx="406.57" cy="385" r="1.35" fill="#b09468" opacity="0.9"/>
<circle cx="410.53" cy="385" r="1.35" fill="#b09468" opacity="0.9"/>
<circle cx="398.68" cy="392" r="1.35" fill="#2e3558" opacity="0.9"/>
<circle cx="402.62" cy="392" r="1.35" fill="#2e3558" opacity="0.9"/>
<circle cx="406.57" cy="392" r="1.35" fill="#2e3558" opacity="0.9"/>
<circle cx="410.53" cy="392" r="1.35" fill="#2e3558" opacity="0.9"/>
<circle cx="405.3" cy="397.6" r="1.35" fill="#44375c" opacity="0.9"/>
<circle cx="385.9" cy="409.3" r="1.35" fill="#b09468" opacity="0.9"/>
<line x1="38.9" y1="509.4" x2="38.9" y2="689.7" stroke="#1a1a1a" stroke-width="1.8"/>
<line x1="35.7" y1="689" x2="38.9" y2="689" stroke="#1a1a1a" stroke-width="1.1"/>
<text x="31.9" y="691.9" font-size="8.3" fill="#2a2a2a" stroke="#2a2a2a" stroke-width="0.2" text-anchor="end">0.0</text>
<line x1="35.7" y1="653.6" x2="38.9" y2="653.6" stroke="#1a1a1a" stroke-width="1.1"/>
<text x="31.9" y="656.5" font-size="8.3" fill="#2a2a2a" stroke="#2a2a2a" stroke-width="0.2" text-anchor="end">0.2</text>
<line x1="35.7" y1="618.2" x2="38.9" y2="618.2" stroke="#1a1a1a" stroke-width="1.1"/>
<text x="31.9" y="621.1" font-size="8.3" fill="#2a2a2a" stroke="#2a2a2a" stroke-width="0.2" text-anchor="end">0.4</text>
<line x1="35.7" y1="582.8" x2="38.9" y2="582.8" stroke="#1a1a1a" stroke-width="1.1"/>
<text x="31.9" y="585.7" font-size="8.3" fill="#2a2a2a" stroke="#2a2a2a" stroke-width="0.2" text-anchor="end">0.6</text>
<line x1="35.7" y1="547.4" x2="38.9" y2="547.4" stroke="#1a1a1a" stroke-width="1.1"/>
<text x="31.9" y="550.3" font-size="8.3" fill="#2a2a2a" stroke="#2a2a2a" stroke-width="0.2" text-anchor="end">0.8</text>
<line x1="35.7" y1="512" x2="38.9" y2="512" stroke="#1a1a1a" stroke-width="1.1"/>
<text x="31.9" y="514.9" font-size="8.3" fill="#2a2a2a" stroke="#2a2a2a" stroke-width="0.2" text-anchor="end">1.0</text>
<line x1="38" y1="689" x2="217.5" y2="689" stroke="#1a1a1a" stroke-width="1.6"/>
<line x1="50.5" y1="689" x2="50.5" y2="692" stroke="#1a1a1a" stroke-width="1.1"/>
<text x="50.5" y="702.6" font-size="8.3" fill="#2a2a2a" stroke="#2a2a2a" stroke-width="0.2" text-anchor="middle">0</text>
<line x1="72.75" y1="689" x2="72.75" y2="692" stroke="#1a1a1a" stroke-width="1.1"/>
<text x="72.75" y="702.6" font-size="8.3" fill="#2a2a2a" stroke="#2a2a2a" stroke-width="0.2" text-anchor="middle">12.5</text>
<line x1="95" y1="689" x2="95" y2="692" stroke="#1a1a1a" stroke-width="1.1"/>
<text x="95" y="702.6" font-size="8.3" fill="#2a2a2a" stroke="#2a2a2a" stroke-width="0.2" text-anchor="middle">25</text>
<line x1="117.25" y1="689" x2="117.25" y2="692" stroke="#1a1a1a" stroke-width="1.1"/>
<text x="117.25" y="702.6" font-size="8.3" fill="#2a2a2a" stroke="#2a2a2a" stroke-width="0.2" text-anchor="middle">50</text>
<line x1="139.5" y1="689" x2="139.5" y2="692" stroke="#1a1a1a" stroke-width="1.1"/>
<text x="139.5" y="702.6" font-size="8.3" fill="#2a2a2a" stroke="#2a2a2a" stroke-width="0.2" text-anchor="middle">100</text>
<line x1="161.75" y1="689" x2="161.75" y2="692" stroke="#1a1a1a" stroke-width="1.1"/>
<text x="161.75" y="702.6" font-size="8.3" fill="#2a2a2a" stroke="#2a2a2a" stroke-width="0.2" text-anchor="middle">200</text>
<line x1="184" y1="689" x2="184" y2="692" stroke="#1a1a1a" stroke-width="1.1"/>
<text x="184" y="702.6" font-size="8.3" fill="#2a2a2a" stroke="#2a2a2a" stroke-width="0.2" text-anchor="middle">400</text>
<line x1="206.25" y1="689" x2="206.25" y2="692" stroke="#1a1a1a" stroke-width="1.1"/>
<text x="206.25" y="702.6" font-size="8.3" fill="#2a2a2a" stroke="#2a2a2a" stroke-width="0.2" text-anchor="middle">800</text>
<text x="128.8" y="716.6" font-size="10" fill="#2a2a2a" stroke="#2a2a2a" stroke-width="0.2" text-anchor="middle" textLength="123.6" lengthAdjust="spacingAndGlyphs">Histone concentration (μg/mL)</text>
<text x="16.2" y="598.5" font-size="10" fill="#2a2a2a" stroke="#2a2a2a" stroke-width="0.2" text-anchor="middle" textLength="64.6" lengthAdjust="spacingAndGlyphs" transform="rotate(-90 16.2 598.5)">Hb OD (540 nm)</text>
<text x="57.2" y="537.4" font-size="8" fill="#2a2a2a" stroke="#2a2a2a" stroke-width="0.2" textLength="49.4" lengthAdjust="spacingAndGlyphs">Exposure 40X</text>
<polyline points="50.5,680.5 72.75,680.5 95,679.8 117.25,678.03 139.5,674.49 161.75,670.06 184,666.88 206.25,663.16" fill="none" stroke="#6cae4c" stroke-width="1.85" stroke-linejoin="round"/>
<circle cx="50.5" cy="680.5" r="3.1" fill="#6cae4c"/>
<circle cx="72.75" cy="680.5" r="3.1" fill="#6cae4c"/>
<circle cx="95" cy="679.8" r="3.1" fill="#6cae4c"/>
<circle cx="117.25" cy="678.03" r="3.1" fill="#6cae4c"/>
<circle cx="139.5" cy="674.49" r="3.1" fill="#6cae4c"/>
<circle cx="161.75" cy="670.06" r="3.1" fill="#6cae4c"/>
<circle cx="184" cy="666.88" r="3.1" fill="#6cae4c"/>
<circle cx="206.25" cy="663.16" r="3.1" fill="#6cae4c"/>
<polyline points="50.5,680.5 72.75,680.15 95,676.96 117.25,673.96 139.5,671.3 161.75,666.34 184,658.38 206.25,640.68" fill="none" stroke="#4b2366" stroke-width="1.85" stroke-linejoin="round"/>
<rect x="47.6" y="677.6" width="5.8" height="5.8" fill="#4b2366"/>
<rect x="69.85" y="677.25" width="5.8" height="5.8" fill="#4b2366"/>
<rect x="92.1" y="674.06" width="5.8" height="5.8" fill="#4b2366"/>
<rect x="114.35" y="671.06" width="5.8" height="5.8" fill="#4b2366"/>
<rect x="136.6" y="668.4" width="5.8" height="5.8" fill="#4b2366"/>
<rect x="158.85" y="663.44" width="5.8" height="5.8" fill="#4b2366"/>
<rect x="181.1" y="655.48" width="5.8" height="5.8" fill="#4b2366"/>
<rect x="203.35" y="637.78" width="5.8" height="5.8" fill="#4b2366"/>
<line x1="161.75" y1="660.15" x2="161.75" y2="654.49" stroke="#ab1540" stroke-width="1"/>
<line x1="158.95" y1="654.49" x2="164.55" y2="654.49" stroke="#ab1540" stroke-width="1.2"/>
<line x1="158.95" y1="660.15" x2="164.55" y2="660.15" stroke="#ab1540" stroke-width="1.2"/>
<line x1="184" y1="636.61" x2="184" y2="629.53" stroke="#ab1540" stroke-width="1"/>
<line x1="181.2" y1="629.53" x2="186.8" y2="629.53" stroke="#ab1540" stroke-width="1.2"/>
<line x1="181.2" y1="636.61" x2="186.8" y2="636.61" stroke="#ab1540" stroke-width="1.2"/>
<line x1="206.25" y1="600.32" x2="206.25" y2="592.53" stroke="#ab1540" stroke-width="1"/>
<line x1="203.45" y1="592.53" x2="209.05" y2="592.53" stroke="#ab1540" stroke-width="1.2"/>
<line x1="203.45" y1="600.32" x2="209.05" y2="600.32" stroke="#ab1540" stroke-width="1.2"/>
<polyline points="50.5,680.5 72.75,680.15 95,678.03 117.25,673.96 139.5,669.88 161.75,657.32 184,633.07 206.25,596.43" fill="none" stroke="#ab1540" stroke-width="1.85" stroke-linejoin="round"/>
<path d="M47.1 683.22L53.9 683.22L50.5 677.27Z" fill="#ab1540"/>
<path d="M69.35 682.87L76.15 682.87L72.75 676.92Z" fill="#ab1540"/>
<path d="M91.6 680.75L98.4 680.75L95 674.8Z" fill="#ab1540"/>
<path d="M113.85 676.68L120.65 676.68L117.25 670.73Z" fill="#ab1540"/>
<path d="M136.1 672.6L142.9 672.6L139.5 666.65Z" fill="#ab1540"/>
<path d="M158.35 660.04L165.15 660.04L161.75 654.09Z" fill="#ab1540"/>
<path d="M180.6 635.79L187.4 635.79L184 629.84Z" fill="#ab1540"/>
<path d="M202.85 599.15L209.65 599.15L206.25 593.2Z" fill="#ab1540"/>
<line x1="139.5" y1="664.04" x2="139.5" y2="658.38" stroke="#26427f" stroke-width="1"/>
<line x1="136.7" y1="658.38" x2="142.3" y2="658.38" stroke="#26427f" stroke-width="1.2"/>
<line x1="136.7" y1="664.04" x2="142.3" y2="664.04" stroke="#26427f" stroke-width="1.2"/>
<line x1="161.75" y1="644.93" x2="161.75" y2="638.55" stroke="#26427f" stroke-width="1"/>
<line x1="158.95" y1="638.55" x2="164.55" y2="638.55" stroke="#26427f" stroke-width="1.2"/>
<line x1="158.95" y1="644.93" x2="164.55" y2="644.93" stroke="#26427f" stroke-width="1.2"/>
<line x1="184" y1="603.51" x2="184" y2="595.72" stroke="#26427f" stroke-width="1"/>
<line x1="181.2" y1="595.72" x2="186.8" y2="595.72" stroke="#26427f" stroke-width="1.2"/>
<line x1="181.2" y1="603.51" x2="186.8" y2="603.51" stroke="#26427f" stroke-width="1.2"/>
<line x1="206.25" y1="563.33" x2="206.25" y2="556.25" stroke="#26427f" stroke-width="1"/>
<line x1="203.45" y1="556.25" x2="209.05" y2="556.25" stroke="#26427f" stroke-width="1.2"/>
<line x1="203.45" y1="563.33" x2="209.05" y2="563.33" stroke="#26427f" stroke-width="1.2"/>
<polyline points="50.5,680.5 72.75,679.97 95,676.96 117.25,670.77 139.5,661.21 161.75,641.74 184,599.62 206.25,559.79" fill="none" stroke="#26427f" stroke-width="1.85" stroke-linejoin="round"/>
<path d="M47.1 677.78L53.9 677.78L50.5 683.73Z" fill="#26427f"/>
<path d="M69.35 677.25L76.15 677.25L72.75 683.2Z" fill="#26427f"/>
<path d="M91.6 674.24L98.4 674.24L95 680.19Z" fill="#26427f"/>
<path d="M113.85 668.05L120.65 668.05L117.25 674Z" fill="#26427f"/>
<path d="M136.1 658.49L142.9 658.49L139.5 664.44Z" fill="#26427f"/>
<path d="M158.35 639.02L165.15 639.02L161.75 644.97Z" fill="#26427f"/>
<path d="M180.6 596.89L187.4 596.89L184 602.85Z" fill="#26427f"/>
<path d="M202.85 557.07L209.65 557.07L206.25 563.02Z" fill="#26427f"/>
<line x1="161.75" y1="627.58" x2="161.75" y2="621.21" stroke="#dca132" stroke-width="1"/>
<line x1="158.95" y1="621.21" x2="164.55" y2="621.21" stroke="#dca132" stroke-width="1.2"/>
<line x1="158.95" y1="627.58" x2="164.55" y2="627.58" stroke="#dca132" stroke-width="1.2"/>
<line x1="184" y1="572.89" x2="184" y2="565.81" stroke="#dca132" stroke-width="1"/>
<line x1="181.2" y1="565.81" x2="186.8" y2="565.81" stroke="#dca132" stroke-width="1.2"/>
<line x1="181.2" y1="572.89" x2="186.8" y2="572.89" stroke="#dca132" stroke-width="1.2"/>
<line x1="206.25" y1="538.73" x2="206.25" y2="532.36" stroke="#dca132" stroke-width="1"/>
<line x1="203.45" y1="532.36" x2="209.05" y2="532.36" stroke="#dca132" stroke-width="1.2"/>
<line x1="203.45" y1="538.73" x2="209.05" y2="538.73" stroke="#dca132" stroke-width="1.2"/>
<polyline points="50.5,680.5 72.75,679.8 95,677.5 117.25,672.54 139.5,651.83 161.75,624.39 184,569.35 206.25,535.54" fill="none" stroke="#dca132" stroke-width="1.85" stroke-linejoin="round"/>
<path d="M50.5 677.2L53.4 680.5L50.5 683.8L47.6 680.5Z" fill="#dca132"/>
<path d="M72.75 676.5L75.65 679.8L72.75 683.1L69.85 679.8Z" fill="#dca132"/>
<path d="M95 674.2L97.9 677.5L95 680.79L92.1 677.5Z" fill="#dca132"/>
<path d="M117.25 669.24L120.15 672.54L117.25 675.84L114.35 672.54Z" fill="#dca132"/>
<path d="M139.5 648.53L142.4 651.83L139.5 655.13L136.6 651.83Z" fill="#dca132"/>
<path d="M161.75 621.1L164.65 624.39L161.75 627.69L158.85 624.39Z" fill="#dca132"/>
<path d="M184 566.05L186.9 569.35L184 572.65L181.1 569.35Z" fill="#dca132"/>
<path d="M206.25 532.24L209.15 535.54L206.25 538.84L203.35 535.54Z" fill="#dca132"/>
<line x1="65.1" y1="550" x2="80.3" y2="550" stroke="#dca132" stroke-width="1.6"/>
<path d="M72.7 546.7L75.6 550L72.7 553.3L69.8 550Z" fill="#dca132"/>
<text x="83.5" y="552.9" font-size="8" fill="#2a2a2a" stroke="#2a2a2a" stroke-width="0.2">100 mm/s</text>
<line x1="65.1" y1="560.4" x2="80.3" y2="560.4" stroke="#26427f" stroke-width="1.6"/>
<path d="M69.3 557.68L76.1 557.68L72.7 563.63Z" fill="#26427f"/>
<text x="83.5" y="563.3" font-size="8" fill="#2a2a2a" stroke="#2a2a2a" stroke-width="0.2">75 mm/s</text>
<line x1="65.1" y1="570.8" x2="80.3" y2="570.8" stroke="#ab1540" stroke-width="1.6"/>
<path d="M69.3 573.52L76.1 573.52L72.7 567.57Z" fill="#ab1540"/>
<text x="83.5" y="573.7" font-size="8" fill="#2a2a2a" stroke="#2a2a2a" stroke-width="0.2">50 mm/s</text>
<line x1="65.1" y1="581.2" x2="80.3" y2="581.2" stroke="#4b2366" stroke-width="1.6"/>
<rect x="69.8" y="578.3" width="5.8" height="5.8" fill="#4b2366"/>
<text x="83.5" y="584.1" font-size="8" fill="#2a2a2a" stroke="#2a2a2a" stroke-width="0.2">25 mm/s</text>
<line x1="65.1" y1="592" x2="80.3" y2="592" stroke="#6cae4c" stroke-width="1.6"/>
<circle cx="72.7" cy="592" r="3.1" fill="#6cae4c"/>
<text x="83.5" y="594.9" font-size="8" fill="#2a2a2a" stroke="#2a2a2a" stroke-width="0.2">0 mm/s</text>
<circle cx="200.07" cy="527.9" r="1.35" fill="#b09468" opacity="0.9"/>
<circle cx="204.02" cy="527.9" r="1.35" fill="#b09468" opacity="0.9"/>
<circle cx="207.97" cy="527.9" r="1.35" fill="#b09468" opacity="0.9"/>
<circle cx="211.92" cy="527.9" r="1.35" fill="#b09468" opacity="0.9"/>
<circle cx="200.07" cy="552.2" r="1.35" fill="#2e3558" opacity="0.9"/>
<circle cx="204.02" cy="552.2" r="1.35" fill="#2e3558" opacity="0.9"/>
<circle cx="207.97" cy="552.2" r="1.35" fill="#2e3558" opacity="0.9"/>
<circle cx="211.92" cy="552.2" r="1.35" fill="#2e3558" opacity="0.9"/>
<circle cx="200.07" cy="588.6" r="1.35" fill="#6e2c4a" opacity="0.9"/>
<circle cx="204.02" cy="588.6" r="1.35" fill="#6e2c4a" opacity="0.9"/>
<circle cx="207.97" cy="588.6" r="1.35" fill="#6e2c4a" opacity="0.9"/>
<circle cx="211.92" cy="588.6" r="1.35" fill="#6e2c4a" opacity="0.9"/>
<circle cx="200.07" cy="631.9" r="1.35" fill="#44375c" opacity="0.9"/>
<circle cx="204.02" cy="631.9" r="1.35" fill="#44375c" opacity="0.9"/>
<circle cx="207.97" cy="631.9" r="1.35" fill="#44375c" opacity="0.9"/>
<circle cx="211.92" cy="631.9" r="1.35" fill="#44375c" opacity="0.9"/>
<circle cx="174.77" cy="558.4" r="1.35" fill="#b09468" opacity="0.9"/>
<circle cx="178.72" cy="558.4" r="1.35" fill="#b09468" opacity="0.9"/>
<circle cx="182.67" cy="558.4" r="1.35" fill="#b09468" opacity="0.9"/>
<circle cx="186.62" cy="558.4" r="1.35" fill="#b09468" opacity="0.9"/>
<circle cx="174.77" cy="589.8" r="1.35" fill="#2e3558" opacity="0.9"/>
<circle cx="178.72" cy="589.8" r="1.35" fill="#2e3558" opacity="0.9"/>
<circle cx="182.67" cy="589.8" r="1.35" fill="#2e3558" opacity="0.9"/>
<circle cx="186.62" cy="589.8" r="1.35" fill="#2e3558" opacity="0.9"/>
<circle cx="174.77" cy="623.5" r="1.35" fill="#6e2c4a" opacity="0.9"/>
<circle cx="178.72" cy="623.5" r="1.35" fill="#6e2c4a" opacity="0.9"/>
<circle cx="182.67" cy="623.5" r="1.35" fill="#6e2c4a" opacity="0.9"/>
<circle cx="186.62" cy="623.5" r="1.35" fill="#6e2c4a" opacity="0.9"/>
<circle cx="174.77" cy="649.5" r="1.35" fill="#44375c" opacity="0.9"/>
<circle cx="178.72" cy="649.5" r="1.35" fill="#44375c" opacity="0.9"/>
<circle cx="182.67" cy="649.5" r="1.35" fill="#44375c" opacity="0.9"/>
<circle cx="186.62" cy="649.5" r="1.35" fill="#44375c" opacity="0.9"/>
<circle cx="150.07" cy="606.6" r="1.35" fill="#b09468" opacity="0.9"/>
<circle cx="154.02" cy="606.6" r="1.35" fill="#b09468" opacity="0.9"/>
<circle cx="157.97" cy="606.6" r="1.35" fill="#b09468" opacity="0.9"/>
<circle cx="161.92" cy="606.6" r="1.35" fill="#b09468" opacity="0.9"/>
<circle cx="150.07" cy="611.6" r="1.35" fill="#2e3558" opacity="0.9"/>
<circle cx="154.02" cy="611.6" r="1.35" fill="#2e3558" opacity="0.9"/>
<circle cx="157.97" cy="611.6" r="1.35" fill="#2e3558" opacity="0.9"/>
<circle cx="161.92" cy="611.6" r="1.35" fill="#2e3558" opacity="0.9"/>
<circle cx="150.07" cy="616.5" r="1.35" fill="#6e2c4a" opacity="0.9"/>
<circle cx="154.02" cy="616.5" r="1.35" fill="#6e2c4a" opacity="0.9"/>
<circle cx="157.97" cy="616.5" r="1.35" fill="#6e2c4a" opacity="0.9"/>
<circle cx="161.92" cy="616.5" r="1.35" fill="#6e2c4a" opacity="0.9"/>
<circle cx="130.07" cy="635" r="1.35" fill="#b09468" opacity="0.9"/>
<circle cx="134.02" cy="635" r="1.35" fill="#b09468" opacity="0.9"/>
<circle cx="137.97" cy="635" r="1.35" fill="#b09468" opacity="0.9"/>
<circle cx="141.92" cy="635" r="1.35" fill="#b09468" opacity="0.9"/>
<circle cx="130.07" cy="640" r="1.35" fill="#2e3558" opacity="0.9"/>
<circle cx="134.02" cy="640" r="1.35" fill="#2e3558" opacity="0.9"/>
<circle cx="137.97" cy="640" r="1.35" fill="#2e3558" opacity="0.9"/>
<circle cx="141.92" cy="640" r="1.35" fill="#2e3558" opacity="0.9"/>
<circle cx="133.85" cy="645" r="1.35" fill="#6e2c4a" opacity="0.9"/>
<circle cx="137.8" cy="645" r="1.35" fill="#6e2c4a" opacity="0.9"/>
<circle cx="141.75" cy="645" r="1.35" fill="#6e2c4a" opacity="0.9"/>
<circle cx="112.85" cy="658" r="1.35" fill="#b09468" opacity="0.9"/>
<circle cx="116.8" cy="658" r="1.35" fill="#b09468" opacity="0.9"/>
<circle cx="120.75" cy="658" r="1.35" fill="#b09468" opacity="0.9"/>
<circle cx="112.85" cy="663.8" r="1.35" fill="#2e3558" opacity="0.9"/>
<circle cx="116.8" cy="663.8" r="1.35" fill="#2e3558" opacity="0.9"/>
<circle cx="120.75" cy="663.8" r="1.35" fill="#2e3558" opacity="0.9"/>
<line x1="326.5" y1="560.2" x2="326.5" y2="555.06" stroke="#2b4d3c" stroke-width="1"/>
<line x1="322.9" y1="555.06" x2="330.1" y2="555.06" stroke="#2b4d3c" stroke-width="1.3"/>
<rect x="318.9" y="560.2" width="15.2" height="128.5" fill="#3b6a52" stroke="#2b4d3c" stroke-width="0.8"/>
<line x1="350.6" y1="597.47" x2="350.6" y2="588.47" stroke="#2b4d3c" stroke-width="1"/>
<line x1="347" y1="588.47" x2="354.2" y2="588.47" stroke="#2b4d3c" stroke-width="1.3"/>
<rect x="343" y="597.47" width="15.2" height="91.24" fill="#3b6a52" stroke="#2b4d3c" stroke-width="0.8"/>
<line x1="374.75" y1="604.53" x2="374.75" y2="597.47" stroke="#2b4d3c" stroke-width="1"/>
<line x1="371.15" y1="597.47" x2="378.35" y2="597.47" stroke="#2b4d3c" stroke-width="1.3"/>
<rect x="367.15" y="604.53" width="15.2" height="84.17" fill="#3b6a52" stroke="#2b4d3c" stroke-width="0.8"/>
<line x1="398.8" y1="608.64" x2="398.8" y2="597.47" stroke="#2b4d3c" stroke-width="1"/>
<line x1="395.2" y1="597.47" x2="402.4" y2="597.47" stroke="#2b4d3c" stroke-width="1.3"/>
<rect x="391.2" y="608.64" width="15.2" height="80.06" fill="#3b6a52" stroke="#2b4d3c" stroke-width="0.8"/>
<line x1="422.9" y1="625.74" x2="422.9" y2="614.81" stroke="#2b4d3c" stroke-width="1"/>
<line x1="419.3" y1="614.81" x2="426.5" y2="614.81" stroke="#2b4d3c" stroke-width="1.3"/>
<rect x="415.3" y="625.74" width="15.2" height="62.97" fill="#3b6a52" stroke="#2b4d3c" stroke-width="0.8"/>
<line x1="447" y1="644.75" x2="447" y2="634.73" stroke="#2b4d3c" stroke-width="1"/>
<line x1="443.4" y1="634.73" x2="450.6" y2="634.73" stroke="#2b4d3c" stroke-width="1.3"/>
<rect x="439.4" y="644.75" width="15.2" height="43.95" fill="#3b6a52" stroke="#2b4d3c" stroke-width="0.8"/>
<line x1="471.1" y1="660.3" x2="471.1" y2="654" stroke="#2b4d3c" stroke-width="1"/>
<line x1="467.5" y1="654" x2="474.7" y2="654" stroke="#2b4d3c" stroke-width="1.3"/>
<rect x="463.5" y="660.3" width="15.2" height="28.4" fill="#3b6a52" stroke="#2b4d3c" stroke-width="0.8"/>
<line x1="310.1" y1="531.9" x2="310.1" y2="689.4" stroke="#1a1a1a" stroke-width="1.8"/>
<line x1="306.9" y1="688.7" x2="310.1" y2="688.7" stroke="#1a1a1a" stroke-width="1.1"/>
<text x="305" y="691.6" font-size="8.3" fill="#2a2a2a" stroke="#2a2a2a" stroke-width="0.2" text-anchor="end">0</text>
<line x1="306.9" y1="663" x2="310.1" y2="663" stroke="#1a1a1a" stroke-width="1.1"/>
<text x="305" y="665.9" font-size="8.3" fill="#2a2a2a" stroke="#2a2a2a" stroke-width="0.2" text-anchor="end">20</text>
<line x1="306.9" y1="637.3" x2="310.1" y2="637.3" stroke="#1a1a1a" stroke-width="1.1"/>
<text x="305" y="640.2" font-size="8.3" fill="#2a2a2a" stroke="#2a2a2a" stroke-width="0.2" text-anchor="end">40</text>
<line x1="306.9" y1="611.6" x2="310.1" y2="611.6" stroke="#1a1a1a" stroke-width="1.1"/>
<text x="305" y="614.5" font-size="8.3" fill="#2a2a2a" stroke="#2a2a2a" stroke-width="0.2" text-anchor="end">60</text>
<line x1="306.9" y1="585.9" x2="310.1" y2="585.9" stroke="#1a1a1a" stroke-width="1.1"/>
<text x="305" y="588.8" font-size="8.3" fill="#2a2a2a" stroke="#2a2a2a" stroke-width="0.2" text-anchor="end">80</text>
<line x1="306.9" y1="560.2" x2="310.1" y2="560.2" stroke="#1a1a1a" stroke-width="1.1"/>
<text x="305" y="563.1" font-size="8.3" fill="#2a2a2a" stroke="#2a2a2a" stroke-width="0.2" text-anchor="end">100</text>
<line x1="306.9" y1="534.5" x2="310.1" y2="534.5" stroke="#1a1a1a" stroke-width="1.1"/>
<text x="305" y="537.4" font-size="8.3" fill="#2a2a2a" stroke="#2a2a2a" stroke-width="0.2" text-anchor="end">120</text>
<line x1="309.2" y1="688.7" x2="487.5" y2="688.7" stroke="#1a1a1a" stroke-width="1.6"/>
<line x1="326.5" y1="688.7" x2="326.5" y2="691.7" stroke="#1a1a1a" stroke-width="1.1"/>
<text x="326.5" y="703.3" font-size="8.3" fill="#2a2a2a" stroke="#2a2a2a" stroke-width="0.2" text-anchor="middle">0</text>
<line x1="350.6" y1="688.7" x2="350.6" y2="691.7" stroke="#1a1a1a" stroke-width="1.1"/>
<text x="350.6" y="703.3" font-size="8.3" fill="#2a2a2a" stroke="#2a2a2a" stroke-width="0.2" text-anchor="middle">12.5</text>
<line x1="374.75" y1="688.7" x2="374.75" y2="691.7" stroke="#1a1a1a" stroke-width="1.1"/>
<text x="374.75" y="703.3" font-size="8.3" fill="#2a2a2a" stroke="#2a2a2a" stroke-width="0.2" text-anchor="middle">25</text>
<line x1="398.8" y1="688.7" x2="398.8" y2="691.7" stroke="#1a1a1a" stroke-width="1.1"/>
<text x="398.8" y="703.3" font-size="8.3" fill="#2a2a2a" stroke="#2a2a2a" stroke-width="0.2" text-anchor="middle">50</text>
<line x1="422.9" y1="688.7" x2="422.9" y2="691.7" stroke="#1a1a1a" stroke-width="1.1"/>
<text x="422.9" y="703.3" font-size="8.3" fill="#2a2a2a" stroke="#2a2a2a" stroke-width="0.2" text-anchor="middle">100</text>
<line x1="447" y1="688.7" x2="447" y2="691.7" stroke="#1a1a1a" stroke-width="1.1"/>
<text x="447" y="703.3" font-size="8.3" fill="#2a2a2a" stroke="#2a2a2a" stroke-width="0.2" text-anchor="middle">200</text>
<line x1="471.1" y1="688.7" x2="471.1" y2="691.7" stroke="#1a1a1a" stroke-width="1.1"/>
<text x="471.1" y="703.3" font-size="8.3" fill="#2a2a2a" stroke="#2a2a2a" stroke-width="0.2" text-anchor="middle">400</text>
<text x="399.3" y="716.9" font-size="10" fill="#2a2a2a" stroke="#2a2a2a" stroke-width="0.2" text-anchor="middle" textLength="123.1" lengthAdjust="spacingAndGlyphs">Histone concentration (μg/mL)</text>
<text x="285" y="610" font-size="9.6" fill="#2a2a2a" stroke="#2a2a2a" stroke-width="0.2" text-anchor="middle" textLength="98" lengthAdjust="spacingAndGlyphs" transform="rotate(-90 285 610)">RBC passage (%control)</text>
<circle cx="349.9" cy="584.97" r="1.25" fill="#3d4d45" opacity="0.9"/>
<circle cx="372.15" cy="593.97" r="1.25" fill="#3d4d45" opacity="0.9"/>
<circle cx="375.95" cy="593.97" r="1.25" fill="#3d4d45" opacity="0.9"/>
<circle cx="396.2" cy="593.97" r="1.25" fill="#3d4d45" opacity="0.9"/>
<circle cx="400" cy="593.97" r="1.25" fill="#3d4d45" opacity="0.9"/>
<circle cx="418.4" cy="611.31" r="1.25" fill="#3d4d45" opacity="0.9"/>
<circle cx="422.2" cy="611.31" r="1.25" fill="#3d4d45" opacity="0.9"/>
<circle cx="426" cy="611.31" r="1.25" fill="#3d4d45" opacity="0.9"/>
<circle cx="440.6" cy="631.23" r="1.25" fill="#3d4d45" opacity="0.9"/>
<circle cx="444.4" cy="631.23" r="1.25" fill="#3d4d45" opacity="0.9"/>
<circle cx="448.2" cy="631.23" r="1.25" fill="#3d4d45" opacity="0.9"/>
<circle cx="452" cy="631.23" r="1.25" fill="#3d4d45" opacity="0.9"/>
<circle cx="464.7" cy="650.5" r="1.25" fill="#3d4d45" opacity="0.9"/>
<circle cx="468.5" cy="650.5" r="1.25" fill="#3d4d45" opacity="0.9"/>
<circle cx="472.3" cy="650.5" r="1.25" fill="#3d4d45" opacity="0.9"/>
<circle cx="476.1" cy="650.5" r="1.25" fill="#3d4d45" opacity="0.9"/>
<rect x="0" y="0" width="520" height="1.1" fill="#000"/>
<rect x="0" y="0" width="1.3" height="727" fill="#000"/>
<rect x="518.6" y="0" width="1.4" height="727" fill="#000"/>
<rect x="0" y="725.6" width="520" height="1.4" fill="#000"/>
</svg>
</body></html>
